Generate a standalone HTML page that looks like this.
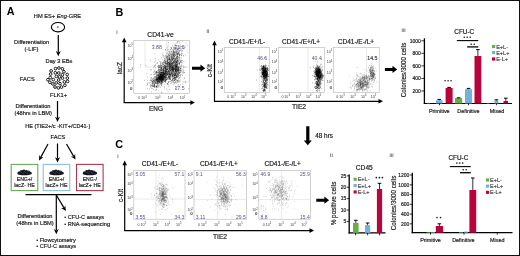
<!DOCTYPE html>
<html><head><meta charset="utf-8"><style>
html,body{margin:0;padding:0;background:#fff;width:520px;height:256px;overflow:hidden;}
svg{display:block;will-change:transform;}
text{font-family:"Liberation Sans", sans-serif;}
</style></head><body>
<svg xmlns="http://www.w3.org/2000/svg" width="520" height="256" viewBox="0 0 520 256">
<rect x="0" y="0" width="520" height="256" fill="#fff" stroke="none" stroke-width="1"/>
<text x="6.8" y="15.3" font-size="10.8" fill="#000" font-weight="bold">A</text>
<text x="57.5" y="18.2" font-size="5.7" text-anchor="middle" fill="#1a1a1a" stroke="#1a1a1a" stroke-width="0.18">HM ES+ <tspan font-style="italic">Eng</tspan>-GRE</text>
<ellipse cx="58" cy="27.2" rx="6.6" ry="4.7" fill="#fff" stroke="#000" stroke-width="1.15"/>
<circle cx="57.8" cy="27.2" r="1.1" fill="#8890b0"/>
<line x1="58.3" y1="35" x2="58.3" y2="52.599999999999994" stroke="#000" stroke-width="1.2"/>
<polygon points="55.8,51.099999999999994 58.3,52.49999999999999 60.8,51.099999999999994 58.3,56.3" fill="#000"/>
<text x="31.6" y="44.4" font-size="5.7" text-anchor="middle" fill="#1a1a1a" stroke="#1a1a1a" stroke-width="0.18">Differentiation</text>
<text x="31.4" y="51" font-size="5.7" text-anchor="middle" fill="#1a1a1a" stroke="#1a1a1a" stroke-width="0.18">(-LIF)</text>
<text x="59" y="63.3" font-size="5.7" text-anchor="middle" fill="#1a1a1a" stroke="#1a1a1a" stroke-width="0.18">Day 3 EBs</text>
<text x="27.3" y="81.2" font-size="5.7" text-anchor="middle" fill="#1a1a1a" stroke="#1a1a1a" stroke-width="0.18">FACS</text>
<circle cx="51.1" cy="70.9" r="1.35" fill="#fff" stroke="#111" stroke-width="0.95"/>
<circle cx="58.8" cy="73.0" r="1.35" fill="#fff" stroke="#111" stroke-width="0.95"/>
<circle cx="55.0" cy="87.0" r="1.35" fill="#fff" stroke="#111" stroke-width="0.95"/>
<circle cx="67.3" cy="78.1" r="1.35" fill="#fff" stroke="#111" stroke-width="0.95"/>
<circle cx="56.2" cy="82.9" r="1.35" fill="#fff" stroke="#111" stroke-width="0.95"/>
<circle cx="50.3" cy="77.6" r="1.35" fill="#fff" stroke="#111" stroke-width="0.95"/>
<circle cx="56.4" cy="76.4" r="1.35" fill="#fff" stroke="#111" stroke-width="0.95"/>
<circle cx="62.5" cy="78.1" r="1.35" fill="#fff" stroke="#111" stroke-width="0.95"/>
<circle cx="64.4" cy="81.9" r="1.35" fill="#fff" stroke="#111" stroke-width="0.95"/>
<circle cx="52.9" cy="83.9" r="1.35" fill="#fff" stroke="#111" stroke-width="0.95"/>
<circle cx="53.3" cy="79.6" r="1.35" fill="#fff" stroke="#111" stroke-width="0.95"/>
<circle cx="55.3" cy="72.8" r="1.35" fill="#fff" stroke="#111" stroke-width="0.95"/>
<circle cx="63.9" cy="71.8" r="1.35" fill="#fff" stroke="#111" stroke-width="0.95"/>
<circle cx="67.2" cy="74.5" r="1.35" fill="#fff" stroke="#111" stroke-width="0.95"/>
<circle cx="61.5" cy="87.1" r="1.35" fill="#fff" stroke="#111" stroke-width="0.95"/>
<circle cx="58.9" cy="68.0" r="1.35" fill="#fff" stroke="#111" stroke-width="0.95"/>
<circle cx="49.9" cy="82.3" r="1.35" fill="#fff" stroke="#111" stroke-width="0.95"/>
<circle cx="60.0" cy="83.7" r="1.35" fill="#fff" stroke="#111" stroke-width="0.95"/>
<circle cx="58.7" cy="80.0" r="1.35" fill="#fff" stroke="#111" stroke-width="0.95"/>
<circle cx="50.6" cy="74.1" r="1.35" fill="#fff" stroke="#111" stroke-width="0.95"/>
<circle cx="62.4" cy="74.8" r="1.35" fill="#fff" stroke="#111" stroke-width="0.95"/>
<circle cx="67.6" cy="81.4" r="1.35" fill="#fff" stroke="#111" stroke-width="0.95"/>
<circle cx="55.5" cy="68.6" r="1.35" fill="#fff" stroke="#111" stroke-width="0.95"/>
<circle cx="64.9" cy="85.3" r="1.35" fill="#fff" stroke="#111" stroke-width="0.95"/>
<circle cx="58.3" cy="87.9" r="1.35" fill="#fff" stroke="#111" stroke-width="0.95"/>
<circle cx="62.4" cy="68.8" r="1.35" fill="#fff" stroke="#111" stroke-width="0.95"/>
<circle cx="59.5" cy="76.8" r="1.35" fill="#fff" stroke="#111" stroke-width="0.95"/>
<circle cx="47.9" cy="79.7" r="1.35" fill="#fff" stroke="#111" stroke-width="0.95"/>
<text x="58.5" y="97.3" font-size="5.7" text-anchor="middle" fill="#1a1a1a" stroke="#1a1a1a" stroke-width="0.18">FLK1+</text>
<line x1="57.5" y1="101" x2="57.5" y2="118.3" stroke="#000" stroke-width="1.2"/>
<polygon points="55.0,116.8 57.5,118.2 60.0,116.8 57.5,122" fill="#000"/>
<text x="33" y="108.3" font-size="5.7" text-anchor="middle" fill="#1a1a1a" stroke="#1a1a1a" stroke-width="0.18">Differentiation</text>
<text x="33.2" y="115" font-size="5.7" text-anchor="middle" fill="#1a1a1a" stroke="#1a1a1a" stroke-width="0.18">(48hrs in LBM)</text>
<text x="57.8" y="127.8" font-size="5.55" text-anchor="middle" fill="#1a1a1a" stroke="#1a1a1a" stroke-width="0.18">HE (TIE2+/c -KIT+/CD41-)</text>
<text x="58" y="139.2" font-size="5.7" text-anchor="middle" fill="#1a1a1a" stroke="#1a1a1a" stroke-width="0.18">FACS</text>
<line x1="48" y1="144" x2="40.72386767045006" y2="157.33957593750822" stroke="#000" stroke-width="1.2"/>
<polygon points="39.29,154.96 40.72,157.34 43.50,157.26 39,160.5" fill="#000"/>
<line x1="57.5" y1="143.5" x2="57.5" y2="158.8" stroke="#000" stroke-width="1.2"/>
<polygon points="55.0,157.3 57.5,158.70000000000002 60.0,157.3 57.5,162.5" fill="#000"/>
<line x1="66.5" y1="144" x2="73.69231213740859" y2="156.3867597922037" stroke="#000" stroke-width="1.2"/>
<polygon points="70.91,156.38 73.69,156.39 75.06,153.97 75.5,159.5" fill="#000"/>
<rect x="11.2" y="164.4" width="26.6" height="26.2" fill="none" stroke="#6aa85c" stroke-width="1.1"/>
<ellipse cx="24.5" cy="173.4" rx="7.2" ry="1.9" fill="#181822"/>
<circle cx="19.3" cy="172.8" r="1.6" fill="#181822"/>
<circle cx="21.5" cy="171.8" r="1.8" fill="#181822"/>
<circle cx="23.9" cy="171.4" r="1.9" fill="#181822"/>
<circle cx="26.3" cy="171.7" r="1.8" fill="#181822"/>
<circle cx="28.5" cy="172.2" r="1.7" fill="#181822"/>
<circle cx="30.3" cy="173.0" r="1.3" fill="#181822"/>
<circle cx="22.7" cy="173.2" r="1.6" fill="#181822"/>
<circle cx="27.1" cy="173.3" r="1.6" fill="#181822"/>
<circle cx="20.3" cy="171.7" r="0.35" fill="#8890a0"/>
<circle cx="21.7" cy="172.4" r="0.35" fill="#8890a0"/>
<circle cx="23.1" cy="173.1" r="0.35" fill="#8890a0"/>
<circle cx="24.5" cy="171.7" r="0.35" fill="#8890a0"/>
<circle cx="25.9" cy="172.4" r="0.35" fill="#8890a0"/>
<circle cx="27.3" cy="173.1" r="0.35" fill="#8890a0"/>
<circle cx="28.7" cy="171.7" r="0.35" fill="#8890a0"/>
<text x="24.5" y="181.0" font-size="5.1" text-anchor="middle" fill="#1a1a1a" stroke="#1a1a1a" stroke-width="0.18">ENG+/</text>
<text x="24.5" y="187.0" font-size="5.3" text-anchor="middle" fill="#1a1a1a" stroke="#1a1a1a" stroke-width="0.18">lacZ- HE</text>
<rect x="43.2" y="164.4" width="26.6" height="26.2" fill="none" stroke="#8dbfde" stroke-width="1.1"/>
<ellipse cx="56.5" cy="173.4" rx="7.2" ry="1.9" fill="#181822"/>
<circle cx="51.3" cy="172.8" r="1.6" fill="#181822"/>
<circle cx="53.5" cy="171.8" r="1.8" fill="#181822"/>
<circle cx="55.9" cy="171.4" r="1.9" fill="#181822"/>
<circle cx="58.3" cy="171.7" r="1.8" fill="#181822"/>
<circle cx="60.5" cy="172.2" r="1.7" fill="#181822"/>
<circle cx="62.3" cy="173.0" r="1.3" fill="#181822"/>
<circle cx="54.7" cy="173.2" r="1.6" fill="#181822"/>
<circle cx="59.1" cy="173.3" r="1.6" fill="#181822"/>
<circle cx="52.3" cy="171.7" r="0.35" fill="#8890a0"/>
<circle cx="53.7" cy="172.4" r="0.35" fill="#8890a0"/>
<circle cx="55.1" cy="173.1" r="0.35" fill="#8890a0"/>
<circle cx="56.5" cy="171.7" r="0.35" fill="#8890a0"/>
<circle cx="57.9" cy="172.4" r="0.35" fill="#8890a0"/>
<circle cx="59.3" cy="173.1" r="0.35" fill="#8890a0"/>
<circle cx="60.7" cy="171.7" r="0.35" fill="#8890a0"/>
<text x="56.5" y="181.0" font-size="5.1" text-anchor="middle" fill="#1a1a1a" stroke="#1a1a1a" stroke-width="0.18">ENG+/</text>
<text x="56.5" y="187.0" font-size="5.3" text-anchor="middle" fill="#1a1a1a" stroke="#1a1a1a" stroke-width="0.18">lacZ+ HE</text>
<rect x="76.5" y="164.4" width="26.6" height="26.2" fill="none" stroke="#a83a4e" stroke-width="1.1"/>
<ellipse cx="89.8" cy="173.4" rx="7.2" ry="1.9" fill="#181822"/>
<circle cx="84.6" cy="172.8" r="1.6" fill="#181822"/>
<circle cx="86.8" cy="171.8" r="1.8" fill="#181822"/>
<circle cx="89.2" cy="171.4" r="1.9" fill="#181822"/>
<circle cx="91.6" cy="171.7" r="1.8" fill="#181822"/>
<circle cx="93.8" cy="172.2" r="1.7" fill="#181822"/>
<circle cx="95.6" cy="173.0" r="1.3" fill="#181822"/>
<circle cx="88.0" cy="173.2" r="1.6" fill="#181822"/>
<circle cx="92.4" cy="173.3" r="1.6" fill="#181822"/>
<circle cx="85.6" cy="171.7" r="0.35" fill="#8890a0"/>
<circle cx="87.0" cy="172.4" r="0.35" fill="#8890a0"/>
<circle cx="88.4" cy="173.1" r="0.35" fill="#8890a0"/>
<circle cx="89.8" cy="171.7" r="0.35" fill="#8890a0"/>
<circle cx="91.2" cy="172.4" r="0.35" fill="#8890a0"/>
<circle cx="92.6" cy="173.1" r="0.35" fill="#8890a0"/>
<circle cx="94.0" cy="171.7" r="0.35" fill="#8890a0"/>
<text x="89.8" y="181.0" font-size="5.1" text-anchor="middle" fill="#1a1a1a" stroke="#1a1a1a" stroke-width="0.18">ENG-/</text>
<text x="89.8" y="187.0" font-size="5.3" text-anchor="middle" fill="#1a1a1a" stroke="#1a1a1a" stroke-width="0.18">lacZ+ HE</text>
<line x1="25.5" y1="194.6" x2="91.5" y2="194.6" stroke="#000" stroke-width="1.2"/>
<line x1="56.3" y1="195" x2="56.3" y2="230.60000000000002" stroke="#000" stroke-width="1.2"/>
<polygon points="53.8,229.10000000000002 56.3,230.50000000000003 58.8,229.10000000000002 56.3,234.3" fill="#000"/>
<line x1="56.3" y1="195" x2="63.962060485040425" y2="207.90452292217336" stroke="#000" stroke-width="1.2"/>
<polygon points="61.18,207.93 63.96,207.90 65.31,205.48 65.8,211" fill="#000"/>
<text x="35" y="218.3" font-size="5.7" text-anchor="middle" fill="#1a1a1a" stroke="#1a1a1a" stroke-width="0.18">Differentiation</text>
<text x="35" y="224.6" font-size="5.7" text-anchor="middle" fill="#1a1a1a" stroke="#1a1a1a" stroke-width="0.18">(48hrs in LBM)</text>
<text x="64.2" y="219.1" font-size="5.6" fill="#1a1a1a" stroke="#1a1a1a" stroke-width="0.18">• CFU-C assays</text>
<text x="64.2" y="225.6" font-size="5.6" fill="#1a1a1a" stroke="#1a1a1a" stroke-width="0.18">• RNA-sequencing</text>
<text x="36.2" y="241.9" font-size="5.6" fill="#1a1a1a" stroke="#1a1a1a" stroke-width="0.18">• Flowcytometry</text>
<text x="36.2" y="248.3" font-size="5.6" fill="#1a1a1a" stroke="#1a1a1a" stroke-width="0.18">• CFU-C assays</text>
<text x="115.6" y="15.6" font-size="10.8" fill="#000" font-weight="bold">B</text>
<text x="116.3" y="33.7" font-size="5" fill="#666" font-weight="bold">i</text>
<text x="160.5" y="37.1" font-size="6.7" text-anchor="middle" fill="#1a1a1a" stroke="#1a1a1a" stroke-width="0.18">CD41-ve</text>
<rect x="133.8" y="40.5" width="55.5" height="53.0" fill="none" stroke="#b4b4b4" stroke-width="0.6"/>
<path d="M145 40.5 V67 H166.3 V40.5 M168 40.5 V67 H189.3 M168 93.5 V82 H189.3" fill="none" stroke="#cfcfcf" stroke-width="0.45"/>
<path d="M163.0 75.3h0.5M162.1 72.9h0.5M161.9 75.1h0.5M152.9 80.0h0.5M155.6 83.1h0.5M163.6 75.6h0.5M158.4 81.0h0.5M158.8 80.8h0.5M161.3 77.8h0.5M161.0 74.7h0.5M160.9 75.4h0.5M159.5 78.7h0.5M162.0 75.9h0.5M160.5 76.8h0.5M159.2 81.1h0.5M159.6 77.9h0.5M164.7 76.3h0.5M159.8 80.3h0.5M162.2 78.2h0.5M160.0 79.3h0.5M163.2 79.6h0.5M160.9 79.0h0.5M158.3 80.2h0.5M159.4 80.3h0.5M157.8 79.9h0.5M159.5 78.7h0.5M156.6 76.0h0.5M165.0 75.5h0.5M158.3 77.5h0.5M157.0 79.4h0.5M160.8 76.3h0.5M160.9 75.1h0.5M165.1 79.9h0.5M162.4 78.6h0.5M157.7 78.5h0.5M158.7 81.5h0.5M160.7 77.5h0.5M166.7 79.4h0.5M162.4 79.9h0.5M156.4 79.8h0.5M157.8 78.2h0.5M162.4 75.3h0.5M161.0 80.2h0.5M159.3 77.1h0.5M164.8 75.3h0.5M151.8 86.7h0.5M160.7 77.8h0.5M156.9 79.0h0.5M165.0 76.5h0.5M161.8 82.8h0.5M161.9 79.3h0.5M160.0 78.4h0.5M159.9 77.7h0.5M163.0 79.7h0.5M158.9 77.9h0.5M162.4 77.8h0.5M161.6 77.1h0.5M159.0 77.6h0.5M162.3 75.2h0.5M156.2 79.3h0.5M158.9 80.9h0.5M161.2 81.6h0.5M155.3 80.3h0.5M155.9 80.1h0.5M162.5 80.2h0.5M158.0 74.5h0.5M160.0 74.6h0.5M161.2 76.4h0.5M158.0 78.9h0.5M160.5 75.3h0.5M158.8 78.7h0.5M162.9 76.7h0.5M154.9 78.3h0.5M161.9 79.1h0.5M162.3 75.4h0.5M163.5 77.0h0.5M160.1 80.2h0.5M156.3 78.5h0.5M154.7 77.1h0.5M157.7 78.1h0.5M165.1 77.2h0.5M157.5 77.2h0.5M162.6 76.7h0.5M160.6 83.3h0.5M161.9 75.8h0.5M163.9 79.3h0.5M160.8 77.2h0.5M160.3 72.8h0.5M160.3 77.0h0.5M156.4 74.9h0.5M161.4 76.0h0.5M160.9 78.8h0.5M161.6 76.8h0.5M169.7 74.7h0.5M159.4 77.9h0.5M163.7 76.5h0.5M161.7 79.2h0.5M160.7 74.7h0.5M157.5 83.0h0.5M161.7 77.7h0.5M161.8 76.4h0.5M167.2 77.7h0.5M160.0 74.6h0.5M159.5 78.9h0.5M162.8 79.7h0.5M165.7 75.0h0.5M160.8 77.2h0.5M157.8 78.3h0.5M161.2 78.1h0.5M158.6 81.1h0.5M163.6 79.3h0.5M164.5 81.8h0.5M161.8 78.7h0.5M159.1 76.9h0.5M163.8 78.3h0.5M162.1 77.1h0.5M156.5 80.9h0.5M159.6 74.9h0.5M161.1 82.9h0.5M159.0 76.3h0.5M157.1 81.6h0.5M162.6 78.8h0.5M153.5 80.5h0.5M165.0 70.6h0.5M159.7 79.5h0.5M166.5 70.3h0.5M158.8 73.3h0.5M158.5 79.6h0.5M160.6 73.8h0.5M161.3 75.9h0.5M158.8 77.0h0.5M158.9 79.8h0.5M164.6 74.4h0.5M160.9 79.5h0.5M157.3 75.4h0.5M164.2 76.8h0.5M166.0 75.8h0.5M158.9 77.3h0.5M159.4 78.9h0.5M159.0 79.7h0.5M157.9 77.2h0.5M163.3 77.6h0.5M160.1 75.7h0.5M159.0 77.1h0.5M156.3 79.5h0.5M158.9 78.4h0.5M157.6 78.9h0.5M159.5 79.5h0.5M160.3 77.3h0.5M163.3 74.3h0.5M162.2 75.3h0.5M162.1 82.7h0.5M157.3 79.9h0.5M159.3 82.4h0.5M160.7 77.3h0.5M162.6 76.8h0.5M160.0 78.5h0.5M161.1 74.7h0.5M161.3 76.3h0.5M160.5 77.7h0.5M162.3 73.8h0.5M164.3 79.7h0.5M163.6 75.9h0.5M160.6 77.0h0.5M164.3 71.6h0.5M165.9 73.8h0.5M152.9 82.4h0.5M164.8 79.3h0.5M162.6 76.9h0.5M162.2 72.5h0.5M161.0 77.8h0.5M157.0 84.0h0.5M159.5 77.1h0.5M157.2 79.1h0.5M165.7 77.5h0.5M169.1 76.6h0.5M159.1 79.4h0.5M158.5 78.3h0.5M160.2 81.3h0.5M162.4 78.0h0.5M158.8 81.2h0.5M161.4 78.3h0.5M166.0 74.9h0.5M158.5 75.8h0.5M160.8 73.3h0.5M161.7 80.6h0.5M155.8 76.9h0.5M160.6 78.0h0.5M164.8 77.0h0.5M161.3 72.5h0.5M158.1 75.1h0.5M167.9 76.7h0.5M160.6 77.2h0.5M160.1 79.5h0.5M155.9 79.9h0.5M163.3 72.4h0.5M161.1 78.8h0.5M161.0 80.1h0.5M166.1 75.1h0.5M159.5 78.1h0.5M158.6 79.6h0.5M156.6 77.9h0.5M156.7 75.1h0.5M163.2 76.4h0.5M163.2 81.9h0.5M155.2 83.3h0.5M156.8 79.5h0.5M161.3 80.5h0.5M154.2 81.3h0.5M161.2 76.6h0.5M157.4 79.6h0.5M159.2 74.9h0.5M161.7 77.1h0.5M159.5 79.0h0.5M166.1 74.4h0.5M161.5 80.0h0.5M159.5 74.0h0.5M167.5 73.8h0.5M162.1 74.9h0.5M159.6 76.5h0.5M162.5 76.4h0.5M159.3 78.7h0.5M162.0 78.9h0.5M158.0 77.2h0.5M161.3 78.4h0.5M165.6 78.5h0.5M161.6 76.7h0.5M157.5 79.0h0.5M157.8 79.1h0.5M158.0 77.2h0.5M163.4 75.4h0.5M161.5 76.0h0.5M162.1 75.3h0.5M157.9 78.2h0.5M162.4 81.1h0.5M162.6 79.4h0.5M159.8 76.0h0.5M163.1 74.6h0.5M158.1 82.3h0.5M158.4 76.7h0.5M161.3 81.3h0.5M161.9 77.1h0.5M160.7 73.4h0.5M167.8 74.0h0.5M158.9 77.4h0.5M162.6 75.7h0.5M161.4 85.6h0.5M159.6 78.3h0.5M159.1 82.7h0.5M163.3 73.7h0.5M155.3 77.6h0.5M158.8 77.2h0.5M165.5 77.3h0.5M160.1 78.1h0.5M156.6 78.1h0.5M157.4 77.6h0.5M164.5 75.2h0.5M157.4 81.5h0.5M161.1 75.9h0.5M163.2 76.7h0.5M156.4 77.7h0.5M160.4 79.6h0.5M157.9 80.9h0.5M160.6 79.0h0.5M161.6 76.3h0.5M156.6 73.0h0.5M159.5 77.5h0.5M154.9 79.1h0.5M161.3 74.8h0.5M161.1 81.4h0.5M160.6 76.0h0.5M162.3 80.8h0.5M159.9 75.2h0.5M162.5 78.3h0.5M154.3 83.0h0.5M161.5 76.2h0.5M160.7 76.6h0.5M158.2 79.0h0.5M161.5 78.7h0.5M162.8 73.3h0.5M161.7 76.3h0.5M157.6 79.0h0.5M159.2 73.7h0.5M162.4 78.5h0.5M162.2 79.9h0.5M165.0 78.4h0.5M161.0 80.8h0.5M161.5 81.3h0.5M159.0 81.0h0.5M161.4 76.1h0.5M156.5 75.3h0.5M160.0 79.8h0.5M157.2 79.3h0.5M162.4 75.3h0.5M158.3 81.8h0.5M157.3 81.0h0.5M158.6 76.8h0.5M159.2 76.3h0.5M160.1 74.7h0.5M164.2 79.4h0.5M160.0 76.1h0.5M161.1 79.4h0.5M154.8 76.7h0.5M162.5 78.4h0.5M158.4 77.7h0.5M161.5 75.5h0.5M161.8 78.2h0.5M162.8 80.3h0.5M159.6 75.2h0.5M162.0 78.2h0.5M168.0 77.4h0.5M159.7 73.0h0.5M159.7 81.8h0.5M168.6 75.9h0.5M161.7 78.7h0.5M161.2 80.2h0.5M157.6 75.7h0.5M161.2 75.7h0.5M159.7 77.7h0.5M158.3 77.8h0.5M164.9 75.8h0.5M158.4 79.9h0.5M157.5 81.4h0.5M158.8 82.1h0.5M165.5 80.5h0.5M161.5 78.4h0.5M164.7 74.1h0.5M163.4 75.2h0.5M163.5 76.1h0.5M160.8 80.6h0.5M165.5 77.3h0.5M157.8 80.2h0.5M160.5 78.4h0.5M158.3 77.4h0.5M162.1 80.9h0.5M162.1 76.1h0.5M156.7 79.3h0.5M156.3 80.1h0.5M160.8 74.0h0.5M157.6 77.9h0.5M162.6 75.6h0.5M160.1 79.8h0.5M159.1 79.5h0.5M168.0 76.1h0.5M162.1 76.3h0.5M162.3 71.9h0.5M162.1 72.5h0.5M162.5 75.0h0.5M166.6 79.4h0.5M158.9 76.0h0.5M160.2 79.6h0.5M160.2 77.7h0.5M160.1 80.0h0.5M159.1 79.9h0.5M158.8 78.2h0.5M160.7 76.0h0.5M160.2 79.4h0.5M160.3 79.9h0.5M158.5 79.4h0.5M160.6 75.2h0.5M157.0 82.7h0.5M160.6 77.9h0.5M163.6 77.9h0.5M161.4 79.6h0.5M158.9 78.2h0.5M163.5 75.1h0.5M160.3 76.0h0.5M165.1 78.8h0.5M163.6 77.3h0.5M163.2 73.9h0.5M165.2 74.0h0.5M157.9 77.6h0.5M160.3 74.5h0.5M163.0 78.5h0.5M155.3 79.6h0.5M161.2 72.7h0.5M165.6 76.7h0.5M160.4 74.8h0.5M158.3 78.3h0.5M162.4 77.8h0.5M162.8 79.6h0.5M156.2 76.9h0.5M158.8 75.6h0.5M158.7 80.9h0.5M160.5 77.6h0.5M158.4 81.1h0.5M169.8 76.6h0.5M162.5 77.3h0.5M157.5 82.4h0.5M161.2 76.7h0.5M163.2 80.2h0.5M158.9 75.4h0.5M159.8 81.1h0.5M164.1 76.6h0.5M157.5 81.4h0.5M162.3 79.9h0.5M159.7 76.8h0.5M157.7 74.6h0.5M161.0 77.3h0.5M157.1 77.5h0.5M154.3 82.3h0.5M157.4 78.7h0.5M163.9 75.3h0.5M160.8 77.0h0.5M161.4 77.9h0.5M160.4 76.6h0.5M155.9 77.0h0.5M161.4 82.0h0.5M163.9 77.1h0.5M160.7 80.5h0.5M156.1 79.7h0.5M166.0 74.8h0.5M159.9 81.9h0.5M154.0 80.2h0.5M161.2 76.1h0.5M163.2 74.5h0.5M163.7 74.9h0.5M163.9 76.6h0.5M159.4 78.1h0.5M163.5 77.0h0.5M162.7 74.7h0.5M161.7 74.9h0.5M169.9 70.0h0.5M160.9 76.8h0.5M161.6 83.8h0.5M166.8 69.9h0.5M168.9 66.0h0.5M169.8 66.8h0.5M167.9 68.6h0.5M165.8 66.9h0.5M169.7 67.8h0.5M159.6 71.5h0.5M169.1 71.8h0.5M169.5 81.7h0.5M154.8 76.5h0.5M165.2 67.9h0.5M159.3 72.5h0.5M154.4 71.4h0.5M169.3 74.7h0.5M168.9 67.3h0.5M162.9 72.4h0.5M158.1 81.8h0.5M168.7 66.3h0.5M161.2 73.7h0.5M164.4 81.4h0.5M166.7 69.5h0.5M158.8 66.0h0.5M158.9 72.1h0.5M169.5 65.8h0.5M163.6 68.0h0.5M162.1 73.9h0.5M161.3 83.6h0.5M156.4 71.6h0.5M169.4 76.8h0.5M161.2 75.1h0.5M169.0 76.2h0.5M168.0 75.3h0.5M161.0 81.3h0.5M161.0 68.6h0.5M162.4 74.0h0.5M162.4 78.6h0.5M157.7 70.1h0.5M164.7 78.1h0.5M177.3 60.7h0.5M169.2 73.1h0.5M157.3 63.2h0.5M161.5 85.7h0.5M168.3 69.0h0.5M176.9 58.0h0.5M167.4 72.0h0.5M158.3 75.4h0.5M155.8 73.1h0.5M160.9 67.6h0.5M163.6 80.1h0.5M157.1 79.9h0.5M165.5 72.7h0.5M156.8 76.3h0.5M171.9 59.5h0.5M172.4 67.9h0.5M170.3 65.5h0.5M166.7 69.8h0.5M166.5 69.4h0.5M157.0 80.8h0.5M172.7 75.8h0.5M163.4 71.1h0.5M170.7 73.2h0.5M153.3 68.1h0.5M171.2 59.9h0.5M163.5 77.6h0.5M165.9 77.5h0.5M170.1 70.5h0.5M158.3 71.0h0.5M168.7 79.1h0.5M165.0 69.8h0.5M157.9 78.3h0.5M159.4 73.5h0.5M168.9 77.2h0.5M165.3 72.2h0.5M167.7 66.0h0.5M163.8 72.2h0.5M169.6 63.9h0.5M165.7 70.7h0.5M158.9 76.5h0.5M174.3 63.3h0.5M161.7 68.1h0.5M165.7 68.3h0.5M165.8 77.5h0.5M160.2 75.0h0.5M169.9 70.7h0.5M168.6 73.4h0.5M156.0 86.6h0.5M163.1 71.7h0.5M159.3 71.2h0.5M161.9 73.1h0.5M171.0 71.4h0.5M161.0 71.1h0.5M165.5 73.8h0.5M159.6 82.0h0.5M165.6 79.7h0.5M167.7 74.8h0.5M160.1 75.2h0.5M165.8 66.7h0.5M169.1 67.1h0.5M152.7 83.7h0.5M160.1 77.6h0.5M161.9 71.2h0.5M160.4 76.7h0.5M167.5 69.0h0.5M165.3 73.4h0.5M164.2 70.6h0.5M156.6 79.2h0.5M164.9 69.2h0.5M163.2 70.6h0.5M167.3 66.8h0.5M169.3 62.7h0.5M161.1 75.0h0.5M154.4 74.5h0.5M161.4 73.8h0.5M159.5 76.6h0.5M160.2 69.5h0.5M161.5 76.9h0.5M160.7 67.7h0.5M160.0 74.2h0.5M169.0 64.5h0.5M171.6 56.5h0.5M160.1 78.3h0.5M162.5 66.7h0.5M157.3 75.7h0.5M158.6 83.7h0.5M160.7 73.2h0.5M164.2 70.4h0.5M166.2 66.2h0.5M163.8 62.0h0.5M160.8 69.4h0.5M161.4 83.9h0.5M159.6 65.5h0.5M164.7 64.9h0.5M168.7 71.3h0.5M159.2 67.2h0.5M163.6 76.9h0.5M154.1 74.0h0.5M164.2 76.8h0.5M164.1 65.5h0.5M157.4 80.5h0.5M167.0 65.6h0.5M171.6 62.3h0.5M161.8 72.2h0.5M158.0 69.8h0.5M166.9 62.3h0.5M163.9 74.7h0.5M161.0 69.2h0.5M170.8 61.8h0.5M162.8 78.1h0.5M174.3 64.6h0.5M166.1 63.5h0.5M150.8 80.0h0.5M158.2 67.0h0.5M158.6 67.2h0.5M157.7 74.3h0.5M162.2 68.1h0.5M166.1 72.0h0.5M166.9 63.7h0.5M166.7 67.9h0.5M158.3 74.5h0.5M156.2 71.6h0.5M164.5 74.3h0.5M159.4 77.5h0.5M165.4 67.2h0.5M158.7 72.3h0.5M166.7 66.6h0.5M172.5 66.1h0.5M159.4 69.3h0.5M166.6 72.5h0.5M156.6 73.1h0.5M159.1 77.1h0.5M173.5 62.3h0.5M154.8 69.2h0.5M166.5 63.0h0.5M160.9 73.0h0.5M171.3 66.9h0.5M171.0 82.8h0.5M166.2 69.4h0.5M168.0 62.4h0.5M163.1 79.3h0.5M164.0 65.7h0.5M163.5 77.9h0.5M170.0 59.2h0.5M171.2 70.5h0.5M162.0 66.3h0.5M156.4 85.8h0.5M175.1 54.7h0.5M165.1 77.5h0.5M163.8 69.1h0.5M156.2 79.0h0.5M162.3 80.3h0.5M162.3 79.5h0.5M166.9 67.8h0.5M170.0 72.8h0.5M169.1 74.3h0.5M164.5 74.3h0.5M162.6 77.4h0.5M159.9 70.9h0.5M160.1 73.5h0.5M160.9 69.2h0.5M151.5 69.9h0.5M160.3 66.5h0.5M164.8 74.6h0.5M168.6 71.7h0.5M161.3 72.6h0.5M164.7 67.4h0.5M162.3 75.2h0.5M164.3 73.1h0.5M166.1 73.1h0.5M169.0 71.2h0.5M152.0 82.0h0.5M165.4 81.4h0.5M160.9 68.7h0.5M158.0 77.1h0.5M168.9 78.7h0.5M167.0 62.8h0.5M169.8 68.0h0.5M160.6 74.7h0.5M154.5 79.6h0.5M166.7 64.6h0.5M172.6 67.3h0.5M162.8 77.0h0.5M176.5 62.8h0.5M169.5 78.1h0.5M162.3 72.4h0.5M168.0 71.7h0.5M159.4 73.9h0.5M167.6 60.9h0.5M159.2 72.4h0.5M161.5 73.1h0.5M166.9 64.8h0.5M169.2 63.5h0.5M166.4 69.0h0.5M153.9 86.4h0.5M170.7 70.4h0.5M168.1 70.7h0.5M165.0 64.2h0.5M163.0 78.0h0.5M170.5 71.6h0.5M160.9 70.6h0.5M160.7 74.4h0.5M153.4 72.2h0.5M157.7 74.0h0.5M163.3 67.0h0.5M164.9 62.1h0.5M158.9 70.0h0.5M167.2 69.6h0.5M169.4 70.3h0.5M167.1 59.4h0.5M163.2 69.9h0.5M164.7 74.2h0.5M157.2 66.3h0.5M167.7 79.3h0.5M168.7 72.9h0.5M158.7 74.5h0.5M168.7 73.6h0.5M160.4 79.0h0.5M171.8 69.6h0.5M161.3 75.0h0.5M154.0 77.8h0.5M163.4 69.3h0.5M154.8 72.6h0.5M166.1 72.9h0.5M155.3 65.5h0.5M164.2 60.9h0.5M163.2 72.8h0.5M177.7 58.4h0.5M168.0 82.2h0.5M169.2 62.0h0.5M155.4 80.0h0.5M169.1 77.8h0.5M162.8 71.1h0.5M163.7 79.7h0.5M162.1 69.1h0.5M173.1 68.9h0.5M161.8 79.0h0.5M161.1 84.1h0.5M168.7 73.0h0.5M166.7 70.3h0.5M171.0 66.7h0.5M163.8 77.2h0.5M160.4 79.1h0.5M161.8 78.8h0.5M160.8 78.4h0.5M164.8 81.2h0.5M165.1 73.3h0.5M157.7 80.8h0.5M164.5 73.5h0.5M167.3 69.6h0.5M162.1 75.0h0.5M158.7 76.7h0.5M168.8 76.7h0.5M154.5 80.1h0.5M162.9 78.7h0.5M164.1 67.1h0.5M174.3 75.7h0.5M166.0 73.1h0.5M167.0 71.6h0.5M164.3 76.9h0.5M159.0 78.6h0.5M163.8 80.6h0.5M164.5 68.0h0.5M162.1 76.4h0.5M152.5 81.7h0.5M163.0 74.0h0.5M163.5 69.1h0.5M171.8 65.4h0.5M157.3 74.4h0.5M161.9 73.8h0.5M169.7 68.4h0.5M163.0 62.9h0.5M158.9 73.8h0.5M163.3 64.1h0.5M159.2 81.7h0.5M167.1 72.6h0.5M161.9 80.0h0.5M161.7 79.5h0.5M160.1 72.7h0.5M167.7 68.4h0.5M160.2 68.2h0.5M157.0 70.9h0.5M161.8 78.2h0.5M164.1 72.3h0.5M165.6 79.4h0.5M160.5 72.1h0.5M151.2 78.3h0.5M161.7 70.7h0.5M171.3 65.2h0.5M156.6 62.9h0.5M162.6 82.4h0.5M163.2 69.3h0.5M162.1 70.6h0.5M174.3 71.8h0.5M160.2 87.3h0.5M159.3 69.9h0.5M172.1 59.3h0.5M153.9 81.6h0.5M169.7 72.6h0.5M170.2 79.0h0.5M171.3 68.3h0.5M156.5 77.7h0.5M168.1 71.3h0.5M167.5 63.7h0.5M170.2 79.3h0.5M160.4 69.5h0.5M166.8 70.2h0.5M154.9 90.1h0.5M164.4 77.8h0.5M163.8 66.6h0.5M165.5 70.9h0.5M164.8 67.9h0.5M156.1 72.3h0.5M165.2 66.5h0.5M166.5 73.4h0.5M161.6 82.2h0.5M162.0 81.4h0.5M170.3 75.9h0.5M167.3 65.6h0.5M157.5 76.2h0.5M156.0 72.8h0.5M148.8 82.6h0.5M161.5 72.6h0.5M165.2 80.4h0.5M159.0 79.0h0.5M160.3 63.3h0.5M166.4 73.4h0.5M155.2 81.2h0.5M163.9 67.2h0.5M167.7 74.8h0.5M165.0 71.4h0.5M165.9 80.7h0.5M163.3 75.3h0.5M162.8 69.8h0.5M163.6 73.7h0.5M163.8 73.1h0.5M161.5 70.5h0.5M160.6 71.9h0.5M166.9 67.5h0.5M172.3 68.2h0.5M165.2 72.8h0.5M170.5 67.1h0.5M161.4 82.4h0.5M161.7 65.7h0.5M160.0 80.7h0.5M162.8 75.3h0.5M163.2 76.1h0.5M164.3 73.6h0.5M161.0 72.5h0.5M160.9 65.6h0.5M169.2 78.6h0.5M163.6 72.3h0.5M165.1 68.2h0.5M159.7 67.3h0.5M165.1 67.3h0.5M161.7 75.0h0.5M163.1 72.1h0.5M163.1 68.6h0.5M161.5 75.5h0.5M160.4 82.8h0.5M160.8 78.2h0.5M165.1 73.1h0.5M168.7 60.4h0.5M154.4 66.6h0.5M176.0 64.6h0.5M165.3 67.2h0.5M160.9 81.1h0.5M158.5 78.8h0.5M160.5 80.7h0.5M166.8 63.9h0.5M165.6 67.6h0.5M167.6 67.0h0.5M157.4 72.4h0.5M169.5 78.4h0.5M163.7 67.7h0.5M167.2 58.5h0.5M165.4 75.8h0.5M167.1 74.2h0.5M162.9 72.1h0.5M156.7 86.7h0.5M163.0 75.8h0.5M162.3 76.1h0.5M163.9 70.7h0.5M159.1 71.4h0.5M161.4 67.0h0.5M168.1 70.7h0.5M163.0 72.9h0.5M171.2 58.4h0.5M162.7 77.5h0.5M162.2 75.4h0.5M163.9 77.8h0.5M153.3 74.7h0.5M164.7 76.1h0.5M165.0 65.9h0.5M164.6 72.5h0.5M162.9 80.1h0.5M163.4 79.6h0.5M165.7 77.6h0.5M167.3 68.3h0.5M166.7 72.2h0.5M166.5 69.6h0.5M171.3 73.2h0.5M160.1 77.7h0.5M169.2 73.8h0.5M158.3 82.2h0.5M165.6 61.7h0.5M169.0 65.4h0.5M169.7 72.6h0.5M166.2 71.4h0.5M175.1 68.3h0.5M171.8 80.5h0.5M162.9 76.3h0.5M158.1 66.0h0.5M166.1 65.3h0.5M170.7 78.1h0.5M169.5 66.4h0.5M161.5 72.7h0.5M172.2 78.1h0.5M167.7 72.1h0.5M165.1 75.6h0.5M160.2 72.5h0.5M160.1 84.0h0.5M165.1 63.4h0.5M164.9 69.0h0.5M166.6 78.9h0.5M167.9 70.1h0.5M162.6 82.1h0.5M161.2 81.0h0.5M172.3 69.9h0.5M173.0 74.3h0.5M165.5 68.6h0.5M160.3 67.1h0.5M160.9 64.9h0.5M164.6 73.3h0.5M163.8 70.2h0.5M170.3 62.7h0.5M174.3 59.2h0.5M170.1 68.8h0.5M164.2 86.8h0.5M166.2 75.5h0.5M163.1 81.1h0.5M163.2 68.6h0.5M164.6 65.9h0.5M163.8 60.0h0.5M164.4 67.2h0.5M169.4 74.1h0.5M158.8 65.3h0.5M164.0 65.1h0.5M160.6 81.4h0.5M168.4 77.8h0.5M165.3 73.0h0.5M170.1 81.3h0.5M158.2 75.8h0.5M165.1 72.0h0.5M161.3 79.2h0.5M163.5 78.5h0.5M165.1 71.1h0.5M167.5 78.4h0.5M169.9 74.9h0.5M162.1 77.3h0.5M164.9 80.2h0.5M163.5 72.1h0.5M160.4 70.7h0.5M161.7 76.5h0.5M160.3 65.2h0.5M157.8 72.9h0.5M158.6 87.3h0.5M158.9 67.3h0.5M172.2 73.4h0.5M166.7 75.9h0.5M167.1 63.9h0.5M156.0 79.0h0.5M163.7 74.2h0.5M164.0 75.6h0.5M160.3 75.9h0.5M164.7 69.2h0.5M169.2 69.8h0.5M163.1 70.5h0.5M168.6 73.3h0.5M162.3 72.8h0.5M165.9 64.0h0.5M160.2 64.0h0.5M164.1 68.0h0.5M160.6 73.9h0.5M168.2 70.4h0.5M154.6 65.6h0.5M156.7 79.9h0.5M165.4 82.2h0.5M169.3 69.3h0.5M155.3 73.7h0.5M159.8 79.1h0.5M164.8 72.0h0.5M164.6 84.2h0.5M168.9 71.4h0.5M155.7 87.8h0.5M165.5 71.7h0.5M149.1 89.1h0.5M162.7 69.7h0.5M165.9 68.8h0.5M165.7 71.6h0.5M172.3 69.2h0.5M159.7 85.5h0.5M169.8 74.2h0.5M165.0 68.0h0.5M161.8 84.3h0.5M170.6 70.4h0.5M159.4 66.0h0.5M167.4 62.7h0.5M161.4 67.3h0.5M156.1 72.3h0.5M162.4 63.4h0.5M160.6 70.6h0.5M165.2 69.3h0.5M169.9 69.6h0.5M159.7 79.5h0.5M164.8 69.9h0.5M161.1 76.7h0.5M167.0 63.4h0.5M164.3 76.8h0.5M157.4 82.8h0.5M166.8 83.7h0.5M152.6 83.2h0.5M158.4 75.6h0.5M151.1 77.8h0.5M152.8 81.1h0.5M165.3 66.3h0.5M171.7 64.3h0.5M162.5 79.6h0.5M165.7 81.2h0.5M167.2 64.2h0.5M168.3 73.3h0.5M165.5 75.2h0.5M163.0 70.3h0.5M158.8 70.2h0.5M161.6 67.6h0.5M160.8 79.1h0.5M158.9 81.1h0.5M162.3 78.0h0.5M171.4 71.9h0.5M161.0 65.9h0.5M169.9 71.0h0.5M158.2 75.4h0.5M158.9 82.4h0.5M165.2 70.6h0.5M176.0 69.6h0.5M157.1 72.5h0.5M158.6 69.2h0.5M161.4 79.3h0.5M161.9 75.3h0.5M168.7 64.5h0.5M166.9 69.3h0.5M171.9 68.4h0.5M167.9 77.7h0.5M173.2 68.9h0.5M155.6 71.4h0.5M169.1 75.7h0.5M159.6 77.1h0.5M158.6 59.8h0.5M164.8 77.7h0.5M169.7 67.0h0.5M150.5 69.6h0.5M151.2 74.5h0.5M162.0 79.0h0.5M165.0 61.5h0.5M159.7 69.8h0.5M154.9 72.2h0.5M170.5 69.7h0.5M165.9 67.5h0.5M155.6 74.3h0.5M163.0 66.1h0.5M164.4 77.9h0.5M163.6 73.3h0.5M160.9 81.8h0.5M168.5 64.2h0.5M163.7 77.3h0.5M161.4 92.3h0.5M173.1 67.4h0.5M162.7 77.0h0.5M169.6 67.8h0.5M165.5 71.1h0.5M165.1 72.6h0.5M166.0 63.3h0.5M163.9 74.3h0.5M170.5 66.0h0.5M161.6 70.7h0.5M173.1 62.8h0.5M165.8 71.7h0.5M163.8 74.0h0.5M160.1 76.1h0.5M170.2 66.0h0.5M160.3 79.5h0.5M161.8 70.8h0.5M169.0 74.7h0.5M159.9 76.1h0.5M164.1 88.0h0.5M165.9 71.5h0.5M162.7 79.9h0.5M170.4 65.3h0.5M167.9 77.8h0.5M163.2 62.6h0.5M166.0 76.6h0.5M159.6 73.9h0.5M171.4 55.9h0.5M167.3 74.6h0.5M158.4 72.1h0.5M161.4 72.5h0.5M165.9 71.7h0.5M159.4 76.1h0.5M161.7 80.5h0.5M164.2 74.0h0.5M161.6 57.8h0.5M161.6 69.1h0.5M164.8 59.1h0.5M165.0 72.9h0.5M162.2 75.2h0.5M165.1 62.2h0.5M168.0 71.9h0.5M165.2 80.1h0.5M173.4 58.6h0.5M153.8 85.4h0.5M162.1 73.8h0.5M164.8 73.7h0.5M158.4 67.7h0.5M163.8 73.5h0.5M155.2 67.6h0.5M167.7 69.3h0.5M175.6 71.0h0.5M171.2 73.2h0.5M168.4 66.5h0.5M156.8 80.5h0.5M158.0 70.0h0.5M163.6 73.1h0.5M157.1 83.0h0.5M159.6 74.9h0.5M163.5 68.2h0.5M163.4 73.2h0.5M160.4 67.9h0.5M165.8 71.9h0.5M164.6 78.1h0.5M157.1 83.4h0.5M158.4 72.4h0.5M163.0 78.5h0.5M171.6 65.2h0.5M169.2 62.2h0.5M163.8 71.2h0.5M161.4 70.9h0.5M168.4 62.4h0.5M163.4 61.7h0.5M169.9 62.8h0.5M168.2 74.5h0.5M161.5 67.9h0.5M169.1 68.3h0.5M174.1 65.9h0.5M170.3 66.0h0.5M162.3 69.4h0.5M162.1 77.3h0.5M165.7 63.3h0.5M172.9 58.3h0.5M170.9 60.9h0.5M159.8 72.0h0.5M169.8 57.0h0.5M183.2 55.9h0.5M172.5 67.0h0.5M166.9 47.8h0.5M169.4 60.8h0.5M177.9 49.3h0.5M182.6 41.2h0.5M173.5 59.1h0.5M163.4 66.8h0.5M170.8 64.7h0.5M169.8 55.3h0.5M170.1 65.0h0.5M167.2 61.2h0.5M172.1 52.9h0.5M170.7 59.4h0.5M155.8 72.4h0.5M171.2 62.1h0.5M171.5 55.4h0.5M168.4 66.1h0.5M181.2 46.3h0.5M178.2 48.1h0.5M169.3 59.7h0.5M174.2 60.3h0.5M171.9 60.1h0.5M167.0 53.0h0.5M171.0 69.4h0.5M161.4 68.5h0.5M169.0 73.0h0.5M170.0 49.4h0.5M170.9 63.6h0.5M173.1 52.4h0.5M169.0 63.2h0.5M172.9 57.9h0.5M174.5 60.6h0.5M168.2 59.2h0.5M169.9 56.6h0.5M160.3 70.5h0.5M182.8 68.8h0.5M165.3 69.9h0.5M166.8 55.2h0.5M178.6 70.5h0.5M169.5 57.1h0.5M162.9 57.2h0.5M171.3 67.6h0.5M164.0 62.6h0.5M172.5 57.1h0.5M163.0 75.1h0.5M172.3 60.1h0.5M164.8 66.2h0.5M169.9 50.9h0.5M177.3 53.4h0.5M177.3 42.1h0.5M173.0 65.4h0.5M168.8 55.3h0.5M169.0 58.7h0.5M175.4 58.4h0.5M170.7 68.6h0.5M174.7 60.1h0.5M164.5 62.9h0.5M164.6 58.3h0.5M168.1 57.7h0.5M171.8 60.2h0.5M168.6 56.4h0.5M170.1 53.7h0.5M174.2 58.6h0.5M175.9 61.0h0.5M178.5 53.7h0.5M166.0 78.9h0.5M177.6 62.8h0.5M175.6 47.1h0.5M167.0 57.5h0.5M170.6 54.4h0.5M178.6 62.6h0.5M177.7 53.3h0.5M176.9 55.7h0.5M167.9 55.2h0.5M166.7 56.8h0.5M168.4 62.8h0.5M178.7 49.1h0.5M173.1 50.3h0.5M169.3 58.9h0.5M171.0 51.4h0.5M167.9 63.1h0.5M176.1 53.4h0.5M171.2 52.3h0.5M173.0 51.0h0.5M169.7 62.0h0.5M176.8 65.8h0.5M170.8 60.1h0.5M167.0 60.4h0.5M180.2 48.7h0.5M168.6 64.7h0.5M169.3 59.2h0.5M179.0 55.2h0.5M170.9 47.5h0.5M165.4 65.5h0.5M175.1 63.3h0.5M174.3 52.5h0.5M162.3 62.8h0.5M174.1 54.3h0.5M179.1 63.0h0.5M183.1 48.1h0.5M173.5 48.4h0.5M168.1 55.2h0.5M170.1 60.0h0.5M165.6 71.5h0.5M173.1 51.6h0.5M176.8 54.5h0.5M170.9 56.3h0.5M177.9 52.5h0.5M176.1 52.3h0.5M173.8 52.5h0.5M178.8 59.9h0.5M169.1 64.3h0.5M178.5 50.3h0.5M167.4 74.3h0.5M167.6 61.0h0.5M172.5 49.7h0.5M173.8 48.2h0.5M172.9 53.7h0.5M176.5 60.4h0.5M173.9 56.0h0.5M176.5 66.4h0.5M168.5 58.7h0.5M177.9 53.5h0.5M171.1 57.1h0.5M185.0 46.9h0.5M173.9 52.5h0.5M170.3 65.1h0.5M170.7 59.3h0.5M173.5 59.0h0.5M172.7 63.1h0.5M184.9 55.0h0.5M166.0 57.2h0.5M176.2 53.6h0.5M177.2 49.3h0.5M163.7 74.0h0.5M170.9 61.0h0.5M167.0 74.8h0.5M169.2 51.8h0.5M174.0 60.6h0.5M175.5 49.9h0.5M180.3 61.5h0.5M171.9 50.2h0.5M174.1 54.4h0.5M176.7 55.2h0.5M172.2 59.6h0.5M164.7 58.6h0.5M166.4 71.2h0.5M172.6 72.1h0.5M163.3 70.4h0.5M169.3 59.4h0.5M173.8 57.8h0.5M169.1 67.7h0.5M180.4 46.7h0.5M177.7 50.1h0.5M174.4 47.0h0.5M174.7 65.0h0.5M168.6 68.0h0.5M160.2 66.8h0.5M179.8 60.3h0.5M179.7 58.7h0.5M168.5 54.3h0.5M176.9 58.8h0.5M172.8 56.3h0.5M169.7 51.6h0.5M168.6 67.6h0.5M173.2 55.6h0.5M164.9 65.9h0.5M176.4 43.0h0.5M175.0 51.2h0.5M177.4 51.3h0.5M172.3 59.9h0.5M162.2 78.5h0.5M177.8 56.6h0.5M171.5 65.6h0.5M169.1 57.9h0.5M167.7 66.1h0.5M166.9 61.6h0.5M162.2 73.0h0.5M167.0 65.8h0.5M157.9 71.0h0.5M179.2 48.0h0.5M168.6 65.5h0.5M171.0 57.7h0.5M172.0 56.1h0.5M167.8 72.5h0.5M177.3 42.1h0.5M178.7 41.6h0.5M169.8 64.9h0.5M168.8 63.4h0.5M179.2 51.7h0.5M181.2 60.5h0.5M175.9 51.8h0.5M165.0 66.0h0.5M171.6 62.0h0.5M174.0 57.9h0.5M169.0 55.2h0.5M168.4 65.0h0.5M181.5 51.2h0.5M175.9 64.9h0.5M171.6 57.5h0.5M163.7 55.4h0.5M182.5 50.5h0.5M166.5 56.0h0.5M179.3 50.5h0.5M171.6 58.6h0.5M174.7 49.2h0.5M170.5 62.8h0.5M168.4 51.3h0.5M166.7 66.4h0.5M169.2 66.4h0.5M174.8 44.1h0.5M168.1 56.9h0.5M181.4 46.8h0.5M167.3 56.3h0.5M172.4 58.0h0.5M166.6 58.4h0.5M177.3 60.2h0.5M173.9 64.1h0.5M170.0 57.7h0.5M170.3 60.4h0.5M174.7 61.4h0.5M179.0 43.2h0.5M174.8 48.3h0.5M171.3 59.2h0.5M165.5 60.1h0.5M168.1 42.5h0.5M174.1 53.8h0.5M171.5 65.9h0.5M171.1 61.0h0.5M167.5 58.8h0.5M172.3 59.0h0.5M162.5 55.0h0.5M172.4 58.6h0.5M158.1 72.9h0.5M177.3 61.3h0.5M161.9 59.3h0.5M171.7 54.1h0.5M185.8 43.0h0.5M169.3 65.0h0.5M158.2 68.3h0.5M172.7 53.7h0.5M167.8 49.6h0.5M174.5 55.1h0.5M165.8 61.6h0.5M179.0 57.3h0.5M177.2 55.3h0.5M171.2 64.0h0.5M176.9 60.7h0.5M172.3 51.8h0.5M175.3 63.0h0.5M177.2 53.5h0.5M179.8 50.5h0.5M172.4 55.2h0.5M175.1 59.8h0.5M172.0 62.9h0.5M182.0 47.0h0.5M178.3 54.4h0.5M175.7 54.7h0.5M169.8 49.3h0.5M178.6 68.3h0.5M160.3 65.1h0.5M168.5 62.5h0.5M168.4 59.0h0.5M170.3 64.4h0.5M179.0 54.7h0.5M173.5 62.5h0.5M172.4 64.2h0.5M168.9 63.9h0.5M169.6 53.1h0.5M166.6 61.6h0.5M173.0 47.4h0.5M172.7 63.8h0.5M170.7 63.5h0.5M167.4 50.3h0.5M166.6 57.1h0.5M179.2 57.2h0.5M174.6 49.2h0.5M173.2 53.0h0.5M166.3 74.2h0.5M172.3 61.0h0.5M170.1 60.4h0.5M171.9 45.5h0.5M176.9 54.4h0.5M166.1 68.8h0.5M169.3 70.2h0.5M166.9 61.1h0.5M173.9 67.3h0.5M165.5 68.3h0.5M180.3 44.7h0.5M175.1 52.0h0.5M171.3 48.8h0.5M173.4 49.7h0.5M180.1 50.1h0.5M179.8 54.5h0.5M158.9 66.8h0.5M175.0 68.0h0.5M160.5 62.6h0.5M176.2 57.4h0.5M176.2 57.0h0.5M173.4 61.9h0.5M164.2 63.2h0.5M169.0 59.0h0.5M172.7 54.2h0.5M175.5 59.3h0.5M166.7 60.8h0.5M176.5 51.6h0.5M177.7 60.7h0.5M164.9 63.6h0.5M172.7 46.8h0.5M173.7 51.9h0.5M169.9 68.7h0.5M173.1 71.1h0.5M178.8 51.7h0.5M170.8 64.9h0.5M167.1 63.0h0.5M183.2 55.7h0.5M174.8 49.8h0.5M174.9 58.3h0.5M174.0 54.9h0.5M162.9 56.0h0.5M172.9 57.5h0.5M181.3 53.1h0.5M177.7 54.5h0.5M178.7 61.4h0.5M171.7 57.2h0.5M178.6 52.5h0.5M175.9 50.3h0.5M176.5 45.7h0.5M177.6 54.3h0.5M176.8 49.8h0.5M176.0 52.0h0.5M171.7 51.7h0.5M177.7 49.2h0.5M170.7 63.6h0.5M181.1 55.6h0.5M173.8 50.8h0.5M173.7 55.3h0.5M164.6 56.7h0.5M172.1 67.6h0.5M159.5 61.3h0.5M167.9 53.9h0.5M178.7 51.8h0.5M172.4 66.4h0.5M174.3 45.0h0.5M171.0 54.4h0.5M170.1 63.6h0.5M172.4 62.2h0.5M186.9 44.9h0.5M169.4 58.6h0.5M173.6 61.4h0.5M175.2 58.5h0.5M179.4 55.4h0.5M175.0 45.1h0.5M177.0 61.0h0.5M165.4 63.6h0.5M173.4 53.9h0.5M163.5 64.5h0.5M176.0 59.4h0.5M170.2 61.4h0.5M171.3 64.0h0.5M175.5 45.5h0.5M180.0 47.1h0.5M181.7 62.4h0.5M176.6 57.8h0.5M169.9 52.4h0.5M173.4 54.5h0.5M168.2 76.6h0.5M182.1 48.1h0.5M166.6 66.9h0.5M177.0 59.7h0.5M177.4 48.9h0.5M174.2 47.8h0.5M174.8 53.5h0.5M165.4 55.6h0.5M181.0 57.9h0.5M166.1 59.1h0.5M172.6 55.0h0.5M173.5 55.5h0.5M165.1 74.6h0.5M169.3 61.5h0.5M170.3 55.0h0.5M174.0 56.1h0.5M182.2 54.1h0.5M168.6 63.1h0.5M176.5 58.5h0.5M182.2 60.6h0.5M175.6 45.9h0.5M173.5 56.6h0.5M164.9 62.5h0.5M164.5 68.7h0.5M180.4 54.7h0.5M167.8 46.0h0.5M176.9 56.4h0.5M176.7 54.5h0.5M172.0 58.2h0.5M171.1 47.9h0.5M181.3 49.9h0.5M171.7 55.8h0.5M178.7 55.9h0.5M171.2 57.2h0.5M177.0 52.1h0.5M173.1 55.5h0.5M172.2 62.4h0.5M154.0 62.2h0.5M181.7 53.7h0.5M169.4 64.0h0.5M178.9 53.9h0.5M172.6 54.2h0.5M174.8 62.1h0.5M173.7 59.0h0.5M166.1 66.5h0.5M167.1 62.6h0.5M173.6 54.0h0.5M169.9 61.0h0.5M165.4 69.9h0.5M167.5 56.6h0.5M172.5 66.1h0.5M177.9 52.1h0.5M169.6 63.9h0.5M165.4 60.1h0.5M175.1 55.6h0.5M168.9 55.5h0.5M186.9 52.3h0.5M173.9 62.9h0.5M174.9 47.8h0.5M173.0 54.6h0.5M171.1 48.5h0.5M176.0 52.9h0.5M179.2 58.1h0.5M176.8 56.2h0.5M165.3 68.8h0.5M164.0 60.7h0.5M169.3 57.9h0.5M174.6 53.6h0.5M175.2 60.7h0.5M173.9 62.2h0.5M173.8 56.5h0.5M173.8 59.4h0.5M171.3 63.5h0.5M175.4 52.6h0.5M168.3 64.8h0.5M166.1 53.4h0.5M181.3 55.6h0.5M181.5 54.2h0.5M181.8 51.0h0.5M164.4 71.7h0.5M177.7 41.7h0.5M160.7 65.5h0.5M168.8 63.7h0.5M171.5 58.8h0.5M170.8 62.9h0.5M171.7 53.4h0.5M169.4 57.2h0.5M175.4 61.5h0.5M167.1 69.5h0.5M168.8 63.1h0.5M183.5 48.8h0.5M171.8 68.8h0.5M176.8 64.9h0.5M169.2 66.0h0.5M167.5 60.2h0.5M169.0 59.8h0.5M164.3 61.3h0.5M175.7 57.3h0.5M179.4 53.6h0.5M169.0 52.9h0.5M167.2 61.5h0.5M176.1 50.1h0.5M173.0 58.3h0.5M179.1 55.9h0.5M169.9 64.6h0.5M177.9 57.5h0.5M176.2 57.7h0.5M178.5 61.4h0.5M170.6 65.7h0.5M174.6 56.3h0.5M167.0 60.1h0.5M175.3 59.6h0.5M182.7 47.1h0.5M165.1 62.9h0.5M171.9 64.5h0.5M178.0 46.4h0.5M169.5 58.8h0.5M172.9 55.2h0.5M173.8 56.5h0.5M174.8 52.6h0.5M167.0 64.4h0.5M177.4 58.6h0.5M172.5 66.6h0.5M174.0 56.8h0.5M169.0 55.9h0.5M161.2 69.9h0.5M170.8 54.5h0.5M173.1 57.9h0.5M171.8 59.0h0.5M174.9 70.5h0.5M172.6 56.8h0.5M166.4 64.3h0.5M175.4 55.6h0.5M168.9 69.6h0.5M174.2 51.8h0.5M173.5 52.0h0.5M170.4 47.8h0.5M169.3 54.2h0.5M174.8 60.0h0.5M175.8 58.8h0.5M174.0 61.2h0.5M175.4 48.1h0.5M177.6 70.2h0.5M176.5 61.3h0.5M177.9 68.5h0.5M173.7 67.9h0.5M179.3 54.9h0.5M176.1 65.0h0.5M179.7 67.9h0.5M174.7 69.5h0.5M172.0 68.0h0.5M176.7 61.3h0.5M176.8 67.6h0.5M174.5 65.5h0.5M173.3 70.2h0.5M176.8 65.9h0.5M175.0 67.7h0.5M174.1 68.8h0.5M171.6 63.9h0.5M178.5 59.7h0.5M171.0 68.8h0.5M178.3 67.1h0.5M177.9 67.0h0.5M177.4 69.5h0.5M168.2 76.6h0.5M176.2 68.2h0.5M180.3 70.5h0.5M177.5 63.4h0.5M171.8 69.4h0.5M172.0 63.0h0.5M179.6 64.3h0.5M178.1 68.5h0.5M174.3 69.5h0.5M176.7 72.3h0.5M172.2 64.7h0.5M176.0 76.6h0.5M176.3 66.7h0.5M181.3 62.1h0.5M181.0 66.9h0.5M175.7 61.9h0.5M177.1 73.4h0.5M174.2 62.4h0.5M176.4 62.1h0.5M172.2 68.0h0.5M174.7 65.5h0.5M175.9 66.6h0.5M176.4 69.6h0.5M175.9 72.4h0.5M173.0 63.9h0.5M176.5 72.7h0.5M174.4 69.1h0.5M176.5 66.7h0.5M177.4 64.4h0.5M180.2 60.2h0.5M170.4 64.6h0.5M171.3 67.2h0.5M173.8 66.5h0.5M171.7 63.6h0.5M178.9 72.5h0.5M175.7 66.2h0.5M176.1 64.3h0.5M176.1 69.2h0.5M177.7 61.3h0.5M175.0 63.9h0.5M184.1 72.4h0.5M181.7 65.9h0.5M178.5 69.9h0.5M173.7 68.5h0.5M174.9 66.6h0.5M172.1 70.6h0.5M176.9 69.6h0.5M180.5 68.4h0.5M173.0 68.9h0.5M175.7 65.9h0.5M175.6 70.8h0.5M176.7 63.2h0.5M176.3 65.5h0.5M172.9 69.4h0.5M176.5 64.6h0.5M172.8 69.7h0.5M177.5 60.9h0.5M175.3 65.0h0.5M172.1 67.9h0.5M177.1 70.9h0.5M176.2 61.8h0.5M170.0 75.7h0.5M180.1 71.0h0.5M174.3 73.8h0.5M175.6 65.8h0.5M169.0 69.5h0.5M171.0 69.4h0.5M177.6 70.8h0.5M175.7 69.7h0.5M171.5 74.1h0.5M177.9 68.7h0.5M176.5 69.6h0.5M176.8 62.6h0.5M175.4 66.8h0.5M173.3 64.9h0.5M170.9 66.7h0.5M176.1 71.7h0.5M176.3 62.0h0.5M178.2 70.1h0.5M175.4 70.8h0.5M172.7 73.9h0.5M175.5 68.2h0.5M172.4 67.4h0.5M177.0 69.4h0.5M172.8 65.3h0.5M175.2 61.2h0.5M177.4 71.0h0.5M175.0 66.8h0.5M175.3 73.8h0.5M176.6 67.7h0.5M176.7 69.1h0.5M176.1 70.4h0.5M180.4 66.0h0.5M179.4 72.4h0.5M173.5 61.8h0.5M178.5 72.9h0.5M172.8 67.7h0.5M169.4 66.5h0.5M175.1 70.6h0.5M174.3 66.3h0.5M177.8 66.8h0.5M173.6 66.2h0.5M174.0 61.6h0.5M170.2 66.7h0.5M176.2 66.7h0.5M173.0 68.2h0.5M173.5 69.9h0.5M181.1 64.6h0.5M174.8 75.5h0.5M175.6 64.6h0.5M175.4 64.2h0.5M173.2 69.9h0.5M174.6 62.9h0.5M171.3 69.8h0.5M174.7 64.4h0.5M177.0 69.2h0.5M175.1 73.0h0.5M174.0 62.6h0.5M175.0 71.8h0.5M175.6 68.1h0.5M175.9 70.8h0.5M177.2 66.9h0.5M177.6 74.6h0.5M171.5 67.9h0.5M175.1 66.0h0.5M172.9 67.7h0.5M171.9 69.7h0.5M177.7 65.3h0.5M177.0 68.3h0.5M177.3 49.9h0.5M171.9 65.8h0.5M175.8 67.0h0.5M171.3 69.7h0.5M178.2 72.6h0.5M172.7 70.7h0.5M176.0 66.8h0.5M175.0 69.0h0.5M173.1 60.5h0.5M176.7 65.2h0.5M177.6 67.4h0.5M175.6 61.9h0.5M177.0 56.3h0.5M178.1 68.9h0.5M175.6 70.1h0.5M175.8 69.4h0.5M175.7 68.0h0.5M175.9 63.0h0.5M176.7 66.0h0.5M175.7 69.1h0.5M176.7 74.4h0.5M173.3 70.4h0.5M171.9 68.0h0.5M177.6 71.6h0.5M177.7 66.0h0.5M175.9 63.9h0.5M178.3 69.6h0.5M176.9 76.1h0.5M171.4 67.8h0.5M175.8 65.7h0.5M173.8 68.1h0.5M174.9 69.4h0.5M173.1 61.9h0.5M172.4 66.6h0.5M178.1 57.6h0.5M176.9 64.4h0.5M179.4 63.6h0.5M168.6 59.7h0.5M171.9 66.2h0.5M177.8 67.7h0.5M177.6 57.3h0.5M178.8 63.3h0.5M180.5 71.3h0.5M175.2 69.7h0.5M175.7 67.6h0.5M172.9 74.3h0.5M171.9 69.8h0.5M172.6 62.9h0.5M175.8 68.1h0.5M176.1 62.7h0.5M175.7 70.2h0.5M175.4 65.8h0.5M175.4 66.1h0.5M176.0 70.6h0.5M173.7 65.7h0.5M175.9 71.6h0.5M174.5 74.4h0.5M176.3 62.6h0.5M177.6 64.6h0.5M172.6 63.1h0.5M177.5 56.5h0.5M179.0 63.7h0.5M173.1 65.8h0.5M178.7 60.2h0.5M169.1 65.6h0.5M177.1 66.4h0.5M179.0 63.5h0.5M176.7 67.6h0.5M178.3 67.9h0.5M178.2 67.1h0.5M181.6 60.3h0.5M172.4 67.1h0.5M177.8 70.4h0.5M177.9 67.1h0.5M176.8 58.5h0.5M171.3 69.5h0.5M170.1 70.4h0.5M173.7 72.0h0.5M173.8 70.7h0.5M175.7 68.2h0.5M173.9 72.3h0.5M175.1 74.6h0.5M173.8 68.3h0.5M174.0 67.6h0.5M171.9 69.9h0.5M177.4 77.5h0.5M176.7 60.0h0.5M172.1 65.9h0.5M175.1 65.9h0.5M183.6 67.1h0.5M179.1 59.3h0.5M173.3 72.2h0.5M181.1 65.8h0.5M175.3 62.9h0.5M173.8 68.9h0.5M171.8 73.8h0.5M173.4 66.5h0.5M169.0 68.4h0.5M172.8 71.3h0.5M173.0 65.3h0.5M172.5 70.7h0.5M176.7 72.6h0.5M173.2 63.6h0.5M176.7 66.4h0.5M178.3 63.9h0.5M180.6 62.0h0.5M176.9 60.0h0.5M178.3 63.5h0.5M175.0 67.0h0.5M174.3 61.1h0.5M176.5 65.9h0.5M171.4 72.8h0.5M175.2 68.9h0.5M173.9 73.5h0.5M175.3 70.4h0.5M174.8 77.7h0.5M175.7 67.8h0.5M171.8 72.5h0.5M177.1 73.9h0.5M173.6 67.3h0.5M178.9 62.1h0.5M172.2 63.2h0.5M178.8 68.6h0.5M183.7 61.5h0.5M175.6 64.7h0.5M174.2 75.8h0.5M167.3 73.4h0.5M176.7 62.6h0.5M179.2 64.6h0.5M175.5 67.8h0.5M175.0 60.0h0.5M173.3 68.7h0.5M177.4 62.9h0.5M176.3 75.2h0.5M179.1 62.6h0.5M173.9 71.0h0.5M174.9 63.5h0.5M170.2 68.4h0.5M172.8 67.6h0.5M169.3 71.1h0.5M176.7 66.0h0.5M172.6 64.1h0.5M177.2 64.8h0.5M176.9 74.8h0.5M169.1 64.6h0.5M174.8 64.5h0.5M175.6 65.3h0.5M173.5 61.5h0.5M180.9 61.0h0.5M165.1 80.7h0.5M175.6 73.1h0.5M177.0 75.0h0.5M174.6 73.0h0.5M171.6 75.6h0.5M177.2 80.3h0.5M178.5 75.6h0.5M176.4 83.2h0.5M175.6 70.1h0.5M163.1 70.6h0.5M170.6 74.6h0.5M175.4 71.4h0.5M175.7 73.9h0.5M170.2 75.2h0.5M177.9 72.2h0.5M176.8 82.1h0.5M175.3 73.5h0.5M177.3 76.8h0.5M166.1 70.1h0.5M174.5 75.4h0.5M176.6 67.7h0.5M170.5 83.7h0.5M163.6 74.5h0.5M164.8 68.6h0.5M180.1 69.1h0.5M174.8 74.7h0.5M174.2 77.3h0.5M173.5 82.8h0.5M176.1 75.8h0.5M167.9 81.6h0.5M169.7 75.3h0.5M175.7 71.7h0.5M176.6 80.2h0.5M173.3 81.9h0.5M167.1 78.1h0.5M166.0 79.8h0.5M173.3 69.5h0.5M172.8 75.1h0.5M173.6 76.7h0.5M176.1 77.6h0.5M173.9 80.6h0.5M180.0 84.7h0.5M169.3 75.0h0.5M169.7 70.1h0.5M179.3 67.3h0.5M171.3 69.4h0.5M165.1 74.0h0.5M170.6 76.4h0.5M173.6 74.8h0.5M176.6 73.5h0.5M173.6 75.4h0.5M174.2 75.1h0.5M175.0 82.3h0.5M183.5 71.3h0.5M172.0 71.1h0.5M171.6 74.4h0.5M176.2 68.6h0.5M175.0 74.8h0.5M168.3 82.4h0.5M171.9 72.7h0.5M171.8 82.9h0.5M178.0 76.5h0.5M170.9 80.1h0.5M176.6 70.2h0.5M178.3 70.9h0.5M176.1 78.0h0.5M174.2 77.7h0.5M173.9 79.7h0.5M177.9 72.9h0.5M175.1 78.8h0.5M178.4 74.4h0.5M180.6 77.7h0.5M172.5 72.0h0.5M175.5 77.8h0.5M178.8 75.8h0.5M180.4 72.7h0.5M175.5 71.4h0.5M183.9 72.5h0.5M174.5 77.3h0.5M174.6 68.1h0.5M178.4 70.0h0.5M178.4 81.8h0.5M182.8 73.3h0.5M169.4 72.4h0.5M173.2 71.7h0.5M172.1 74.8h0.5M176.2 76.6h0.5M173.2 70.8h0.5M180.1 76.3h0.5M181.2 68.9h0.5M171.2 63.2h0.5M185.3 81.7h0.5M177.1 81.0h0.5M174.4 75.9h0.5M173.8 74.6h0.5M171.5 72.0h0.5M177.9 78.2h0.5M179.0 70.9h0.5M172.4 79.8h0.5M178.6 78.2h0.5M181.8 74.8h0.5M177.0 80.5h0.5M172.3 76.5h0.5M174.0 78.6h0.5M171.6 73.5h0.5M174.5 83.7h0.5M182.3 84.0h0.5M170.6 73.6h0.5M173.8 80.7h0.5M175.7 75.7h0.5M171.8 73.4h0.5M176.4 71.0h0.5M179.0 73.4h0.5M178.3 75.2h0.5M174.7 73.7h0.5M173.6 78.4h0.5M174.1 68.9h0.5M171.9 75.7h0.5M173.6 79.1h0.5M182.2 75.8h0.5M170.5 71.0h0.5M167.4 71.3h0.5M177.0 69.8h0.5M175.0 70.1h0.5M178.2 69.9h0.5M180.0 74.7h0.5M177.2 75.7h0.5M178.7 73.7h0.5M178.4 74.6h0.5M181.0 71.3h0.5M174.1 74.9h0.5M175.4 77.6h0.5M179.1 75.3h0.5M171.8 77.4h0.5M180.0 72.6h0.5M172.4 78.3h0.5M168.6 71.4h0.5M176.6 72.9h0.5M178.4 71.2h0.5M169.2 79.4h0.5M175.5 77.2h0.5M173.0 74.4h0.5M178.5 76.1h0.5M172.3 79.6h0.5M178.6 67.2h0.5M179.1 70.1h0.5M171.9 81.4h0.5M172.2 75.5h0.5M169.9 74.1h0.5M171.1 74.3h0.5M172.7 80.1h0.5M182.9 65.9h0.5M176.8 74.0h0.5M164.4 67.2h0.5M175.1 73.0h0.5M175.6 75.1h0.5M181.8 72.3h0.5M176.5 79.8h0.5M175.0 79.7h0.5M167.6 74.8h0.5M167.0 74.7h0.5M168.7 86.0h0.5M172.7 76.2h0.5M178.0 70.2h0.5M173.5 68.8h0.5M171.6 67.2h0.5M176.1 87.0h0.5M180.0 67.1h0.5M180.3 80.0h0.5M174.8 69.5h0.5M176.9 68.4h0.5M175.3 77.1h0.5M183.7 70.4h0.5M167.3 73.6h0.5M175.1 74.4h0.5M174.4 80.5h0.5M184.6 78.3h0.5M173.9 75.8h0.5M176.2 67.5h0.5M176.7 73.2h0.5M175.6 78.3h0.5M169.6 76.9h0.5M166.4 76.7h0.5M167.9 84.1h0.5M179.6 69.4h0.5M174.7 73.1h0.5M164.2 81.1h0.5M174.7 66.7h0.5M172.9 67.5h0.5M172.6 76.7h0.5M177.2 70.4h0.5M166.9 71.9h0.5M179.6 65.8h0.5M170.3 67.5h0.5M170.6 75.8h0.5M171.9 75.8h0.5M179.1 67.1h0.5M168.1 73.9h0.5M170.3 74.7h0.5M180.2 61.7h0.5M178.1 84.4h0.5M177.6 81.9h0.5M174.6 73.9h0.5M179.0 73.8h0.5M168.8 74.8h0.5M176.6 71.5h0.5M176.1 77.3h0.5M174.2 75.4h0.5M175.3 88.5h0.5M173.1 73.6h0.5M169.2 77.2h0.5M180.3 62.3h0.5M170.9 80.8h0.5M179.4 70.9h0.5M172.0 69.0h0.5M176.0 75.9h0.5M176.8 76.9h0.5M173.9 69.7h0.5M171.6 73.1h0.5M169.7 67.2h0.5M170.1 77.3h0.5M172.2 68.3h0.5M163.2 72.2h0.5M183.1 72.8h0.5M170.3 79.0h0.5M175.0 75.8h0.5M176.9 77.1h0.5M167.6 75.0h0.5M173.4 78.5h0.5M170.4 67.6h0.5M172.8 76.5h0.5M170.1 79.1h0.5M173.8 65.4h0.5M176.7 70.9h0.5M172.4 79.1h0.5M171.9 74.3h0.5M172.9 81.0h0.5M169.4 79.1h0.5M172.7 74.2h0.5M180.8 74.8h0.5M177.5 82.1h0.5M174.4 78.6h0.5M175.1 69.7h0.5M170.4 66.9h0.5M171.0 80.6h0.5M175.6 70.3h0.5M180.1 75.6h0.5M177.6 72.0h0.5M172.4 70.5h0.5M177.3 64.2h0.5M166.3 77.3h0.5M175.2 70.2h0.5M175.4 74.0h0.5M181.1 70.5h0.5M176.1 75.4h0.5M170.4 74.3h0.5M169.6 78.4h0.5M161.4 76.9h0.5M171.6 71.6h0.5M173.1 71.6h0.5M180.1 70.6h0.5M172.0 69.5h0.5M180.0 68.6h0.5M178.4 72.0h0.5M172.5 71.0h0.5M179.3 72.4h0.5M173.9 77.8h0.5M169.2 72.1h0.5M173.8 80.1h0.5M178.1 79.8h0.5M173.8 71.3h0.5M174.4 82.6h0.5M179.2 73.2h0.5M166.6 79.0h0.5M175.0 83.0h0.5M175.2 78.0h0.5M175.6 74.2h0.5M175.4 71.4h0.5M180.1 68.3h0.5M170.3 78.0h0.5M165.3 76.4h0.5M172.4 80.0h0.5M185.5 82.9h0.5M177.7 73.9h0.5M176.1 71.3h0.5M173.5 84.9h0.5M171.2 65.8h0.5M177.8 70.7h0.5M169.4 74.5h0.5M173.4 76.2h0.5M182.0 69.9h0.5M176.9 76.3h0.5M173.7 78.6h0.5M167.3 72.2h0.5M179.4 80.3h0.5M173.1 70.1h0.5M173.9 72.8h0.5M174.1 79.7h0.5M178.0 80.6h0.5M179.7 81.6h0.5M174.3 77.4h0.5M176.2 76.3h0.5M174.6 72.6h0.5M177.7 86.0h0.5M175.9 76.9h0.5M179.2 77.6h0.5M173.6 77.4h0.5M172.1 73.7h0.5M174.5 69.2h0.5M170.1 74.3h0.5M177.0 68.7h0.5M172.5 71.2h0.5M170.8 76.3h0.5M178.9 85.9h0.5M162.2 82.0h0.5M176.7 69.2h0.5M169.1 76.8h0.5M173.4 78.1h0.5M174.6 75.8h0.5M175.0 75.7h0.5M168.5 76.9h0.5M178.7 69.6h0.5M169.0 77.2h0.5M170.6 72.2h0.5M167.7 78.9h0.5M171.8 76.3h0.5M167.2 83.7h0.5M174.6 80.3h0.5M175.4 79.7h0.5M172.4 75.6h0.5M161.7 79.3h0.5M154.4 87.2h0.5M149.8 80.5h0.5M154.1 85.0h0.5M157.3 83.9h0.5M158.0 79.4h0.5M159.4 81.0h0.5M153.6 83.7h0.5M156.9 86.7h0.5M155.8 85.7h0.5M154.3 84.7h0.5M150.2 82.3h0.5M158.8 86.2h0.5M156.3 86.5h0.5M156.3 86.5h0.5M154.1 87.5h0.5M151.7 88.4h0.5M157.4 81.9h0.5M156.6 79.5h0.5M159.1 78.5h0.5M150.5 79.8h0.5M157.3 84.9h0.5M150.9 85.4h0.5M156.2 82.6h0.5M158.4 85.8h0.5M152.1 81.1h0.5M153.2 86.5h0.5M155.4 80.5h0.5M150.7 85.9h0.5M156.2 86.7h0.5M155.0 79.1h0.5M153.1 89.4h0.5M155.0 82.6h0.5M158.1 86.0h0.5M150.6 74.8h0.5M152.6 83.7h0.5M158.3 84.3h0.5M146.6 85.1h0.5M154.8 86.8h0.5M150.6 78.0h0.5M147.4 80.3h0.5M155.3 82.8h0.5M154.0 86.1h0.5M155.6 76.5h0.5M156.0 81.7h0.5M152.4 81.9h0.5M154.7 77.8h0.5M158.5 80.4h0.5M152.7 84.9h0.5M161.7 83.1h0.5M156.1 80.6h0.5M156.9 79.2h0.5M154.2 86.5h0.5M156.4 83.5h0.5M152.6 79.0h0.5M156.2 83.4h0.5M154.5 85.4h0.5M156.2 89.6h0.5M154.3 80.6h0.5M147.5 88.5h0.5M158.7 83.5h0.5M153.3 81.0h0.5M155.2 86.2h0.5M151.8 88.7h0.5M156.4 81.5h0.5M153.8 84.7h0.5M155.8 82.2h0.5M151.8 85.4h0.5M153.9 83.2h0.5M153.0 82.3h0.5M151.8 85.3h0.5M144.4 80.3h0.5M149.8 85.8h0.5M147.0 84.6h0.5M153.2 80.2h0.5M147.3 77.0h0.5M157.5 79.9h0.5M153.5 80.1h0.5M150.1 84.3h0.5M154.7 82.1h0.5M154.6 85.0h0.5M151.7 83.2h0.5M147.5 83.4h0.5M152.5 86.4h0.5M153.0 86.1h0.5M153.9 84.3h0.5M153.4 80.8h0.5M154.9 82.0h0.5M154.4 84.1h0.5M156.3 78.9h0.5M151.8 79.9h0.5M158.5 83.1h0.5M156.2 89.8h0.5M151.7 84.9h0.5M148.8 83.0h0.5M151.9 85.0h0.5M156.3 79.1h0.5M152.5 78.9h0.5M157.5 81.9h0.5M154.7 79.2h0.5M156.4 75.2h0.5M156.6 80.6h0.5M151.9 83.5h0.5M152.9 81.9h0.5M153.4 78.6h0.5M150.5 86.4h0.5M151.1 80.7h0.5M151.4 81.6h0.5M156.1 87.6h0.5M151.4 80.6h0.5M152.2 81.6h0.5M155.2 81.6h0.5M153.9 83.7h0.5M156.5 86.5h0.5M153.4 78.0h0.5M152.9 86.6h0.5M154.2 85.9h0.5M152.9 85.5h0.5M156.6 84.0h0.5M150.7 87.4h0.5M173.7 51.6h0.5M146.7 73.4h0.5M175.3 79.1h0.5M153.7 66.1h0.5M163.6 66.4h0.5M167.0 59.1h0.5M167.4 68.2h0.5M179.7 69.8h0.5M176.6 61.4h0.5M152.7 82.8h0.5M169.6 63.5h0.5M177.7 53.6h0.5M155.5 58.7h0.5M155.0 60.7h0.5M140.7 64.5h0.5M181.7 63.1h0.5M167.2 56.7h0.5M174.9 62.3h0.5M167.8 59.8h0.5M177.6 68.0h0.5M171.9 74.7h0.5M183.7 81.7h0.5M155.1 82.9h0.5M161.9 63.9h0.5M176.7 62.9h0.5M161.0 62.9h0.5M164.5 60.2h0.5M172.4 70.0h0.5M181.9 72.1h0.5M170.1 66.5h0.5M156.8 77.3h0.5M164.5 78.9h0.5M170.2 62.0h0.5M152.7 86.3h0.5M159.1 75.2h0.5M172.9 72.7h0.5M161.8 92.4h0.5M177.6 47.8h0.5M163.0 74.2h0.5M176.7 74.0h0.5M162.7 65.6h0.5M151.4 92.1h0.5M172.6 68.5h0.5M168.7 68.6h0.5M175.7 75.8h0.5M166.4 89.0h0.5M157.3 62.6h0.5M165.9 71.4h0.5M158.2 65.3h0.5M167.2 84.4h0.5M140.2 66.8h0.5M166.6 57.5h0.5M153.3 45.2h0.5M176.0 56.7h0.5M171.6 68.2h0.5M176.9 57.9h0.5M159.3 67.6h0.5M168.1 71.5h0.5M178.1 71.5h0.5M154.5 70.7h0.5M165.5 57.0h0.5M165.8 75.7h0.5M159.7 82.4h0.5M162.7 53.0h0.5M160.9 68.4h0.5M164.9 73.8h0.5M169.5 73.8h0.5M169.3 59.5h0.5M156.3 71.5h0.5M154.6 53.7h0.5M145.7 65.6h0.5M168.9 62.0h0.5M169.1 68.0h0.5M169.2 89.7h0.5M162.4 64.5h0.5M184.0 77.8h0.5M163.0 64.8h0.5M170.2 74.8h0.5M178.6 69.7h0.5M167.5 72.9h0.5M157.3 85.5h0.5M169.4 68.0h0.5M178.9 78.0h0.5M163.0 73.1h0.5M166.4 73.8h0.5M155.2 64.4h0.5M162.7 69.4h0.5M160.0 83.1h0.5M165.4 49.8h0.5M165.4 82.3h0.5M184.9 67.0h0.5M164.5 80.7h0.5M159.7 84.1h0.5M160.2 61.4h0.5M172.8 70.0h0.5M160.7 76.9h0.5M172.5 75.7h0.5M188.0 88.7h0.5M165.5 49.6h0.5M167.2 83.7h0.5M178.3 73.1h0.5M166.5 79.3h0.5M174.6 79.0h0.5M175.2 81.4h0.5M183.7 67.1h0.5M161.9 63.0h0.5M175.9 75.4h0.5M168.6 62.9h0.5M162.2 74.1h0.5M157.5 87.4h0.5M176.7 80.6h0.5M163.7 73.9h0.5M176.6 62.1h0.5M150.1 60.5h0.5" stroke="#000" stroke-width="0.5" fill="none"/>
<text x="156.8" y="49.4" font-size="5.2" text-anchor="middle" fill="#55558a">3.88</text>
<text x="179.8" y="49.4" font-size="5.2" text-anchor="middle" fill="#55558a">21.5</text>
<text x="179.5" y="90" font-size="5.2" text-anchor="middle" fill="#55558a">17.5</text>
<text x="127.6" y="46.8" font-size="3.6" fill="#3a3a3a">10<tspan font-size="2.59" dy="-1.4">5</tspan></text>
<text x="127.6" y="59.8" font-size="3.6" fill="#3a3a3a">10<tspan font-size="2.59" dy="-1.4">4</tspan></text>
<text x="127.6" y="71.8" font-size="3.6" fill="#3a3a3a">10<tspan font-size="2.59" dy="-1.4">3</tspan></text>
<text x="127.6" y="83.8" font-size="3.6" fill="#3a3a3a">10<tspan font-size="2.59" dy="-1.4">2</tspan></text>
<text x="130.2" y="89.5" font-size="3.6" fill="#3a3a3a" stroke="#3a3a3a" stroke-width="0.18">0</text>
<text x="142.5" y="99" font-size="3.6" text-anchor="middle" fill="#3a3a3a">0 10<tspan font-size="2.59" dy="-1.4">3</tspan></text>
<text x="157.66500000000002" y="99" font-size="3.6" text-anchor="middle" fill="#3a3a3a">10<tspan font-size="2.59" dy="-1.4">3</tspan></text>
<text x="170.43" y="99" font-size="3.6" text-anchor="middle" fill="#3a3a3a">10<tspan font-size="2.59" dy="-1.4">4</tspan></text>
<text x="182.3625" y="99" font-size="3.6" text-anchor="middle" fill="#3a3a3a">10<tspan font-size="2.59" dy="-1.4">5</tspan></text>
<line x1="124.2" y1="41" x2="124.2" y2="102.6" stroke="#000" stroke-width="1.2"/>
<polygon points="121.9,42.2 126.5,42.2 124.2,37.6" fill="#000"/>
<line x1="123.6" y1="102.6" x2="191" y2="102.6" stroke="#000" stroke-width="1.2"/>
<polygon points="190.4,100.3 190.4,104.9 194.8,102.6" fill="#000"/>
<text x="121.6" y="68.2" font-size="6.4" text-anchor="middle" fill="#1a1a1a" stroke="#1a1a1a" stroke-width="0.18" transform="rotate(-90 121.6 68.2)">lacZ</text>
<text x="156" y="111.2" font-size="6.4" text-anchor="middle" fill="#1a1a1a" stroke="#1a1a1a" stroke-width="0.18">ENG</text>
<polygon points="192,66.7 200.5,66.7 200.5,64.60000000000001 205.2,68.2 200.5,71.8 200.5,69.7 192,69.7" fill="#000"/>
<text x="206.6" y="33.2" font-size="5" fill="#666" font-weight="bold">ii</text>
<text x="212.4" y="70.7" font-size="6.5" text-anchor="middle" fill="#1a1a1a" stroke="#1a1a1a" stroke-width="0.18" transform="rotate(-90 212.4 70.7)">c-Kit</text>
<line x1="214.5" y1="44" x2="214.5" y2="101.3" stroke="#000" stroke-width="1.2"/>
<polygon points="212.2,45.2 216.8,45.2 214.5,40.6" fill="#000"/>
<line x1="213.9" y1="101.3" x2="379" y2="101.3" stroke="#000" stroke-width="1.2"/>
<polygon points="378.5,99.0 378.5,103.6 383,101.3" fill="#000"/>
<rect x="224.3" y="47.5" width="45.0" height="44.8" fill="none" stroke="#b4b4b4" stroke-width="0.6"/>
<line x1="259.3" y1="47.5" x2="259.3" y2="92" stroke="#d0d0d0" stroke-width="0.45"/>
<text x="247.10000000000002" y="43.9" font-size="6.5" text-anchor="middle" fill="#1a1a1a" stroke="#1a1a1a" stroke-width="0.18">CD41-/E+/L-</text>
<text x="262.2" y="60.2" font-size="5.2" text-anchor="middle" fill="#55558a">46.6</text>
<text x="217.70000000000002" y="52.6" font-size="3.6" fill="#3a3a3a">10<tspan font-size="2.59" dy="-1.4">5</tspan></text>
<text x="217.70000000000002" y="63.2" font-size="3.6" fill="#3a3a3a">10<tspan font-size="2.59" dy="-1.4">4</tspan></text>
<text x="217.70000000000002" y="73.6" font-size="3.6" fill="#3a3a3a">10<tspan font-size="2.59" dy="-1.4">3</tspan></text>
<text x="217.70000000000002" y="83.1" font-size="3.6" fill="#3a3a3a">10<tspan font-size="2.59" dy="-1.4">2</tspan></text>
<text x="220.70000000000002" y="89" font-size="3.6" fill="#3a3a3a" stroke="#3a3a3a" stroke-width="0.18">0</text>
<text x="231.4" y="97.6" font-size="3.6" text-anchor="middle" fill="#3a3a3a">0 10<tspan font-size="2.59" dy="-1.4">3</tspan></text>
<text x="243.65" y="97.6" font-size="3.6" text-anchor="middle" fill="#3a3a3a">10<tspan font-size="2.59" dy="-1.4">3</tspan></text>
<text x="254.0" y="97.6" font-size="3.6" text-anchor="middle" fill="#3a3a3a">10<tspan font-size="2.59" dy="-1.4">4</tspan></text>
<text x="263.675" y="97.6" font-size="3.6" text-anchor="middle" fill="#3a3a3a">10<tspan font-size="2.59" dy="-1.4">5</tspan></text>
<rect x="278.4" y="47.5" width="45.900000000000034" height="44.8" fill="none" stroke="#b4b4b4" stroke-width="0.6"/>
<line x1="308" y1="47.5" x2="308" y2="92" stroke="#d0d0d0" stroke-width="0.45"/>
<text x="301.05" y="43.9" font-size="6.5" text-anchor="middle" fill="#1a1a1a" stroke="#1a1a1a" stroke-width="0.18">CD41-/E+/L+</text>
<text x="316.8" y="60" font-size="5.2" text-anchor="middle" fill="#55558a">40.4</text>
<text x="271.79999999999995" y="52.6" font-size="3.6" fill="#3a3a3a">10<tspan font-size="2.59" dy="-1.4">5</tspan></text>
<text x="271.79999999999995" y="63.2" font-size="3.6" fill="#3a3a3a">10<tspan font-size="2.59" dy="-1.4">4</tspan></text>
<text x="271.79999999999995" y="73.6" font-size="3.6" fill="#3a3a3a">10<tspan font-size="2.59" dy="-1.4">3</tspan></text>
<text x="271.79999999999995" y="83.1" font-size="3.6" fill="#3a3a3a">10<tspan font-size="2.59" dy="-1.4">2</tspan></text>
<text x="274.79999999999995" y="89" font-size="3.6" fill="#3a3a3a" stroke="#3a3a3a" stroke-width="0.18">0</text>
<text x="285.6" y="97.6" font-size="3.6" text-anchor="middle" fill="#3a3a3a">0 10<tspan font-size="2.59" dy="-1.4">3</tspan></text>
<text x="298.137" y="97.6" font-size="3.6" text-anchor="middle" fill="#3a3a3a">10<tspan font-size="2.59" dy="-1.4">3</tspan></text>
<text x="308.694" y="97.6" font-size="3.6" text-anchor="middle" fill="#3a3a3a">10<tspan font-size="2.59" dy="-1.4">4</tspan></text>
<text x="318.5625" y="97.6" font-size="3.6" text-anchor="middle" fill="#3a3a3a">10<tspan font-size="2.59" dy="-1.4">5</tspan></text>
<rect x="333.3" y="47.5" width="45.89999999999998" height="44.8" fill="none" stroke="#b4b4b4" stroke-width="0.6"/>
<line x1="366.5" y1="47.5" x2="366.5" y2="92" stroke="#d0d0d0" stroke-width="0.45"/>
<text x="355.95" y="43.9" font-size="6.5" text-anchor="middle" fill="#1a1a1a" stroke="#1a1a1a" stroke-width="0.18">CD41-/E-/L+</text>
<text x="372.4" y="60" font-size="5.2" text-anchor="middle" fill="#3a3a55" stroke="#3a3a55" stroke-width="0.18">14.5</text>
<text x="326.7" y="52.6" font-size="3.6" fill="#3a3a3a">10<tspan font-size="2.59" dy="-1.4">5</tspan></text>
<text x="326.7" y="63.2" font-size="3.6" fill="#3a3a3a">10<tspan font-size="2.59" dy="-1.4">4</tspan></text>
<text x="326.7" y="73.6" font-size="3.6" fill="#3a3a3a">10<tspan font-size="2.59" dy="-1.4">3</tspan></text>
<text x="326.7" y="83.1" font-size="3.6" fill="#3a3a3a">10<tspan font-size="2.59" dy="-1.4">2</tspan></text>
<text x="329.7" y="89" font-size="3.6" fill="#3a3a3a" stroke="#3a3a3a" stroke-width="0.18">0</text>
<text x="340.5" y="97.6" font-size="3.6" text-anchor="middle" fill="#3a3a3a">0 10<tspan font-size="2.59" dy="-1.4">3</tspan></text>
<text x="353.037" y="97.6" font-size="3.6" text-anchor="middle" fill="#3a3a3a">10<tspan font-size="2.59" dy="-1.4">3</tspan></text>
<text x="363.594" y="97.6" font-size="3.6" text-anchor="middle" fill="#3a3a3a">10<tspan font-size="2.59" dy="-1.4">4</tspan></text>
<text x="373.4625" y="97.6" font-size="3.6" text-anchor="middle" fill="#3a3a3a">10<tspan font-size="2.59" dy="-1.4">5</tspan></text>
<path d="M264.6 73.2h0.55M263.7 73.4h0.55M263.9 69.1h0.55M263.0 76.2h0.55M264.3 74.4h0.55M264.1 75.7h0.55M265.3 72.6h0.55M263.0 76.1h0.55M262.8 75.3h0.55M267.2 74.3h0.55M268.2 76.4h0.55M261.3 68.0h0.55M267.0 68.0h0.55M267.5 73.3h0.55M266.3 74.4h0.55M264.4 69.9h0.55M262.1 74.6h0.55M263.0 70.6h0.55M263.5 65.3h0.55M264.7 75.4h0.55M261.5 76.8h0.55M262.5 74.1h0.55M264.2 65.6h0.55M263.8 71.1h0.55M263.5 68.5h0.55M264.6 75.5h0.55M263.6 76.4h0.55M264.6 71.0h0.55M264.2 70.7h0.55M265.5 71.0h0.55M264.6 72.1h0.55M265.3 69.1h0.55M265.0 71.1h0.55M263.0 75.3h0.55M267.4 82.7h0.55M264.2 70.9h0.55M263.6 71.6h0.55M266.0 83.5h0.55M263.0 67.4h0.55M263.5 74.1h0.55M261.7 77.0h0.55M264.0 72.5h0.55M266.0 72.0h0.55M263.2 72.7h0.55M265.3 74.5h0.55M264.6 70.1h0.55M263.1 65.7h0.55M265.8 73.6h0.55M265.8 71.3h0.55M265.7 74.4h0.55M263.9 71.6h0.55M266.8 67.7h0.55M260.9 76.8h0.55M264.0 75.5h0.55M263.6 66.8h0.55M263.7 75.7h0.55M264.3 71.6h0.55M262.5 72.7h0.55M264.9 74.6h0.55M262.3 69.8h0.55M263.3 77.2h0.55M263.9 77.9h0.55M265.2 75.2h0.55M265.0 72.0h0.55M261.5 76.0h0.55M264.4 75.8h0.55M266.3 74.8h0.55M264.5 72.6h0.55M267.2 76.2h0.55M264.0 70.4h0.55M263.4 68.3h0.55M265.3 65.4h0.55M263.9 77.9h0.55M265.8 77.3h0.55M265.3 77.9h0.55M264.9 70.9h0.55M262.5 73.5h0.55M265.3 71.1h0.55M265.8 76.4h0.55M262.2 67.6h0.55M267.1 73.7h0.55M263.0 68.0h0.55M263.5 66.9h0.55M265.2 73.5h0.55M263.7 72.5h0.55M261.8 73.4h0.55M265.0 66.4h0.55M264.8 74.6h0.55M264.6 71.3h0.55M265.8 73.8h0.55M266.5 70.0h0.55M266.4 70.9h0.55M267.1 80.6h0.55M262.8 72.6h0.55M263.8 71.6h0.55M264.9 72.5h0.55M263.8 78.0h0.55M263.6 72.6h0.55M264.1 74.3h0.55M266.8 69.2h0.55M265.5 73.3h0.55M262.2 72.6h0.55M262.0 68.5h0.55M263.2 68.9h0.55M264.7 71.7h0.55M265.7 70.0h0.55M266.8 71.6h0.55M261.6 69.0h0.55M262.7 74.7h0.55M264.8 66.2h0.55M266.5 75.6h0.55M261.9 77.1h0.55M266.1 71.7h0.55M262.7 74.4h0.55M263.8 77.3h0.55M263.3 75.6h0.55M266.7 75.5h0.55M266.3 71.1h0.55M262.9 67.1h0.55M262.3 76.2h0.55M261.6 66.0h0.55M263.6 72.4h0.55M265.6 72.4h0.55M263.5 75.8h0.55M262.5 72.7h0.55M266.8 68.6h0.55M267.4 72.3h0.55M264.0 76.3h0.55M264.4 78.0h0.55M264.1 71.9h0.55M266.5 74.2h0.55M265.0 68.8h0.55M262.1 72.8h0.55M261.6 71.2h0.55M263.5 73.6h0.55M266.0 71.5h0.55M263.1 70.2h0.55M263.2 76.2h0.55M264.7 69.3h0.55M266.8 75.0h0.55M264.0 70.3h0.55M264.6 67.7h0.55M263.6 79.6h0.55M262.8 72.4h0.55M263.2 71.3h0.55M266.5 71.0h0.55M263.4 71.8h0.55M265.1 72.3h0.55M266.9 69.2h0.55M266.8 78.2h0.55M263.7 72.3h0.55M263.4 73.0h0.55M265.0 69.6h0.55M264.4 71.8h0.55M264.5 74.6h0.55M264.1 73.8h0.55M266.1 71.2h0.55M265.0 73.1h0.55M264.6 72.0h0.55M266.5 74.2h0.55M264.7 71.7h0.55M264.1 71.9h0.55M261.7 78.9h0.55M264.6 70.9h0.55M262.4 73.5h0.55M267.8 74.8h0.55M262.7 70.0h0.55M267.5 74.0h0.55M262.8 70.4h0.55M266.4 76.1h0.55M262.4 68.6h0.55M263.3 80.3h0.55M263.0 68.3h0.55M260.3 70.6h0.55M267.4 76.7h0.55M266.1 78.1h0.55M265.2 73.1h0.55M265.9 74.3h0.55M265.0 71.7h0.55M265.5 73.7h0.55M264.1 69.1h0.55M263.8 78.6h0.55M260.8 73.7h0.55M264.9 72.1h0.55M265.5 67.2h0.55M265.8 76.9h0.55M267.3 79.6h0.55M263.4 76.8h0.55M264.9 75.3h0.55M263.8 68.1h0.55M266.0 75.8h0.55M262.1 66.6h0.55M261.3 67.0h0.55M263.7 75.9h0.55M266.7 76.8h0.55M265.7 73.7h0.55M262.8 71.6h0.55M263.0 71.7h0.55M265.5 72.3h0.55M266.0 71.7h0.55M263.5 74.2h0.55M263.1 66.7h0.55M262.4 73.4h0.55M267.2 79.0h0.55M261.1 70.8h0.55M263.2 76.5h0.55M265.4 73.3h0.55M265.2 77.2h0.55M265.9 79.8h0.55M265.7 78.2h0.55M267.0 72.6h0.55M263.8 75.4h0.55M261.0 65.5h0.55M263.1 72.1h0.55M262.4 71.5h0.55M265.6 80.7h0.55M266.4 78.8h0.55M263.0 73.5h0.55M266.4 71.2h0.55M266.0 71.5h0.55M265.5 73.0h0.55M265.0 74.9h0.55M266.1 70.0h0.55M264.2 70.2h0.55M264.4 71.0h0.55M265.1 70.5h0.55M264.2 74.1h0.55M267.6 70.6h0.55M265.9 74.2h0.55M265.1 69.7h0.55M267.9 70.2h0.55M265.5 77.9h0.55M263.4 72.1h0.55M266.2 77.2h0.55M266.8 79.3h0.55M264.7 76.8h0.55M266.1 77.5h0.55M263.2 73.8h0.55M262.4 72.2h0.55M265.2 71.7h0.55M263.1 70.9h0.55M262.6 71.1h0.55M265.6 71.2h0.55M265.4 76.3h0.55M266.6 75.5h0.55M267.5 74.2h0.55M263.2 70.0h0.55M259.5 69.7h0.55M266.0 74.3h0.55M265.3 78.0h0.55M265.8 76.1h0.55M267.0 68.1h0.55M264.3 73.5h0.55M261.8 74.9h0.55M262.1 74.8h0.55M266.0 79.5h0.55M267.6 74.6h0.55M262.2 70.7h0.55M262.8 68.8h0.55M262.1 73.9h0.55M266.1 76.1h0.55M261.0 76.1h0.55M263.3 71.9h0.55M268.2 76.5h0.55M265.1 74.9h0.55M264.4 77.0h0.55M266.9 73.4h0.55M265.3 76.0h0.55M261.2 68.9h0.55M261.3 68.9h0.55M264.5 71.5h0.55M264.0 75.2h0.55M266.2 74.1h0.55M262.8 74.9h0.55M263.8 70.4h0.55M266.4 74.4h0.55M264.9 75.7h0.55M264.3 72.4h0.55M263.8 72.4h0.55M265.5 72.6h0.55M265.8 77.9h0.55M264.0 69.3h0.55M263.3 67.2h0.55M266.3 73.5h0.55M265.2 71.5h0.55M264.3 75.9h0.55M265.2 70.3h0.55M263.0 80.8h0.55M266.0 74.8h0.55M262.1 68.3h0.55M265.3 73.0h0.55M256.8 70.1h0.55M263.7 66.9h0.55M262.8 68.5h0.55M265.9 75.3h0.55M265.1 74.3h0.55M265.5 80.1h0.55M263.9 75.9h0.55M263.9 72.1h0.55M263.7 70.4h0.55M264.1 74.8h0.55M266.4 73.4h0.55M267.5 70.2h0.55M262.9 69.9h0.55M267.5 72.2h0.55M267.0 72.1h0.55M264.0 79.1h0.55M264.2 71.0h0.55M265.5 73.3h0.55M265.2 73.6h0.55M263.4 68.0h0.55M263.0 76.8h0.55M264.4 73.0h0.55M267.4 70.0h0.55M263.3 74.1h0.55M263.1 76.6h0.55M263.8 73.1h0.55M265.1 77.3h0.55M264.3 70.1h0.55M266.1 71.1h0.55M266.2 73.3h0.55M260.8 72.5h0.55M262.6 68.1h0.55M262.2 72.8h0.55M266.3 74.3h0.55M267.9 70.6h0.55M266.0 68.1h0.55M263.7 73.8h0.55M261.3 74.1h0.55M262.9 72.9h0.55M266.8 75.5h0.55M264.5 77.9h0.55M262.7 75.1h0.55M267.0 77.9h0.55M264.2 73.0h0.55M263.9 70.3h0.55M264.4 71.9h0.55M264.6 76.3h0.55M266.3 68.7h0.55M266.4 78.0h0.55M260.3 76.0h0.55M263.7 73.9h0.55M262.3 74.9h0.55M263.5 72.3h0.55M267.8 78.9h0.55M265.0 71.9h0.55M265.1 67.9h0.55M266.0 74.7h0.55M264.1 68.3h0.55M264.7 70.7h0.55M265.3 70.1h0.55M264.2 76.2h0.55M265.5 64.9h0.55M264.2 74.1h0.55M265.5 75.5h0.55M265.0 73.0h0.55M265.1 75.6h0.55M263.1 74.0h0.55M264.9 71.6h0.55M265.2 71.8h0.55M263.7 74.4h0.55M264.0 71.0h0.55M262.8 68.0h0.55M264.7 72.2h0.55M265.2 74.6h0.55M263.5 73.8h0.55M262.7 71.1h0.55M263.7 72.7h0.55M266.7 75.8h0.55M265.7 76.1h0.55M263.6 73.7h0.55M264.1 74.1h0.55M265.3 76.3h0.55M262.6 74.0h0.55M262.3 70.5h0.55M262.3 77.2h0.55M264.2 78.0h0.55M266.6 79.9h0.55M264.8 79.7h0.55M265.0 68.8h0.55M262.6 72.4h0.55M266.8 73.1h0.55M265.7 76.6h0.55M261.7 72.1h0.55M267.2 76.4h0.55M265.9 74.3h0.55M266.2 71.9h0.55M264.9 71.7h0.55M263.2 76.8h0.55M262.6 74.6h0.55M263.9 74.0h0.55M263.1 72.6h0.55M266.3 71.4h0.55M265.4 78.1h0.55M264.4 74.5h0.55M265.5 70.0h0.55M263.1 76.6h0.55M263.5 74.6h0.55M263.1 70.5h0.55M265.1 74.0h0.55M264.9 76.5h0.55M266.6 82.1h0.55M267.6 74.4h0.55M265.6 68.6h0.55M264.2 77.1h0.55M263.7 74.2h0.55M263.8 75.7h0.55M265.7 72.8h0.55M263.7 73.8h0.55M265.5 75.6h0.55M266.0 76.4h0.55M262.3 68.0h0.55M264.8 70.2h0.55M263.7 71.7h0.55M262.6 73.9h0.55M266.9 71.7h0.55M267.4 70.0h0.55M264.3 71.2h0.55M263.7 71.4h0.55M263.7 76.2h0.55M265.2 73.1h0.55M264.2 75.4h0.55M263.2 69.9h0.55M264.4 71.9h0.55M266.7 74.7h0.55M263.7 73.8h0.55M263.6 79.2h0.55M265.0 81.6h0.55M265.6 72.9h0.55M264.8 70.8h0.55M265.4 77.4h0.55M264.8 75.1h0.55M266.3 71.9h0.55M267.6 75.8h0.55M264.8 68.8h0.55M263.5 66.3h0.55M265.5 75.8h0.55M266.7 75.2h0.55M265.5 73.0h0.55M265.8 78.1h0.55M260.1 68.9h0.55M264.8 71.4h0.55M264.1 70.3h0.55M264.8 73.0h0.55M262.8 69.1h0.55M261.9 73.3h0.55M260.3 66.2h0.55M261.6 72.3h0.55M265.0 79.6h0.55M262.7 72.4h0.55M260.7 69.9h0.55M262.8 65.9h0.55M264.3 78.7h0.55M264.0 78.6h0.55M263.5 67.5h0.55M264.6 66.7h0.55M262.8 78.1h0.55M264.7 76.2h0.55M263.5 71.6h0.55M266.4 75.9h0.55M266.1 74.7h0.55M264.7 67.6h0.55M261.9 66.3h0.55M262.0 72.4h0.55M264.4 73.3h0.55M265.1 71.8h0.55M263.9 75.7h0.55M265.0 72.2h0.55M264.6 75.3h0.55M262.0 73.9h0.55M263.7 72.6h0.55M266.6 76.3h0.55M267.2 74.6h0.55M261.9 69.5h0.55M263.2 69.6h0.55M262.7 69.8h0.55M264.3 70.2h0.55M263.6 70.3h0.55M264.7 68.9h0.55M265.4 69.0h0.55M264.9 70.5h0.55M264.9 71.3h0.55M268.0 65.8h0.55M267.1 72.4h0.55M263.4 68.6h0.55M265.1 68.2h0.55M262.0 69.9h0.55M264.8 67.7h0.55M265.7 68.5h0.55M261.4 68.0h0.55M265.0 68.6h0.55M262.1 72.7h0.55M261.5 69.6h0.55M267.3 69.1h0.55M263.3 66.9h0.55M265.9 65.5h0.55M265.8 69.3h0.55M268.0 68.7h0.55M265.8 67.2h0.55M264.7 67.0h0.55M264.6 69.1h0.55M262.4 69.1h0.55M266.5 68.9h0.55M264.3 72.4h0.55M263.7 67.0h0.55M266.4 72.4h0.55M263.6 70.9h0.55M264.8 68.2h0.55M267.4 69.2h0.55M262.8 66.7h0.55M265.1 69.8h0.55M265.9 68.9h0.55M264.4 67.7h0.55M264.2 69.2h0.55M262.8 69.9h0.55M263.9 67.9h0.55M263.8 68.2h0.55M262.0 68.7h0.55M263.5 70.1h0.55M263.6 66.6h0.55M264.8 68.0h0.55M263.8 69.3h0.55M265.0 86.3h0.55M262.9 88.8h0.55M265.3 81.0h0.55M263.4 91.2h0.55M265.8 84.1h0.55M266.2 88.0h0.55M263.5 89.3h0.55M262.9 84.4h0.55M266.1 86.6h0.55M265.6 84.1h0.55M265.0 87.5h0.55M265.5 84.9h0.55M266.5 82.8h0.55M264.1 84.5h0.55M265.8 88.4h0.55M264.3 83.3h0.55M264.7 85.8h0.55M264.6 75.5h0.55M266.7 83.3h0.55M265.7 87.5h0.55M266.2 82.9h0.55M266.5 81.4h0.55M265.0 91.1h0.55M266.0 85.2h0.55M264.0 88.9h0.55M263.2 77.1h0.55M264.0 80.5h0.55M264.0 76.2h0.55M264.4 89.1h0.55M265.3 72.3h0.55M263.7 80.1h0.55M261.2 84.9h0.55M264.8 85.0h0.55M264.4 86.3h0.55M265.0 84.6h0.55M263.9 82.7h0.55M262.6 82.9h0.55M265.0 80.8h0.55M263.4 85.3h0.55M266.5 79.3h0.55M264.9 80.8h0.55M264.1 86.5h0.55M265.2 89.3h0.55M266.8 84.6h0.55M265.6 80.7h0.55M263.6 76.3h0.55M264.6 84.1h0.55M263.3 81.2h0.55M267.5 88.3h0.55M262.6 82.8h0.55M263.6 84.9h0.55M263.7 89.5h0.55M265.2 84.5h0.55M263.9 86.1h0.55M263.9 84.2h0.55M264.0 82.4h0.55M265.9 81.0h0.55M263.7 82.5h0.55M265.2 90.3h0.55M262.4 74.1h0.55M265.0 83.4h0.55M263.7 86.1h0.55M264.6 84.4h0.55M261.5 88.7h0.55M264.3 79.8h0.55M265.1 81.7h0.55M263.9 78.4h0.55M265.9 87.3h0.55M265.5 81.8h0.55M264.2 85.7h0.55M264.2 85.3h0.55M262.9 81.5h0.55M264.5 87.3h0.55M265.6 78.1h0.55M266.7 87.2h0.55M266.0 86.2h0.55M264.1 89.8h0.55M263.4 83.2h0.55M263.3 90.7h0.55M263.4 82.7h0.55M266.4 87.8h0.55M264.7 83.6h0.55M262.6 86.1h0.55M265.7 85.8h0.55M263.9 85.2h0.55M265.0 86.0h0.55M264.9 78.1h0.55M263.9 85.4h0.55M265.1 86.9h0.55M264.5 87.3h0.55M264.4 86.0h0.55M265.6 83.1h0.55M265.6 86.5h0.55M264.6 83.1h0.55M265.1 87.0h0.55M265.5 83.0h0.55M265.4 85.9h0.55M264.1 85.7h0.55M264.5 85.3h0.55M266.7 80.3h0.55M265.2 81.6h0.55M267.8 85.2h0.55M262.6 87.2h0.55M262.9 86.7h0.55M267.2 80.8h0.55M264.5 79.7h0.55M263.8 83.0h0.55M264.1 76.1h0.55M263.3 78.8h0.55M264.1 87.2h0.55M264.1 90.1h0.55M266.9 77.1h0.55M264.4 87.5h0.55M263.8 90.4h0.55M263.1 91.1h0.55M263.2 78.6h0.55M263.3 85.9h0.55M262.9 80.9h0.55M264.2 85.3h0.55M264.7 84.4h0.55M264.4 90.3h0.55M262.0 84.5h0.55M263.0 91.0h0.55M264.6 83.2h0.55M262.8 81.4h0.55M264.0 84.0h0.55M264.7 90.8h0.55M262.9 86.1h0.55M262.1 88.4h0.55M266.9 86.1h0.55M264.5 89.2h0.55M266.0 80.5h0.55M263.4 90.1h0.55M264.8 87.6h0.55M263.7 86.8h0.55M264.4 88.0h0.55M264.0 91.1h0.55M264.3 90.7h0.55M264.3 84.9h0.55M266.8 84.5h0.55M265.4 75.5h0.55M263.8 58.1h0.55M261.1 81.6h0.55M264.8 57.8h0.55M262.4 79.9h0.55M264.7 82.8h0.55M264.8 75.4h0.55M262.2 90.4h0.55M256.2 80.1h0.55M262.1 68.2h0.55" stroke="#000" stroke-width="0.55" fill="none"/>
<path d="M313.9 72.4h0.55M317.1 72.3h0.55M316.2 75.9h0.55M316.4 74.9h0.55M318.2 70.1h0.55M318.4 76.4h0.55M320.4 76.3h0.55M316.6 76.5h0.55M318.6 72.7h0.55M322.2 77.1h0.55M316.3 72.0h0.55M316.8 68.1h0.55M322.2 70.0h0.55M314.0 70.6h0.55M320.1 75.5h0.55M318.1 70.6h0.55M317.3 73.7h0.55M318.0 78.5h0.55M322.7 77.2h0.55M317.2 76.4h0.55M321.5 79.4h0.55M319.4 71.0h0.55M318.4 78.2h0.55M318.3 71.4h0.55M316.3 74.3h0.55M319.6 77.4h0.55M320.6 77.1h0.55M312.8 66.1h0.55M317.8 78.4h0.55M320.1 76.6h0.55M315.4 73.1h0.55M318.3 73.3h0.55M319.6 78.6h0.55M319.9 72.4h0.55M321.4 80.1h0.55M318.2 80.6h0.55M318.1 77.3h0.55M320.4 75.7h0.55M316.6 71.1h0.55M316.9 71.5h0.55M322.1 76.7h0.55M318.3 74.8h0.55M318.4 71.2h0.55M317.0 78.5h0.55M319.9 77.2h0.55M317.0 73.8h0.55M319.1 71.7h0.55M318.7 69.8h0.55M316.0 71.2h0.55M318.5 74.7h0.55M317.3 71.7h0.55M316.9 73.6h0.55M317.6 73.8h0.55M318.9 71.6h0.55M318.1 72.7h0.55M317.0 73.0h0.55M319.2 71.7h0.55M319.9 74.9h0.55M317.7 70.7h0.55M319.7 74.9h0.55M319.8 72.3h0.55M318.7 73.1h0.55M317.9 70.1h0.55M316.2 69.2h0.55M319.5 75.3h0.55M314.5 71.6h0.55M317.0 72.6h0.55M318.5 80.7h0.55M315.2 69.1h0.55M315.6 74.5h0.55M315.6 76.3h0.55M319.7 75.8h0.55M316.5 75.7h0.55M319.8 70.2h0.55M318.8 71.4h0.55M318.5 77.6h0.55M317.7 72.2h0.55M313.6 76.0h0.55M315.3 71.0h0.55M317.7 69.6h0.55M322.7 80.5h0.55M316.7 76.4h0.55M321.9 77.9h0.55M317.1 69.4h0.55M314.9 68.5h0.55M318.2 72.8h0.55M319.2 72.4h0.55M315.5 69.9h0.55M319.1 72.4h0.55M316.3 75.5h0.55M315.6 78.3h0.55M320.6 71.8h0.55M314.9 72.6h0.55M318.5 77.1h0.55M318.2 73.9h0.55M316.4 70.7h0.55M316.5 75.1h0.55M319.2 81.4h0.55M320.7 77.1h0.55M317.3 73.7h0.55M318.9 71.8h0.55M319.3 71.3h0.55M321.2 76.9h0.55M318.1 72.1h0.55M322.1 73.4h0.55M318.6 69.7h0.55M320.4 74.9h0.55M321.6 75.9h0.55M317.9 80.3h0.55M321.1 73.4h0.55M319.6 77.3h0.55M316.2 73.3h0.55M320.3 71.6h0.55M315.2 69.3h0.55M318.4 72.8h0.55M320.7 78.9h0.55M323.1 75.5h0.55M319.4 73.8h0.55M322.0 74.8h0.55M317.9 74.7h0.55M316.8 70.8h0.55M317.4 78.3h0.55M319.3 77.7h0.55M313.8 74.1h0.55M319.3 72.0h0.55M321.0 75.2h0.55M316.5 69.1h0.55M317.2 71.8h0.55M315.6 73.4h0.55M318.5 73.8h0.55M318.0 77.2h0.55M314.5 76.6h0.55M322.1 76.0h0.55M319.6 77.3h0.55M317.8 72.3h0.55M317.1 75.5h0.55M317.7 73.8h0.55M318.9 75.4h0.55M321.2 74.7h0.55M317.1 66.3h0.55M315.3 71.1h0.55M318.7 75.6h0.55M319.7 76.1h0.55M321.6 76.0h0.55M319.9 79.6h0.55M318.0 76.2h0.55M318.1 75.6h0.55M321.9 75.1h0.55M318.1 71.9h0.55M317.6 76.9h0.55M318.2 71.6h0.55M317.8 75.7h0.55M320.8 72.0h0.55M321.1 75.3h0.55M320.9 80.1h0.55M316.6 64.2h0.55M322.1 74.3h0.55M319.7 79.8h0.55M316.7 74.6h0.55M319.1 77.3h0.55M320.4 73.6h0.55M319.0 71.5h0.55M319.8 76.8h0.55M318.4 77.2h0.55M318.9 71.5h0.55M319.1 78.4h0.55M319.6 69.8h0.55M320.9 74.6h0.55M319.1 72.9h0.55M318.8 72.2h0.55M317.5 70.0h0.55M314.8 76.5h0.55M320.2 72.5h0.55M317.2 74.5h0.55M320.3 72.8h0.55M317.4 61.9h0.55M318.8 78.0h0.55M319.3 73.1h0.55M316.9 71.3h0.55M317.2 73.8h0.55M320.4 74.7h0.55M320.0 73.0h0.55M316.4 71.7h0.55M318.3 73.2h0.55M317.9 72.3h0.55M318.8 73.9h0.55M317.1 75.2h0.55M318.2 67.5h0.55M318.9 78.6h0.55M314.6 76.7h0.55M320.1 75.5h0.55M318.8 77.8h0.55M316.8 73.9h0.55M315.4 72.7h0.55M319.8 81.7h0.55M318.3 71.5h0.55M318.7 76.7h0.55M320.4 78.6h0.55M319.6 77.2h0.55M316.4 71.5h0.55M321.1 77.1h0.55M313.4 71.3h0.55M316.2 73.9h0.55M317.3 75.2h0.55M317.0 66.3h0.55M318.4 70.1h0.55M318.7 75.9h0.55M319.0 74.4h0.55M316.7 75.7h0.55M319.8 77.5h0.55M316.8 76.1h0.55M320.3 75.5h0.55M321.2 76.8h0.55M318.8 70.3h0.55M318.1 81.4h0.55M316.6 71.1h0.55M319.0 71.1h0.55M320.5 72.3h0.55M317.7 67.4h0.55M317.7 66.4h0.55M322.1 75.4h0.55M318.1 77.3h0.55M318.3 73.0h0.55M317.5 71.7h0.55M318.7 76.2h0.55M320.8 76.0h0.55M317.7 79.0h0.55M320.4 75.8h0.55M316.6 73.1h0.55M320.1 73.6h0.55M319.8 80.2h0.55M317.8 74.7h0.55M315.2 76.9h0.55M320.0 73.6h0.55M318.8 72.7h0.55M314.1 73.6h0.55M322.1 78.0h0.55M316.8 74.5h0.55M318.2 75.0h0.55M317.3 70.4h0.55M316.4 67.1h0.55M317.2 74.7h0.55M320.5 70.9h0.55M319.5 73.0h0.55M318.6 73.6h0.55M314.6 75.1h0.55M318.5 75.0h0.55M319.1 76.9h0.55M318.0 69.3h0.55M317.9 73.1h0.55M319.4 73.4h0.55M315.6 70.3h0.55M319.0 70.1h0.55M317.4 74.0h0.55M320.3 77.4h0.55M318.9 76.0h0.55M317.7 71.7h0.55M318.4 72.6h0.55M317.3 78.0h0.55M319.3 70.0h0.55M320.2 73.9h0.55M318.9 72.5h0.55M316.4 74.6h0.55M319.5 75.8h0.55M315.3 71.9h0.55M316.7 74.8h0.55M317.2 74.0h0.55M319.5 73.7h0.55M320.6 72.6h0.55M321.8 78.3h0.55M320.1 76.3h0.55M320.9 78.7h0.55M318.7 71.3h0.55M315.6 73.7h0.55M319.6 79.3h0.55M317.3 76.3h0.55M320.1 71.2h0.55M315.1 71.5h0.55M321.2 73.4h0.55M319.7 75.1h0.55M320.3 82.7h0.55M321.6 71.5h0.55M316.1 71.6h0.55M313.4 67.5h0.55M319.1 70.3h0.55M318.8 71.0h0.55M319.1 69.8h0.55M319.7 71.5h0.55M318.7 69.7h0.55M320.0 75.9h0.55M317.6 71.4h0.55M317.3 78.0h0.55M321.6 75.1h0.55M321.2 73.6h0.55M314.6 68.5h0.55M316.0 73.0h0.55M319.0 71.3h0.55M317.7 76.1h0.55M320.5 73.1h0.55M322.8 76.8h0.55M318.2 70.1h0.55M319.7 71.4h0.55M317.8 72.6h0.55M318.2 76.7h0.55M318.9 69.6h0.55M316.6 69.7h0.55M319.0 71.3h0.55M319.7 76.3h0.55M315.3 74.5h0.55M319.2 73.4h0.55M314.2 72.4h0.55M320.4 76.5h0.55M318.7 70.9h0.55M316.2 74.5h0.55M315.4 71.9h0.55M320.4 79.0h0.55M316.9 75.9h0.55M315.1 75.1h0.55M321.2 70.5h0.55M317.7 74.6h0.55M317.8 73.2h0.55M318.1 73.8h0.55M317.3 74.0h0.55M321.5 78.1h0.55M317.2 71.0h0.55M317.6 72.1h0.55M320.0 70.9h0.55M319.8 77.1h0.55M318.4 71.1h0.55M317.6 78.9h0.55M317.1 65.6h0.55M317.4 75.1h0.55M320.9 72.7h0.55M312.4 75.3h0.55M317.1 74.1h0.55M317.9 76.2h0.55M319.5 79.0h0.55M316.7 68.1h0.55M315.7 72.3h0.55M316.8 72.1h0.55M317.2 75.0h0.55M315.9 72.4h0.55M320.6 75.6h0.55M316.6 75.5h0.55M319.6 78.1h0.55M317.9 77.4h0.55M319.8 72.5h0.55M317.6 80.8h0.55M317.5 74.4h0.55M321.1 71.7h0.55M317.2 77.7h0.55M319.1 76.3h0.55M318.3 76.8h0.55M317.4 74.1h0.55M323.0 75.2h0.55M319.3 74.8h0.55M317.6 77.0h0.55M315.9 77.7h0.55M320.8 64.0h0.55M318.4 85.1h0.55M316.1 71.8h0.55M318.0 71.1h0.55M315.5 69.3h0.55M317.5 71.0h0.55M319.4 69.3h0.55M318.7 72.3h0.55M316.4 74.6h0.55M317.6 74.9h0.55M316.9 75.9h0.55M319.8 77.8h0.55M318.2 71.2h0.55M316.5 71.6h0.55M316.3 72.4h0.55M313.9 76.2h0.55M317.2 76.5h0.55M318.3 70.5h0.55M317.7 75.4h0.55M316.6 68.6h0.55M318.4 76.4h0.55M317.1 78.3h0.55M318.5 71.5h0.55M316.0 71.7h0.55M316.4 68.3h0.55M319.6 78.2h0.55M317.8 79.5h0.55M317.1 71.6h0.55M314.8 61.2h0.55M317.9 68.9h0.55M317.8 74.6h0.55M318.7 74.9h0.55M317.7 74.6h0.55M317.4 74.3h0.55M318.4 75.5h0.55M317.7 72.5h0.55M317.0 70.3h0.55M318.6 73.4h0.55M319.1 77.2h0.55M319.4 75.3h0.55M316.3 70.7h0.55M317.3 68.4h0.55M316.1 73.5h0.55M317.7 75.4h0.55M319.9 65.8h0.55M318.5 75.2h0.55M320.2 74.3h0.55M319.2 77.3h0.55M317.2 78.2h0.55M318.9 74.7h0.55M317.6 75.1h0.55M315.2 74.1h0.55M319.1 71.7h0.55M316.5 76.0h0.55M319.6 79.0h0.55M317.6 76.8h0.55M318.4 71.0h0.55M321.2 74.7h0.55M319.6 73.6h0.55M316.7 71.9h0.55M320.0 70.2h0.55M318.7 73.7h0.55M319.2 76.7h0.55M315.6 72.5h0.55M319.6 75.5h0.55M319.4 78.2h0.55M316.9 68.8h0.55M317.6 72.4h0.55M318.7 78.6h0.55M317.9 74.4h0.55M319.8 80.0h0.55M321.7 77.0h0.55M319.4 73.3h0.55M316.2 76.2h0.55M315.9 71.5h0.55M316.3 74.1h0.55M318.3 73.0h0.55M318.3 79.6h0.55M320.1 75.3h0.55M318.4 76.0h0.55M318.4 76.0h0.55M318.4 75.6h0.55M319.4 69.6h0.55M318.4 69.7h0.55M321.0 72.4h0.55M318.4 76.8h0.55M318.2 73.1h0.55M317.3 75.6h0.55M320.7 78.2h0.55M318.4 74.7h0.55M316.0 74.3h0.55M321.3 74.3h0.55M316.9 79.4h0.55M319.3 73.5h0.55M316.7 73.4h0.55M321.0 68.9h0.55M318.9 71.7h0.55M315.4 72.7h0.55M319.2 66.4h0.55M317.9 72.7h0.55M322.0 80.0h0.55M317.6 68.6h0.55M320.9 75.3h0.55M319.8 74.9h0.55M315.9 70.2h0.55M317.5 79.4h0.55M309.9 67.6h0.55M318.8 73.6h0.55M319.6 75.2h0.55M316.3 74.8h0.55M316.8 72.9h0.55M318.0 68.3h0.55M317.9 70.6h0.55M317.5 73.8h0.55M316.5 71.0h0.55M318.4 74.0h0.55M322.8 76.2h0.55M316.4 73.3h0.55M315.8 74.2h0.55M317.2 76.1h0.55M318.1 76.4h0.55M319.8 67.8h0.55M318.3 76.8h0.55M318.3 73.5h0.55M315.9 78.2h0.55M317.0 71.5h0.55M318.0 77.5h0.55M315.4 69.9h0.55M317.2 71.9h0.55M319.9 69.8h0.55M320.0 77.4h0.55M319.8 77.2h0.55M315.8 68.0h0.55M319.3 77.7h0.55M317.7 75.0h0.55M316.7 72.7h0.55M315.7 74.8h0.55M316.5 73.9h0.55M315.8 67.0h0.55M319.6 69.1h0.55M317.7 70.0h0.55M318.2 66.0h0.55M319.2 70.3h0.55M319.1 68.2h0.55M319.8 68.4h0.55M319.0 67.3h0.55M318.6 67.8h0.55M316.8 71.0h0.55M318.3 69.2h0.55M315.8 69.7h0.55M317.1 69.3h0.55M317.7 69.3h0.55M318.3 67.0h0.55M319.4 72.7h0.55M316.8 70.9h0.55M319.1 68.9h0.55M319.7 69.3h0.55M317.8 68.6h0.55M322.5 66.9h0.55M316.9 72.3h0.55M315.7 67.2h0.55M316.5 71.1h0.55M318.2 69.0h0.55M322.1 70.1h0.55M319.9 69.1h0.55M316.7 69.0h0.55M317.4 67.6h0.55M316.2 69.1h0.55M317.5 71.1h0.55M316.4 72.3h0.55M318.4 68.9h0.55M319.5 70.3h0.55M319.1 71.8h0.55M317.4 69.4h0.55M321.1 67.2h0.55M320.0 69.9h0.55M316.6 68.1h0.55M317.9 69.7h0.55M316.4 70.0h0.55M320.1 70.2h0.55M317.8 68.3h0.55M317.5 67.9h0.55M319.5 66.8h0.55M319.7 70.0h0.55M319.0 68.7h0.55M317.7 71.0h0.55M319.4 69.3h0.55M318.2 67.8h0.55M319.1 85.4h0.55M319.0 82.9h0.55M316.8 84.9h0.55M319.4 86.9h0.55M319.9 87.5h0.55M316.3 84.9h0.55M318.6 85.7h0.55M318.7 85.2h0.55M315.6 82.1h0.55M317.1 84.6h0.55M318.8 83.2h0.55M318.4 84.4h0.55M316.7 83.3h0.55M320.7 84.9h0.55M316.0 86.4h0.55M316.1 71.2h0.55M317.5 83.3h0.55M316.5 75.7h0.55M320.5 76.2h0.55M318.4 85.0h0.55M318.8 91.0h0.55M316.2 84.9h0.55M319.6 79.7h0.55M317.2 87.5h0.55M316.9 84.1h0.55M319.8 83.4h0.55M319.2 80.4h0.55M318.0 81.2h0.55M317.1 84.2h0.55M318.4 81.9h0.55M319.9 84.5h0.55M319.4 82.2h0.55M315.6 88.3h0.55M317.9 85.2h0.55M318.2 84.3h0.55M316.1 75.0h0.55M320.1 87.2h0.55M316.7 82.7h0.55M320.1 81.7h0.55M319.6 83.3h0.55M316.3 81.4h0.55M319.7 82.7h0.55M317.8 84.0h0.55M316.4 84.1h0.55M317.1 82.1h0.55M316.6 86.5h0.55M318.5 88.8h0.55M316.7 81.9h0.55M315.5 87.3h0.55M316.8 84.0h0.55M317.9 80.1h0.55M318.3 84.0h0.55M318.8 81.9h0.55M317.5 79.5h0.55M318.7 87.7h0.55M316.2 90.5h0.55M316.0 78.6h0.55M320.9 77.9h0.55M317.4 87.4h0.55M318.6 82.6h0.55M315.6 72.9h0.55M317.1 79.1h0.55M317.3 89.4h0.55M318.3 80.6h0.55M317.0 91.0h0.55M315.0 83.1h0.55M316.1 81.4h0.55M318.2 76.1h0.55M316.9 87.4h0.55M317.5 82.3h0.55M315.2 88.2h0.55M317.3 85.0h0.55M318.8 83.1h0.55M319.4 84.3h0.55M316.0 86.5h0.55M317.4 91.1h0.55M320.0 83.2h0.55M318.4 76.4h0.55M318.2 85.7h0.55M315.8 81.4h0.55M317.6 79.7h0.55M317.5 88.0h0.55M319.0 86.0h0.55M315.9 83.6h0.55M318.0 84.5h0.55M316.8 79.5h0.55M319.1 88.7h0.55M320.6 83.6h0.55M317.7 82.8h0.55M320.9 88.6h0.55M319.1 84.9h0.55M314.7 83.4h0.55M318.3 86.5h0.55M317.2 85.4h0.55M317.4 82.5h0.55M315.9 81.9h0.55M315.9 90.8h0.55M314.3 87.0h0.55M319.3 81.8h0.55M319.1 84.2h0.55M315.0 86.7h0.55M318.3 87.7h0.55M317.2 84.4h0.55M318.6 80.4h0.55M315.2 88.6h0.55M317.6 85.0h0.55M318.9 90.4h0.55M315.1 86.1h0.55M316.6 88.1h0.55M317.1 86.0h0.55M316.3 74.0h0.55M317.0 78.9h0.55M317.3 76.6h0.55M318.9 88.6h0.55M317.2 80.8h0.55M315.6 77.4h0.55M321.2 75.0h0.55M317.2 87.1h0.55M318.5 85.5h0.55M316.7 83.0h0.55M317.1 87.9h0.55M317.3 83.3h0.55M315.7 82.5h0.55M315.8 84.1h0.55M317.8 84.0h0.55M316.4 88.3h0.55M316.3 87.7h0.55M314.3 87.3h0.55M316.0 85.2h0.55M321.0 83.1h0.55M320.1 81.0h0.55M316.9 82.5h0.55M317.7 81.3h0.55M315.9 78.7h0.55M318.7 86.1h0.55M317.1 85.0h0.55M320.5 86.7h0.55M319.6 79.9h0.55M320.1 80.9h0.55M316.4 79.6h0.55M316.8 81.8h0.55M318.7 86.8h0.55M316.1 84.8h0.55M318.8 88.8h0.55M316.5 84.0h0.55M317.9 84.0h0.55M320.3 85.0h0.55M317.1 87.0h0.55M317.7 81.0h0.55M317.8 85.0h0.55M318.3 88.4h0.55M319.5 77.4h0.55M316.0 65.3h0.55M320.1 71.2h0.55M315.3 78.8h0.55M321.4 59.4h0.55M316.5 88.6h0.55M317.5 83.6h0.55M317.3 74.8h0.55M320.6 64.6h0.55M318.4 69.7h0.55M312.5 82.9h0.55M314.2 79.9h0.55M314.8 79.4h0.55" stroke="#000" stroke-width="0.55" fill="none"/>
<path d="M360.0 81.0h0.45M366.2 82.4h0.45M359.7 83.4h0.45M364.4 78.0h0.45M360.9 87.6h0.45M362.3 86.6h0.45M361.9 87.8h0.45M360.2 87.0h0.45M359.8 73.2h0.45M366.5 87.4h0.45M361.5 87.6h0.45M361.2 83.5h0.45M357.3 83.7h0.45M353.4 84.9h0.45M358.3 82.6h0.45M364.3 85.3h0.45M350.4 86.9h0.45M360.8 88.3h0.45M358.0 86.6h0.45M363.4 85.9h0.45M368.4 82.7h0.45M364.2 76.2h0.45M367.8 79.6h0.45M357.5 89.6h0.45M368.0 85.8h0.45M370.5 90.5h0.45M361.4 78.6h0.45M356.3 84.7h0.45M367.5 77.8h0.45M360.0 76.8h0.45M363.9 90.3h0.45M358.4 83.5h0.45M359.7 79.9h0.45M364.7 80.8h0.45M365.6 84.5h0.45M359.8 79.5h0.45M367.0 78.0h0.45M359.4 86.3h0.45M364.8 89.5h0.45M357.2 84.4h0.45M360.6 84.1h0.45M357.9 88.9h0.45M367.2 83.9h0.45M360.2 84.1h0.45M363.6 82.9h0.45M361.2 81.4h0.45M358.6 86.9h0.45M364.2 78.8h0.45M367.1 81.2h0.45M354.9 85.0h0.45M360.3 80.4h0.45M354.6 87.2h0.45M360.9 78.8h0.45M368.6 87.6h0.45M360.6 85.1h0.45M361.8 80.5h0.45M363.1 88.0h0.45M359.1 78.5h0.45M359.8 88.3h0.45M362.5 86.4h0.45M360.1 83.4h0.45M355.1 85.5h0.45M357.9 89.9h0.45M360.9 86.4h0.45M357.6 87.2h0.45M364.1 78.1h0.45M360.4 78.9h0.45M356.0 78.4h0.45M364.9 80.3h0.45M360.4 80.9h0.45M363.2 83.4h0.45M359.8 88.0h0.45M361.3 88.2h0.45M367.5 81.5h0.45M355.0 84.9h0.45M358.2 76.6h0.45M358.7 81.8h0.45M365.6 80.4h0.45M360.5 86.4h0.45M360.7 82.4h0.45M365.5 82.4h0.45M356.3 91.0h0.45M365.3 89.1h0.45M357.8 80.8h0.45M364.5 86.1h0.45M360.5 73.8h0.45M354.6 83.7h0.45M363.6 84.9h0.45M362.2 86.2h0.45M369.3 79.8h0.45M363.0 77.7h0.45M353.7 91.0h0.45M363.0 80.9h0.45M356.8 91.0h0.45M360.3 85.6h0.45M365.6 84.2h0.45M361.8 84.4h0.45M352.2 81.2h0.45M362.0 83.2h0.45M356.5 84.8h0.45M363.5 85.5h0.45M354.5 88.6h0.45M361.8 87.2h0.45M370.7 84.1h0.45M361.3 85.5h0.45M359.4 88.9h0.45M359.1 81.9h0.45M356.3 88.8h0.45M362.9 79.8h0.45M359.5 85.3h0.45M359.4 90.7h0.45M362.4 79.1h0.45M362.8 87.4h0.45M356.6 79.0h0.45M360.0 84.2h0.45M361.7 84.1h0.45M356.1 77.1h0.45M362.3 85.9h0.45M367.3 87.6h0.45M358.6 89.5h0.45M361.1 87.3h0.45M362.0 85.4h0.45M372.5 86.4h0.45M368.9 85.3h0.45M360.3 85.7h0.45M362.2 89.0h0.45M362.7 86.0h0.45M358.8 82.1h0.45M361.9 87.3h0.45M356.6 90.7h0.45M359.1 86.9h0.45M357.5 87.0h0.45M358.5 89.8h0.45M369.9 79.4h0.45M356.6 80.8h0.45M361.1 88.9h0.45M356.9 86.1h0.45M360.6 83.9h0.45M361.5 88.5h0.45M359.8 83.6h0.45M358.7 79.6h0.45M357.2 81.5h0.45M354.4 83.0h0.45M361.6 75.1h0.45M361.9 82.3h0.45M367.5 90.0h0.45M363.2 84.6h0.45M362.3 83.7h0.45M360.6 83.4h0.45M362.3 77.8h0.45M367.5 86.0h0.45M364.1 89.4h0.45M352.9 84.0h0.45M361.9 84.1h0.45M363.9 72.9h0.45M358.4 85.6h0.45M368.6 88.3h0.45M359.1 81.1h0.45M368.4 82.8h0.45M359.5 88.2h0.45M360.5 83.1h0.45M365.7 84.0h0.45M360.6 89.3h0.45M356.7 79.0h0.45M360.0 82.2h0.45M360.4 82.7h0.45M364.8 88.7h0.45M360.7 86.7h0.45M362.6 78.5h0.45M361.2 81.4h0.45M362.4 91.2h0.45M362.2 75.3h0.45M371.6 79.8h0.45M360.4 89.6h0.45M362.7 81.5h0.45M367.5 77.9h0.45M364.7 83.2h0.45M360.3 83.8h0.45M358.1 87.2h0.45M362.2 83.5h0.45M364.0 79.3h0.45M366.6 84.3h0.45M362.6 81.4h0.45M357.7 89.4h0.45M365.3 81.5h0.45M364.6 82.1h0.45M356.4 84.4h0.45M360.0 79.7h0.45M364.3 84.8h0.45M365.9 85.3h0.45M365.2 78.4h0.45M366.5 79.3h0.45M363.9 90.3h0.45M357.2 83.8h0.45M361.8 79.3h0.45M363.0 86.6h0.45M369.5 79.4h0.45M363.8 85.1h0.45M356.3 84.6h0.45M362.7 84.6h0.45M362.8 83.1h0.45M362.6 86.7h0.45M357.3 90.2h0.45M361.5 87.0h0.45M361.6 86.0h0.45M366.9 85.2h0.45M360.7 87.9h0.45M360.7 87.3h0.45M358.3 82.5h0.45M367.0 80.5h0.45M361.8 84.5h0.45M359.6 80.6h0.45M361.1 83.6h0.45M360.2 84.1h0.45M361.4 82.1h0.45M371.5 86.5h0.45M366.8 78.1h0.45M360.0 89.1h0.45M362.6 87.4h0.45M363.0 87.5h0.45M360.1 82.3h0.45M352.8 78.9h0.45M361.4 81.6h0.45M361.6 89.8h0.45M358.0 81.2h0.45M362.7 85.3h0.45M360.1 87.3h0.45M360.4 81.2h0.45M366.7 88.8h0.45M361.2 80.1h0.45M365.8 81.9h0.45M362.4 83.9h0.45M364.3 81.4h0.45M361.8 83.4h0.45M362.9 80.4h0.45M356.9 80.8h0.45M357.1 83.5h0.45M358.2 88.3h0.45M359.7 82.4h0.45M363.6 79.9h0.45M362.9 83.4h0.45M363.7 89.8h0.45M365.1 85.7h0.45M360.3 85.2h0.45M360.6 84.9h0.45M362.7 84.8h0.45M362.2 86.0h0.45M356.6 86.8h0.45M355.3 86.4h0.45M365.0 89.3h0.45M364.8 82.1h0.45M352.5 85.4h0.45M363.3 79.7h0.45M361.4 86.7h0.45M360.8 84.4h0.45M363.5 86.4h0.45M354.0 80.2h0.45M360.1 82.5h0.45M363.6 88.4h0.45M365.3 83.9h0.45M365.4 84.6h0.45M361.8 88.1h0.45M359.5 89.8h0.45M359.6 83.1h0.45M364.4 79.3h0.45M366.3 84.2h0.45M349.9 83.9h0.45M367.8 76.9h0.45M364.1 81.0h0.45M363.0 83.6h0.45M359.4 82.0h0.45M365.7 82.9h0.45M364.3 82.5h0.45M362.0 81.4h0.45M364.3 85.9h0.45M361.5 79.9h0.45M357.2 82.0h0.45M359.2 84.8h0.45M362.8 90.2h0.45M358.1 84.3h0.45M362.9 85.5h0.45M356.7 81.3h0.45M362.0 83.4h0.45M368.9 86.6h0.45M360.3 84.6h0.45M360.1 81.8h0.45M361.5 77.5h0.45M359.8 85.1h0.45M359.9 84.9h0.45M363.4 80.5h0.45M366.2 85.3h0.45M367.3 83.7h0.45M364.0 84.7h0.45M359.4 82.5h0.45M356.7 83.8h0.45M363.0 85.0h0.45M360.5 78.3h0.45M363.8 78.4h0.45M355.0 81.8h0.45M355.9 87.6h0.45M358.2 84.9h0.45M361.9 89.9h0.45M369.7 77.8h0.45M362.4 83.2h0.45M365.1 84.5h0.45M363.9 86.6h0.45M363.9 76.6h0.45M364.0 78.4h0.45M354.4 87.1h0.45M363.5 79.9h0.45M352.1 86.1h0.45M362.6 85.2h0.45M359.4 85.9h0.45M362.0 89.2h0.45M363.2 85.0h0.45M364.7 82.0h0.45M364.8 81.5h0.45M357.5 75.3h0.45M363.6 77.9h0.45M362.5 90.5h0.45M359.3 84.6h0.45M358.6 85.8h0.45M363.3 75.0h0.45M365.6 81.5h0.45M366.3 82.6h0.45M355.7 89.9h0.45M354.8 80.0h0.45M363.9 81.0h0.45M359.4 83.9h0.45M358.9 89.2h0.45M355.4 79.8h0.45M361.1 78.9h0.45M368.8 80.0h0.45M354.2 89.2h0.45M356.5 89.6h0.45M367.5 87.5h0.45M359.9 79.2h0.45M358.0 83.0h0.45M363.9 86.3h0.45M362.5 77.3h0.45M360.3 85.9h0.45M357.0 85.6h0.45M365.8 86.3h0.45M363.7 78.7h0.45M358.3 87.9h0.45M364.9 84.5h0.45M357.3 83.2h0.45M362.3 83.0h0.45M360.4 84.8h0.45M359.8 76.9h0.45M366.3 86.0h0.45M363.7 77.3h0.45M363.2 82.2h0.45M362.3 81.2h0.45M359.0 80.9h0.45M360.9 84.6h0.45M360.9 83.9h0.45M358.7 84.7h0.45M359.1 86.4h0.45M357.8 76.0h0.45M352.1 86.0h0.45M358.8 79.8h0.45M365.3 81.9h0.45M362.4 89.6h0.45M358.6 82.3h0.45M365.7 86.0h0.45M350.2 82.3h0.45M364.0 76.2h0.45M366.8 87.9h0.45M362.1 77.1h0.45M356.1 87.0h0.45M364.7 85.5h0.45M360.4 84.1h0.45M361.7 81.3h0.45M357.7 86.2h0.45M362.5 78.9h0.45M365.2 82.2h0.45M361.8 82.5h0.45M363.8 83.3h0.45M356.8 89.7h0.45M360.5 83.0h0.45M357.2 83.6h0.45M356.9 75.0h0.45M359.6 88.1h0.45M356.9 85.5h0.45M361.8 87.1h0.45M370.8 69.2h0.45M371.8 67.1h0.45M371.7 66.2h0.45M372.3 74.9h0.45M370.5 65.2h0.45M373.6 70.5h0.45M372.4 70.3h0.45M372.3 71.9h0.45M372.0 75.3h0.45M369.8 71.9h0.45M373.7 78.8h0.45M370.9 73.8h0.45M373.4 72.3h0.45M369.8 70.7h0.45M372.0 72.7h0.45M369.8 70.2h0.45M370.2 74.0h0.45M372.9 73.8h0.45M370.1 71.3h0.45M370.6 69.5h0.45M369.1 70.9h0.45M372.4 67.5h0.45M374.7 71.6h0.45M372.2 71.0h0.45M373.7 73.3h0.45M372.0 76.4h0.45M373.4 68.1h0.45M372.8 79.4h0.45M370.3 73.6h0.45M371.9 75.2h0.45M372.0 72.6h0.45M372.9 73.3h0.45M371.0 71.8h0.45M373.1 73.3h0.45M372.2 78.6h0.45M371.1 67.7h0.45M371.6 78.5h0.45M372.8 66.7h0.45M370.3 73.8h0.45M372.8 73.6h0.45M371.2 72.3h0.45M371.6 63.8h0.45M370.4 71.7h0.45M372.2 66.9h0.45M373.8 76.3h0.45M372.1 73.4h0.45M369.2 65.5h0.45M373.4 74.6h0.45M372.5 78.0h0.45M371.2 78.5h0.45M374.0 74.2h0.45M370.3 73.3h0.45M372.3 70.9h0.45M373.1 75.6h0.45M368.1 67.2h0.45M370.3 71.7h0.45M373.1 73.0h0.45M371.4 76.1h0.45M373.2 73.3h0.45M371.9 76.6h0.45M372.7 76.9h0.45M369.5 78.5h0.45M371.0 67.2h0.45M372.0 75.3h0.45M370.3 75.0h0.45M375.4 78.0h0.45M373.1 76.8h0.45M372.5 84.4h0.45M372.3 75.2h0.45M371.5 74.7h0.45M372.3 76.1h0.45M373.5 74.2h0.45M372.2 79.3h0.45M373.3 75.1h0.45M374.9 73.9h0.45M371.3 76.6h0.45M370.2 71.1h0.45M374.4 79.7h0.45M372.2 75.9h0.45M373.1 70.4h0.45M370.9 73.7h0.45M371.1 74.9h0.45M369.0 78.9h0.45M374.1 75.3h0.45M373.1 69.7h0.45M373.1 72.0h0.45M372.9 75.5h0.45M373.0 65.8h0.45M370.8 71.7h0.45M376.3 70.8h0.45M371.0 73.2h0.45M372.8 74.3h0.45M373.3 73.9h0.45M372.2 68.7h0.45M372.3 69.7h0.45M372.6 74.4h0.45M372.8 78.3h0.45M371.2 81.3h0.45M372.3 70.6h0.45M371.4 75.9h0.45M371.9 76.4h0.45M372.9 82.4h0.45M372.5 80.2h0.45M374.9 78.4h0.45M370.6 75.4h0.45M373.1 74.9h0.45M371.6 71.9h0.45M373.5 74.8h0.45M370.7 69.4h0.45M374.2 79.2h0.45M370.0 68.3h0.45M371.9 74.3h0.45M374.2 71.1h0.45M374.9 78.0h0.45M371.5 78.4h0.45M371.1 76.5h0.45M369.9 69.4h0.45M370.7 70.6h0.45M370.1 76.6h0.45M371.3 68.2h0.45M370.1 67.3h0.45M369.9 71.9h0.45M371.8 72.5h0.45M370.3 73.0h0.45M374.3 70.7h0.45M368.6 75.9h0.45M372.9 76.6h0.45M371.1 75.1h0.45M373.2 74.2h0.45M371.2 72.7h0.45M373.8 73.1h0.45M370.9 79.2h0.45M370.1 79.7h0.45M370.7 75.6h0.45M372.9 77.4h0.45M374.2 76.9h0.45M371.9 77.5h0.45M372.2 67.3h0.45M372.7 70.0h0.45M370.7 73.5h0.45M372.8 75.7h0.45M373.3 77.1h0.45M371.7 78.8h0.45M375.3 74.6h0.45M374.9 78.4h0.45M370.9 68.0h0.45M373.7 76.2h0.45M372.7 76.4h0.45M371.7 78.5h0.45M370.9 69.1h0.45M369.9 73.2h0.45M371.6 72.5h0.45M369.8 77.9h0.45M373.8 70.3h0.45M373.1 76.7h0.45M372.7 80.1h0.45M373.9 75.4h0.45M374.5 81.0h0.45M371.2 72.4h0.45M372.5 72.3h0.45M369.8 70.8h0.45M370.6 74.4h0.45M374.2 74.7h0.45M370.2 75.7h0.45M372.6 73.8h0.45M371.8 75.5h0.45M372.7 76.2h0.45M373.6 72.9h0.45M371.4 70.5h0.45M370.6 75.4h0.45M371.2 70.4h0.45M370.4 73.4h0.45M375.2 68.2h0.45M371.7 74.5h0.45M376.5 82.0h0.45M372.2 74.3h0.45M373.8 71.5h0.45M370.7 76.4h0.45M371.8 71.8h0.45M372.6 77.8h0.45M370.0 71.0h0.45M372.9 75.1h0.45M371.2 65.4h0.45M372.5 77.5h0.45M369.9 69.2h0.45M372.3 67.9h0.45M372.5 70.6h0.45M372.6 74.5h0.45M373.6 68.3h0.45M374.0 73.5h0.45M371.6 67.1h0.45M372.1 69.5h0.45M369.2 69.9h0.45M371.1 80.6h0.45M373.2 76.8h0.45M370.3 67.4h0.45M374.3 80.6h0.45M374.2 74.3h0.45M370.6 73.5h0.45M371.1 77.3h0.45M373.5 72.9h0.45M371.5 73.8h0.45M370.9 70.7h0.45M370.3 68.0h0.45M370.8 72.0h0.45M370.0 76.3h0.45M368.9 70.1h0.45M374.0 75.2h0.45M373.5 75.8h0.45M370.7 73.4h0.45M373.9 73.3h0.45M373.2 77.6h0.45M373.9 77.4h0.45M374.1 74.3h0.45M373.9 74.5h0.45M371.8 78.4h0.45M373.1 77.6h0.45M373.6 70.8h0.45M372.0 77.0h0.45M370.2 74.2h0.45M373.2 76.6h0.45M371.9 73.1h0.45M371.3 69.9h0.45M371.9 73.1h0.45M373.4 80.1h0.45M372.5 69.9h0.45M371.8 71.3h0.45M373.2 68.3h0.45M369.2 72.2h0.45M375.2 76.4h0.45M366.0 69.6h0.45M367.4 80.4h0.45M366.5 77.3h0.45M366.7 80.0h0.45M363.2 80.4h0.45M364.0 84.5h0.45M367.7 76.3h0.45M366.4 84.3h0.45M367.7 82.6h0.45M369.7 78.7h0.45M371.8 75.4h0.45M365.7 79.5h0.45M367.6 76.1h0.45M362.2 78.3h0.45M365.1 80.7h0.45M365.9 78.1h0.45M366.9 80.0h0.45M370.1 78.2h0.45M367.0 85.7h0.45M363.9 74.5h0.45M363.5 85.9h0.45M369.1 76.4h0.45M361.9 84.3h0.45M362.0 82.0h0.45M368.8 81.8h0.45M362.9 82.6h0.45M367.5 82.2h0.45M364.6 83.3h0.45M361.2 82.6h0.45M367.0 78.6h0.45M364.6 79.5h0.45M365.9 86.4h0.45M364.0 77.6h0.45M367.2 81.9h0.45M363.6 82.8h0.45M367.0 86.6h0.45M365.6 78.3h0.45M364.7 76.9h0.45M368.2 84.0h0.45M366.8 71.2h0.45M362.3 84.7h0.45M366.8 83.0h0.45M363.6 84.6h0.45M371.6 83.8h0.45M368.0 80.3h0.45M367.4 83.1h0.45M366.0 75.9h0.45M365.8 83.1h0.45M368.1 83.7h0.45M365.9 78.3h0.45M369.1 79.5h0.45M368.2 78.8h0.45M366.2 76.4h0.45M366.0 86.6h0.45M365.3 81.6h0.45M366.3 77.5h0.45M367.2 84.2h0.45M363.3 78.0h0.45M361.2 83.2h0.45M365.0 76.0h0.45M365.9 73.9h0.45M365.6 78.1h0.45M370.7 71.2h0.45M367.5 84.7h0.45M368.4 86.8h0.45M365.8 85.0h0.45M365.4 77.0h0.45M366.4 82.1h0.45M368.7 75.2h0.45M363.6 77.6h0.45M365.4 84.6h0.45M366.5 78.4h0.45M373.3 82.2h0.45M369.5 69.8h0.45M367.7 82.7h0.45M362.5 77.4h0.45M367.6 82.8h0.45M368.5 76.5h0.45M364.1 82.9h0.45M369.7 78.0h0.45M368.8 77.6h0.45M365.8 77.8h0.45M368.4 72.4h0.45M364.9 77.1h0.45M364.3 77.2h0.45M367.1 84.1h0.45M364.7 78.6h0.45M365.7 85.7h0.45M365.2 84.5h0.45M367.6 77.6h0.45M369.2 76.0h0.45M364.1 77.4h0.45M370.0 72.6h0.45M365.8 82.3h0.45M366.6 75.8h0.45M369.4 80.9h0.45M364.5 79.3h0.45M368.9 83.8h0.45M366.0 76.1h0.45M364.1 80.6h0.45M369.7 87.3h0.45M371.7 76.8h0.45M370.4 84.0h0.45M363.0 85.9h0.45M362.6 79.7h0.45M362.7 83.0h0.45M365.4 75.5h0.45M367.6 84.1h0.45M364.2 69.8h0.45M368.6 81.0h0.45M357.5 89.2h0.45M372.0 87.2h0.45M360.4 80.7h0.45M367.7 83.3h0.45M357.0 67.9h0.45M361.0 73.7h0.45M368.4 68.2h0.45M360.5 80.7h0.45M360.6 87.0h0.45M358.3 86.3h0.45M367.0 91.0h0.45M368.1 77.6h0.45M356.8 67.2h0.45M362.3 76.6h0.45M368.3 75.6h0.45M369.1 79.0h0.45M369.0 82.1h0.45M360.4 84.1h0.45M349.1 75.9h0.45M367.7 84.1h0.45M363.6 76.8h0.45M354.0 85.7h0.45M358.2 84.0h0.45M366.6 76.7h0.45M361.6 77.6h0.45M366.8 81.6h0.45M357.2 89.9h0.45M363.8 75.1h0.45M360.9 87.6h0.45M362.3 77.1h0.45M360.5 85.3h0.45M358.4 85.2h0.45M366.2 89.0h0.45M353.4 80.4h0.45M359.6 83.0h0.45M350.9 87.6h0.45M355.9 74.3h0.45M356.6 85.0h0.45M360.1 85.1h0.45M357.0 76.9h0.45M357.2 81.7h0.45M368.3 87.4h0.45M350.9 88.4h0.45M360.8 81.6h0.45M369.5 78.3h0.45M356.3 75.8h0.45M369.9 68.6h0.45M358.4 79.5h0.45M355.9 83.7h0.45M357.2 83.0h0.45M348.8 87.6h0.45M361.8 87.8h0.45M367.9 84.8h0.45M356.0 73.0h0.45M359.1 77.1h0.45M363.2 77.3h0.45M366.4 84.5h0.45M358.7 80.2h0.45" stroke="#333" stroke-width="0.45" fill="none"/>
<text x="299" y="109.3" font-size="6.7" text-anchor="middle" fill="#1a1a1a" stroke="#1a1a1a" stroke-width="0.18">TIE2</text>
<polygon points="306.2,126.3 309.4,126.3 309.4,140.4 311.8,140.4 307.8,145.2 303.8,140.4 306.2,140.4" fill="#000"/>
<text x="315.2" y="137.7" font-size="6.4" fill="#1a1a1a" stroke="#1a1a1a" stroke-width="0.18">48 hrs</text>
<text x="401.5" y="32.2" font-size="5" fill="#666" font-weight="bold">iii</text>
<text x="464.3" y="33.8" font-size="6.4" text-anchor="middle" fill="#1a1a1a" stroke="#1a1a1a" stroke-width="0.18">CFU-C</text>
<polygon points="384.9,67.9 392.5,67.9 392.5,65.80000000000001 397.2,69.4 392.5,73.0 392.5,70.9 384.9,70.9" fill="#000"/>
<line x1="424.4" y1="38.3" x2="424.4" y2="104.0" stroke="#000" stroke-width="1.3"/>
<line x1="423.8" y1="103.5" x2="512" y2="103.5" stroke="#000" stroke-width="1.2"/>
<line x1="421.4" y1="40.8" x2="424.4" y2="40.8" stroke="#000" stroke-width="0.8"/>
<text x="420.9" y="42.5" font-size="5.0" text-anchor="end" fill="#1a1a1a" stroke="#1a1a1a" stroke-width="0.18">1000</text>
<line x1="421.4" y1="53.339999999999996" x2="424.4" y2="53.339999999999996" stroke="#000" stroke-width="0.8"/>
<text x="420.9" y="55.04" font-size="5.0" text-anchor="end" fill="#1a1a1a" stroke="#1a1a1a" stroke-width="0.18">800</text>
<line x1="421.4" y1="65.88" x2="424.4" y2="65.88" stroke="#000" stroke-width="0.8"/>
<text x="420.9" y="67.58" font-size="5.0" text-anchor="end" fill="#1a1a1a" stroke="#1a1a1a" stroke-width="0.18">600</text>
<line x1="421.4" y1="78.42" x2="424.4" y2="78.42" stroke="#000" stroke-width="0.8"/>
<text x="420.9" y="80.12" font-size="5.0" text-anchor="end" fill="#1a1a1a" stroke="#1a1a1a" stroke-width="0.18">400</text>
<line x1="421.4" y1="90.96" x2="424.4" y2="90.96" stroke="#000" stroke-width="0.8"/>
<text x="420.9" y="92.66" font-size="5.0" text-anchor="end" fill="#1a1a1a" stroke="#1a1a1a" stroke-width="0.18">200</text>
<text x="405.9" y="70" font-size="6.3" text-anchor="middle" fill="#1a1a1a" stroke="#1a1a1a" stroke-width="0.18" transform="rotate(-90 405.9 70)">Colonies/3000 cells</text>
<rect x="436" y="100.2" width="6.5" height="3.299999999999997" fill="#72b0e0" stroke="none" stroke-width="1"/>
<line x1="439.25" y1="99.4" x2="439.25" y2="100.2" stroke="#000" stroke-width="0.8"/>
<line x1="437.45" y1="99.4" x2="441.05" y2="99.4" stroke="#000" stroke-width="1.0"/>
<rect x="445.6" y="88" width="7" height="15.5" fill="#b8043a" stroke="none" stroke-width="1"/>
<line x1="449.1" y1="87.4" x2="449.1" y2="88" stroke="#000" stroke-width="0.8"/>
<line x1="447.3" y1="87.4" x2="450.90000000000003" y2="87.4" stroke="#000" stroke-width="1.0"/>
<rect x="455" y="98.1" width="7.2" height="5.400000000000006" fill="#68ad45" stroke="none" stroke-width="1"/>
<line x1="458.6" y1="97.8" x2="458.6" y2="98.1" stroke="#000" stroke-width="0.8"/>
<line x1="456.8" y1="97.8" x2="460.40000000000003" y2="97.8" stroke="#000" stroke-width="1.0"/>
<rect x="465" y="89.2" width="7.1" height="14.299999999999997" fill="#72b0e0" stroke="none" stroke-width="1"/>
<line x1="468.55" y1="88.4" x2="468.55" y2="89.2" stroke="#000" stroke-width="0.8"/>
<line x1="466.75" y1="88.4" x2="470.35" y2="88.4" stroke="#000" stroke-width="1.0"/>
<rect x="474.5" y="56" width="6.8" height="47.5" fill="#b8043a" stroke="none" stroke-width="1"/>
<line x1="477.9" y1="49.6" x2="477.9" y2="56" stroke="#000" stroke-width="0.8"/>
<line x1="476.09999999999997" y1="49.6" x2="479.7" y2="49.6" stroke="#000" stroke-width="1.0"/>
<rect x="486.6" y="102.9" width="3" height="0.5999999999999943" fill="#68ad45" stroke="none" stroke-width="1"/>
<rect x="494.4" y="100.6" width="4" height="2.9000000000000057" fill="#72b0e0" stroke="none" stroke-width="1"/>
<line x1="496.4" y1="99.8" x2="496.4" y2="100.6" stroke="#000" stroke-width="0.8"/>
<line x1="494.59999999999997" y1="99.8" x2="498.2" y2="99.8" stroke="#000" stroke-width="1.0"/>
<rect x="503.5" y="101" width="4.6" height="2.5" fill="#b8043a" stroke="none" stroke-width="1"/>
<line x1="505.8" y1="98.2" x2="505.8" y2="101" stroke="#000" stroke-width="0.8"/>
<line x1="504.0" y1="98.2" x2="507.6" y2="98.2" stroke="#000" stroke-width="1.0"/>
<rect x="427" y="102.9" width="3" height="0.5999999999999943" fill="#68ad45" stroke="none" stroke-width="1"/>
<line x1="439.5" y1="103.5" x2="439.5" y2="105.3" stroke="#000" stroke-width="0.8"/>
<line x1="468.5" y1="103.5" x2="468.5" y2="105.3" stroke="#000" stroke-width="0.8"/>
<line x1="496.6" y1="103.5" x2="496.6" y2="105.3" stroke="#000" stroke-width="0.8"/>
<circle cx="445.1" cy="80.7" r="0.8" fill="#1a1a1a"/>
<circle cx="448.1" cy="80.7" r="0.8" fill="#1a1a1a"/>
<circle cx="451.1" cy="80.7" r="0.8" fill="#1a1a1a"/>
<line x1="456.9" y1="40.6" x2="478.3" y2="40.6" stroke="#000" stroke-width="1.1"/>
<circle cx="464.3" cy="37.3" r="0.82" fill="#1a1a1a"/>
<circle cx="467.2" cy="37.3" r="0.82" fill="#1a1a1a"/>
<circle cx="470.2" cy="37.3" r="0.82" fill="#1a1a1a"/>
<line x1="467.1" y1="46.9" x2="478.3" y2="46.9" stroke="#000" stroke-width="1.3"/>
<circle cx="471.2" cy="44.3" r="0.82" fill="#1a1a1a"/>
<circle cx="474.2" cy="44.3" r="0.82" fill="#1a1a1a"/>
<text x="439.3" y="112.6" font-size="5.4" text-anchor="middle" fill="#1a1a1a" stroke="#1a1a1a" stroke-width="0.18">Primitive</text>
<text x="468.4" y="112.6" font-size="5.4" text-anchor="middle" fill="#1a1a1a" stroke="#1a1a1a" stroke-width="0.18">Definitive</text>
<text x="497" y="112.6" font-size="5.4" text-anchor="middle" fill="#1a1a1a" stroke="#1a1a1a" stroke-width="0.18">Mixed</text>
<rect x="492" y="44.9" width="3.2" height="3.2" fill="#68ad45" stroke="none" stroke-width="1"/>
<text x="496.2" y="48.5" font-size="5.5" fill="#4a4a4a" stroke="#4a4a4a" stroke-width="0.18">E+L-</text>
<rect x="492" y="50.9" width="3.2" height="3.2" fill="#72b0e0" stroke="none" stroke-width="1"/>
<text x="496.2" y="54.5" font-size="5.5" fill="#4a4a4a" stroke="#4a4a4a" stroke-width="0.18">E+L+</text>
<rect x="492" y="57.4" width="3.2" height="3.2" fill="#b8043a" stroke="none" stroke-width="1"/>
<text x="496.2" y="61.0" font-size="5.5" fill="#4a4a4a" stroke="#4a4a4a" stroke-width="0.18">E-L+</text>
<text x="115.2" y="147.6" font-size="10.8" fill="#000" font-weight="bold">C</text>
<text x="117.3" y="158.3" font-size="5" fill="#666" font-weight="bold">i</text>
<line x1="124.7" y1="164" x2="124.7" y2="230.6" stroke="#000" stroke-width="1.2"/>
<polygon points="122.4,165.2 127,165.2 124.7,160.6" fill="#000"/>
<line x1="124.1" y1="230.6" x2="310" y2="230.6" stroke="#000" stroke-width="1.2"/>
<polygon points="309.5,228.3 309.5,232.9 314,230.6" fill="#000"/>
<text x="122.6" y="195.5" font-size="6.5" text-anchor="middle" fill="#1a1a1a" stroke="#1a1a1a" stroke-width="0.18" transform="rotate(-90 122.6 195.5)">c-Kit</text>
<text x="220" y="239.2" font-size="6.7" text-anchor="middle" fill="#1a1a1a" stroke="#1a1a1a" stroke-width="0.18">TIE2</text>
<rect x="133.8" y="170.3" width="51.19999999999999" height="48.89999999999998" fill="none" stroke="#b4b4b4" stroke-width="0.6"/>
<line x1="156" y1="170.3" x2="156" y2="219.2" stroke="#d0d0d0" stroke-width="0.45"/>
<line x1="133.8" y1="199" x2="185" y2="199" stroke="#d0d0d0" stroke-width="0.45"/>
<text x="160.00000000000003" y="165.6" font-size="6.5" text-anchor="middle" fill="#1a1a1a" stroke="#1a1a1a" stroke-width="0.18">CD41-/E+/L-</text>
<text x="135.60000000000002" y="175.9" font-size="5.0" fill="#55558a">5.05</text>
<text x="184.2" y="175.9" font-size="5.0" text-anchor="end" fill="#55558a">57.1</text>
<text x="135.60000000000002" y="218.6" font-size="5.0" fill="#55558a">3.55</text>
<text x="184.2" y="218.6" font-size="5.0" text-anchor="end" fill="#55558a">34.3</text>
<text x="127.20000000000002" y="175.9" font-size="3.6" fill="#3a3a3a">10<tspan font-size="2.59" dy="-1.4">5</tspan></text>
<text x="127.20000000000002" y="185.1" font-size="3.6" fill="#3a3a3a">10<tspan font-size="2.59" dy="-1.4">4</tspan></text>
<text x="127.20000000000002" y="199.29999999999998" font-size="3.6" fill="#3a3a3a">10<tspan font-size="2.59" dy="-1.4">3</tspan></text>
<text x="127.20000000000002" y="211.2" font-size="3.6" fill="#3a3a3a">10<tspan font-size="2.59" dy="-1.4">2</tspan></text>
<text x="130.20000000000002" y="215.3" font-size="3.6" fill="#3a3a3a" stroke="#3a3a3a" stroke-width="0.18">0</text>
<text x="141.8" y="225.6" font-size="3.6" text-anchor="middle" fill="#3a3a3a">0 10<tspan font-size="2.59" dy="-1.4">3</tspan></text>
<text x="155.816" y="225.6" font-size="3.6" text-anchor="middle" fill="#3a3a3a">10<tspan font-size="2.59" dy="-1.4">3</tspan></text>
<text x="167.592" y="225.6" font-size="3.6" text-anchor="middle" fill="#3a3a3a">10<tspan font-size="2.59" dy="-1.4">4</tspan></text>
<text x="178.6" y="225.6" font-size="3.6" text-anchor="middle" fill="#3a3a3a">10<tspan font-size="2.59" dy="-1.4">5</tspan></text>
<rect x="194" y="170.3" width="52.599999999999994" height="48.89999999999998" fill="none" stroke="#b4b4b4" stroke-width="0.6"/>
<line x1="217.4" y1="170.3" x2="217.4" y2="219.2" stroke="#d0d0d0" stroke-width="0.45"/>
<line x1="194" y1="199.6" x2="246.6" y2="199.6" stroke="#d0d0d0" stroke-width="0.45"/>
<text x="218.90000000000003" y="165.6" font-size="6.5" text-anchor="middle" fill="#1a1a1a" stroke="#1a1a1a" stroke-width="0.18">CD41-/E+/L+</text>
<text x="195.8" y="175.9" font-size="5.0" fill="#55558a">9.1</text>
<text x="245.79999999999998" y="175.9" font-size="5.0" text-anchor="end" fill="#55558a">56.3</text>
<text x="195.8" y="218.6" font-size="5.0" fill="#55558a">3.11</text>
<text x="245.79999999999998" y="218.6" font-size="5.0" text-anchor="end" fill="#55558a">29.5</text>
<text x="187.4" y="175.9" font-size="3.6" fill="#3a3a3a">10<tspan font-size="2.59" dy="-1.4">5</tspan></text>
<text x="187.4" y="185.1" font-size="3.6" fill="#3a3a3a">10<tspan font-size="2.59" dy="-1.4">4</tspan></text>
<text x="187.4" y="199.29999999999998" font-size="3.6" fill="#3a3a3a">10<tspan font-size="2.59" dy="-1.4">3</tspan></text>
<text x="187.4" y="211.2" font-size="3.6" fill="#3a3a3a">10<tspan font-size="2.59" dy="-1.4">2</tspan></text>
<text x="190.4" y="215.3" font-size="3.6" fill="#3a3a3a" stroke="#3a3a3a" stroke-width="0.18">0</text>
<text x="202.3" y="225.6" font-size="3.6" text-anchor="middle" fill="#3a3a3a">0 10<tspan font-size="2.59" dy="-1.4">3</tspan></text>
<text x="216.618" y="225.6" font-size="3.6" text-anchor="middle" fill="#3a3a3a">10<tspan font-size="2.59" dy="-1.4">3</tspan></text>
<text x="228.716" y="225.6" font-size="3.6" text-anchor="middle" fill="#3a3a3a">10<tspan font-size="2.59" dy="-1.4">4</tspan></text>
<text x="240.02499999999998" y="225.6" font-size="3.6" text-anchor="middle" fill="#3a3a3a">10<tspan font-size="2.59" dy="-1.4">5</tspan></text>
<rect x="258.8" y="170.3" width="51.80000000000001" height="48.89999999999998" fill="none" stroke="#b4b4b4" stroke-width="0.6"/>
<line x1="281.6" y1="170.3" x2="281.6" y2="219.2" stroke="#d0d0d0" stroke-width="0.45"/>
<line x1="258.8" y1="199.6" x2="310.6" y2="199.6" stroke="#d0d0d0" stroke-width="0.45"/>
<text x="282.6000000000001" y="165.6" font-size="6.5" text-anchor="middle" fill="#1a1a1a" stroke="#1a1a1a" stroke-width="0.18">CD41-/E-/L+</text>
<text x="260.6" y="175.9" font-size="5.0" fill="#55558a">46.9</text>
<text x="309.8" y="175.9" font-size="5.0" text-anchor="end" fill="#55558a">25.9</text>
<text x="260.6" y="218.6" font-size="5.0" fill="#55558a">8.8</text>
<text x="309.8" y="218.6" font-size="5.0" text-anchor="end" fill="#55558a">15.4</text>
<text x="252.20000000000002" y="175.9" font-size="3.6" fill="#3a3a3a">10<tspan font-size="2.59" dy="-1.4">5</tspan></text>
<text x="252.20000000000002" y="185.1" font-size="3.6" fill="#3a3a3a">10<tspan font-size="2.59" dy="-1.4">4</tspan></text>
<text x="252.20000000000002" y="199.29999999999998" font-size="3.6" fill="#3a3a3a">10<tspan font-size="2.59" dy="-1.4">3</tspan></text>
<text x="252.20000000000002" y="211.2" font-size="3.6" fill="#3a3a3a">10<tspan font-size="2.59" dy="-1.4">2</tspan></text>
<text x="255.20000000000002" y="215.3" font-size="3.6" fill="#3a3a3a" stroke="#3a3a3a" stroke-width="0.18">0</text>
<text x="266.9" y="225.6" font-size="3.6" text-anchor="middle" fill="#3a3a3a">0 10<tspan font-size="2.59" dy="-1.4">3</tspan></text>
<text x="281.074" y="225.6" font-size="3.6" text-anchor="middle" fill="#3a3a3a">10<tspan font-size="2.59" dy="-1.4">3</tspan></text>
<text x="292.988" y="225.6" font-size="3.6" text-anchor="middle" fill="#3a3a3a">10<tspan font-size="2.59" dy="-1.4">4</tspan></text>
<text x="304.125" y="225.6" font-size="3.6" text-anchor="middle" fill="#3a3a3a">10<tspan font-size="2.59" dy="-1.4">5</tspan></text>
<path d="M162.2 198.2h0.45M165.3 201.2h0.45M162.5 195.6h0.45M163.1 203.7h0.45M162.2 199.9h0.45M159.5 194.1h0.45M163.7 187.4h0.45M163.0 204.8h0.45M162.7 196.5h0.45M165.9 197.5h0.45M159.7 190.4h0.45M163.9 191.4h0.45M164.0 200.2h0.45M162.7 201.0h0.45M161.7 185.1h0.45M162.8 193.5h0.45M163.0 204.5h0.45M162.2 191.4h0.45M164.8 200.5h0.45M167.4 189.1h0.45M162.8 193.0h0.45M160.1 192.4h0.45M161.7 200.3h0.45M164.9 196.8h0.45M166.4 196.4h0.45M162.3 192.9h0.45M162.9 193.5h0.45M159.5 187.3h0.45M162.2 195.0h0.45M161.5 188.6h0.45M164.0 198.3h0.45M162.8 192.1h0.45M162.0 199.4h0.45M161.2 202.1h0.45M165.1 195.2h0.45M165.6 197.1h0.45M161.4 199.5h0.45M161.3 202.0h0.45M164.2 194.3h0.45M164.1 197.3h0.45M163.1 196.4h0.45M162.7 184.6h0.45M159.3 194.5h0.45M162.0 194.9h0.45M160.7 187.1h0.45M161.6 191.5h0.45M163.4 201.0h0.45M164.4 199.0h0.45M166.9 200.0h0.45M162.5 194.8h0.45M160.3 193.9h0.45M162.0 196.2h0.45M165.3 194.1h0.45M165.3 197.2h0.45M164.5 201.7h0.45M160.7 192.0h0.45M160.8 193.3h0.45M161.0 189.9h0.45M163.5 193.4h0.45M159.3 199.8h0.45M160.6 203.6h0.45M162.3 197.8h0.45M162.4 192.6h0.45M164.7 194.5h0.45M162.7 196.1h0.45M162.1 189.3h0.45M158.7 177.1h0.45M160.7 202.4h0.45M163.5 189.8h0.45M166.5 195.7h0.45M158.5 201.9h0.45M163.0 192.4h0.45M164.4 202.4h0.45M167.1 192.0h0.45M165.0 197.2h0.45M163.8 205.4h0.45M162.7 193.0h0.45M165.0 184.7h0.45M161.5 208.6h0.45M161.9 194.9h0.45M163.1 196.9h0.45M156.0 193.5h0.45M164.9 200.4h0.45M166.6 197.5h0.45M166.0 200.1h0.45M163.5 198.9h0.45M162.9 191.5h0.45M162.7 191.9h0.45M162.0 199.1h0.45M162.8 188.7h0.45M162.0 191.4h0.45M162.7 196.0h0.45M160.1 193.2h0.45M159.1 198.4h0.45M161.9 192.4h0.45M161.2 193.3h0.45M164.8 191.1h0.45M162.2 206.6h0.45M162.2 198.1h0.45M165.2 204.8h0.45M162.9 191.9h0.45M165.1 192.1h0.45M164.6 200.2h0.45M161.8 192.6h0.45M166.6 200.4h0.45M162.7 195.7h0.45M164.2 198.2h0.45M164.4 188.1h0.45M165.6 193.0h0.45M163.1 194.4h0.45M160.0 199.8h0.45M161.2 203.9h0.45M166.9 197.9h0.45M166.6 195.9h0.45M160.1 198.8h0.45M164.5 198.4h0.45M163.3 200.2h0.45M161.9 186.5h0.45M160.5 200.2h0.45M163.1 207.7h0.45M166.5 201.3h0.45M161.6 195.2h0.45M159.4 188.9h0.45M163.2 197.7h0.45M160.3 203.1h0.45M162.9 186.3h0.45M165.9 191.3h0.45M162.4 189.9h0.45M163.4 192.6h0.45M161.3 195.0h0.45M164.6 193.3h0.45M166.1 205.2h0.45M166.1 190.4h0.45M163.7 194.5h0.45M160.0 195.7h0.45M159.3 188.3h0.45M165.9 188.6h0.45M163.7 198.1h0.45M160.0 196.8h0.45M160.1 184.5h0.45M159.8 201.3h0.45M159.4 195.3h0.45M164.6 196.0h0.45M165.4 192.8h0.45M164.0 200.6h0.45M162.4 193.8h0.45M162.8 193.1h0.45M163.6 198.4h0.45M159.5 191.5h0.45M163.0 196.1h0.45M162.7 192.9h0.45M162.0 198.6h0.45M163.0 195.5h0.45M160.1 196.3h0.45M164.9 194.5h0.45M163.3 194.3h0.45M164.3 194.1h0.45M161.0 194.4h0.45M162.1 195.1h0.45M160.9 193.6h0.45M157.5 198.5h0.45M159.3 193.2h0.45M161.9 205.3h0.45M163.4 196.3h0.45M168.1 201.3h0.45M162.2 197.2h0.45M161.6 191.2h0.45M163.9 192.4h0.45M164.9 199.7h0.45M162.1 196.2h0.45M159.9 190.4h0.45M163.4 191.8h0.45M162.8 193.2h0.45M163.8 200.6h0.45M167.1 198.7h0.45M164.7 189.2h0.45M164.0 201.0h0.45M160.0 196.1h0.45M164.5 199.9h0.45M164.9 193.3h0.45M166.5 197.0h0.45M164.1 193.8h0.45M164.0 205.9h0.45M166.6 198.0h0.45M164.6 190.3h0.45M162.3 198.8h0.45M163.0 185.4h0.45M162.6 203.7h0.45M162.9 192.6h0.45M164.8 198.1h0.45M161.8 191.2h0.45M158.6 196.7h0.45M163.8 197.3h0.45M159.7 195.4h0.45M161.6 194.4h0.45M163.3 179.1h0.45M166.0 194.3h0.45M164.0 204.6h0.45M165.2 193.5h0.45M161.8 196.7h0.45M162.5 206.9h0.45M159.8 192.6h0.45M163.9 207.1h0.45M160.1 194.7h0.45M166.4 184.9h0.45M163.4 198.9h0.45M163.1 198.7h0.45M162.2 195.2h0.45M161.5 198.9h0.45M163.6 207.3h0.45M161.6 194.3h0.45M163.3 198.5h0.45M166.8 196.3h0.45M161.5 200.7h0.45M162.7 199.4h0.45M162.2 194.9h0.45M161.4 199.4h0.45M164.2 204.5h0.45M162.9 200.1h0.45M157.6 188.2h0.45M163.6 197.4h0.45M163.5 189.4h0.45M161.2 192.5h0.45M162.8 199.7h0.45M162.7 192.6h0.45M164.1 185.6h0.45M162.3 193.5h0.45M161.7 196.2h0.45M163.1 194.2h0.45M164.5 203.1h0.45M164.3 193.6h0.45M161.1 196.9h0.45M164.6 197.5h0.45M163.4 198.2h0.45M160.2 183.2h0.45M158.0 188.2h0.45M163.1 199.3h0.45M163.2 203.2h0.45M162.9 196.7h0.45M162.4 189.9h0.45M164.9 187.3h0.45M163.1 188.7h0.45M162.3 199.0h0.45M163.3 190.4h0.45M158.7 191.0h0.45M160.2 197.1h0.45M165.6 197.0h0.45M164.5 200.0h0.45M162.7 193.8h0.45M164.6 198.8h0.45M165.1 194.7h0.45M165.6 189.0h0.45M161.8 201.2h0.45M163.4 193.7h0.45M165.1 192.9h0.45M163.6 187.7h0.45M162.1 194.5h0.45M162.7 195.5h0.45M159.8 205.4h0.45M160.3 195.2h0.45M163.7 185.5h0.45M163.7 199.9h0.45M159.4 193.1h0.45M161.0 200.7h0.45M166.7 205.5h0.45M163.1 198.8h0.45M159.0 183.6h0.45M162.1 190.2h0.45M165.1 201.7h0.45M163.7 204.5h0.45M162.2 187.3h0.45M160.4 191.0h0.45M166.2 194.0h0.45M164.8 192.2h0.45M161.6 189.9h0.45M159.7 188.9h0.45M163.7 197.1h0.45M162.0 193.3h0.45M166.2 192.3h0.45M159.4 190.3h0.45M163.6 196.1h0.45M165.2 200.1h0.45M164.0 186.6h0.45M165.8 197.4h0.45M158.9 203.6h0.45M161.7 194.2h0.45M165.7 202.5h0.45M163.1 191.3h0.45M163.1 196.7h0.45M162.3 196.8h0.45M163.3 186.1h0.45M162.6 193.6h0.45M163.0 188.4h0.45M162.8 194.1h0.45M160.8 199.8h0.45M166.7 202.2h0.45M159.2 190.6h0.45M162.7 194.7h0.45M162.5 193.8h0.45M160.9 188.0h0.45M167.9 204.4h0.45M163.0 194.6h0.45M164.1 191.9h0.45M163.4 195.6h0.45M161.4 198.6h0.45M161.2 191.5h0.45M161.4 187.2h0.45M159.9 200.7h0.45M162.7 198.0h0.45M159.5 194.4h0.45M161.0 191.9h0.45M162.8 199.0h0.45M163.7 188.6h0.45M165.4 200.2h0.45M161.7 200.5h0.45M164.0 197.3h0.45M163.3 204.3h0.45M162.5 193.2h0.45M163.7 198.8h0.45M165.9 193.1h0.45M163.7 193.8h0.45M164.1 190.5h0.45M162.3 194.1h0.45M160.8 188.5h0.45M162.2 188.8h0.45M163.1 191.9h0.45M160.7 194.1h0.45M163.1 207.2h0.45M163.5 203.0h0.45M161.2 185.6h0.45M168.0 203.2h0.45M162.2 191.8h0.45M157.5 196.8h0.45M163.6 203.7h0.45M161.4 196.4h0.45M161.6 193.9h0.45M164.0 196.8h0.45M164.6 197.2h0.45M161.6 201.4h0.45M161.0 200.6h0.45M172.4 186.9h0.45M166.6 183.0h0.45M164.4 191.1h0.45M155.0 186.0h0.45M162.0 204.7h0.45M162.9 196.3h0.45M166.7 210.3h0.45M156.0 200.5h0.45M159.8 188.1h0.45M156.7 205.9h0.45M162.3 187.0h0.45M161.1 194.9h0.45M167.5 184.9h0.45M157.2 196.2h0.45M157.0 185.8h0.45M161.2 179.4h0.45M159.2 193.2h0.45M158.1 195.0h0.45M162.9 201.7h0.45M156.0 197.3h0.45M166.1 184.5h0.45M162.3 199.3h0.45M167.7 189.3h0.45M164.8 194.2h0.45M161.8 195.9h0.45M157.2 189.6h0.45M162.7 207.0h0.45M160.3 183.1h0.45M163.5 195.0h0.45M162.4 181.7h0.45M166.7 205.5h0.45M160.4 194.9h0.45M163.9 196.8h0.45M156.6 198.1h0.45M161.1 196.2h0.45M159.8 203.2h0.45M160.9 212.2h0.45M165.6 202.2h0.45M165.2 196.3h0.45M158.0 194.3h0.45M154.3 195.4h0.45M157.0 200.1h0.45M161.0 189.7h0.45M161.7 201.4h0.45M161.4 203.3h0.45M151.4 194.1h0.45M159.9 200.7h0.45M163.8 194.4h0.45M162.2 199.4h0.45M164.3 194.5h0.45M165.8 187.3h0.45M158.3 198.0h0.45M159.6 192.9h0.45M162.6 184.7h0.45M160.0 191.7h0.45M162.1 202.3h0.45M162.1 194.2h0.45M167.4 203.7h0.45M163.8 194.0h0.45M158.6 186.0h0.45M154.3 195.5h0.45M162.9 184.8h0.45M162.8 198.7h0.45M158.6 200.5h0.45M161.4 205.7h0.45M157.7 189.6h0.45M164.7 191.4h0.45M161.5 195.7h0.45M162.6 184.0h0.45M166.0 190.6h0.45M161.0 194.1h0.45M156.7 204.2h0.45M163.7 190.4h0.45M166.0 188.8h0.45M164.5 200.1h0.45M172.3 199.1h0.45M165.1 209.5h0.45M157.8 205.0h0.45M162.1 209.3h0.45M160.4 198.4h0.45M159.0 188.7h0.45M159.6 196.5h0.45M150.9 196.9h0.45M165.4 199.9h0.45M156.3 196.1h0.45M159.4 200.5h0.45M167.4 190.8h0.45M165.0 197.2h0.45M160.8 184.0h0.45M159.5 189.8h0.45M158.1 201.6h0.45M158.9 183.5h0.45M170.5 196.8h0.45M159.5 201.3h0.45M161.9 192.5h0.45M163.4 198.1h0.45M164.2 189.3h0.45M156.6 193.1h0.45M172.6 200.8h0.45M165.2 202.6h0.45M163.6 196.3h0.45M163.2 200.7h0.45M166.3 201.4h0.45M155.9 189.6h0.45M173.0 188.1h0.45M167.5 190.6h0.45M164.8 190.4h0.45M166.6 188.7h0.45M155.7 212.3h0.45M155.6 188.2h0.45M157.0 186.7h0.45M166.3 191.9h0.45M160.6 190.6h0.45M162.8 195.9h0.45M155.4 203.3h0.45M159.1 209.5h0.45M166.3 205.8h0.45M154.1 187.8h0.45M164.0 196.2h0.45M159.2 175.0h0.45M158.4 198.3h0.45M159.8 204.5h0.45M161.0 192.0h0.45M157.2 193.6h0.45M161.5 185.4h0.45M159.3 187.6h0.45M169.1 194.8h0.45M159.6 198.5h0.45M169.3 205.3h0.45M158.4 189.0h0.45M161.7 195.8h0.45M168.3 189.8h0.45M158.8 184.4h0.45M164.8 197.2h0.45M166.0 201.6h0.45M160.6 214.4h0.45M158.6 198.3h0.45M160.0 197.3h0.45M164.5 204.7h0.45M163.6 186.5h0.45M165.4 188.3h0.45M162.7 205.4h0.45M164.4 201.3h0.45M163.6 194.3h0.45M161.2 201.0h0.45M161.2 182.4h0.45M160.8 209.3h0.45M162.0 177.8h0.45M161.3 197.7h0.45M168.6 201.7h0.45M154.4 194.3h0.45M162.7 197.3h0.45M162.4 200.3h0.45M166.0 197.6h0.45M168.6 189.3h0.45M162.9 199.5h0.45M165.5 200.8h0.45M157.6 181.5h0.45M160.6 203.8h0.45M166.7 194.6h0.45M156.9 197.4h0.45M158.7 201.9h0.45M163.6 185.8h0.45M167.1 208.4h0.45M165.3 191.6h0.45M165.7 196.8h0.45M158.8 182.2h0.45M159.8 202.6h0.45M159.4 199.1h0.45M165.0 189.7h0.45M167.2 197.6h0.45M156.2 193.4h0.45M158.8 197.0h0.45M161.8 198.1h0.45M164.2 200.9h0.45M162.7 201.4h0.45M164.8 189.0h0.45M162.4 194.8h0.45M172.8 202.5h0.45M162.2 196.0h0.45M161.6 188.7h0.45M162.7 189.1h0.45M163.5 194.5h0.45M161.0 199.3h0.45M163.1 193.2h0.45M171.5 213.9h0.45M161.9 194.6h0.45M163.6 188.5h0.45M159.9 185.1h0.45M153.0 197.8h0.45" stroke="#555" stroke-width="0.45" fill="none"/>
<path d="M217.3 194.9h0.45M225.5 186.1h0.45M221.5 190.3h0.45M228.7 201.7h0.45M227.9 199.7h0.45M225.3 193.6h0.45M220.9 193.9h0.45M224.2 187.1h0.45M218.9 192.2h0.45M226.5 198.8h0.45M219.7 196.5h0.45M219.8 190.1h0.45M224.8 183.8h0.45M220.9 198.5h0.45M219.2 199.4h0.45M221.5 200.9h0.45M221.4 194.3h0.45M223.8 192.7h0.45M225.3 195.6h0.45M228.5 198.1h0.45M227.6 198.0h0.45M223.4 199.3h0.45M222.3 197.4h0.45M221.1 194.4h0.45M220.1 191.6h0.45M226.6 188.0h0.45M227.8 191.2h0.45M223.5 198.9h0.45M224.2 202.0h0.45M228.8 197.8h0.45M219.6 191.6h0.45M225.7 198.4h0.45M227.1 192.2h0.45M223.2 201.7h0.45M223.7 191.8h0.45M227.0 194.9h0.45M229.6 202.1h0.45M223.1 191.6h0.45M220.7 191.8h0.45M226.2 191.6h0.45M226.4 192.4h0.45M227.7 196.6h0.45M225.0 190.4h0.45M224.3 196.4h0.45M223.9 195.3h0.45M224.3 204.2h0.45M223.4 197.3h0.45M222.0 191.6h0.45M216.9 202.8h0.45M224.6 206.9h0.45M227.4 206.1h0.45M221.5 199.2h0.45M218.8 192.1h0.45M226.7 202.8h0.45M221.3 194.7h0.45M224.3 205.6h0.45M225.6 198.0h0.45M220.4 194.1h0.45M225.0 195.0h0.45M226.0 199.1h0.45M221.1 198.1h0.45M231.4 201.1h0.45M227.8 189.7h0.45M219.7 192.9h0.45M221.3 199.2h0.45M222.6 191.7h0.45M220.7 199.7h0.45M230.2 205.5h0.45M220.7 193.7h0.45M229.3 204.3h0.45M226.7 187.7h0.45M223.1 193.2h0.45M225.2 197.2h0.45M223.3 194.4h0.45M227.3 209.3h0.45M223.5 201.3h0.45M223.3 198.5h0.45M224.1 188.5h0.45M220.7 188.4h0.45M225.3 194.1h0.45M224.0 201.4h0.45M223.8 191.1h0.45M222.6 195.4h0.45M223.5 192.6h0.45M221.4 191.3h0.45M227.7 200.2h0.45M229.5 198.7h0.45M231.4 195.8h0.45M224.0 201.7h0.45M222.7 189.9h0.45M224.6 201.5h0.45M224.6 198.2h0.45M222.6 197.9h0.45M223.5 191.5h0.45M228.2 198.1h0.45M225.5 194.8h0.45M221.3 203.5h0.45M228.4 190.4h0.45M226.2 192.3h0.45M227.7 197.1h0.45M224.7 194.7h0.45M227.6 201.2h0.45M222.3 191.3h0.45M221.1 190.5h0.45M224.9 190.4h0.45M227.6 197.4h0.45M221.2 198.9h0.45M225.0 185.8h0.45M220.7 182.1h0.45M223.4 200.1h0.45M224.5 194.6h0.45M223.2 201.0h0.45M218.2 190.2h0.45M222.7 203.3h0.45M227.3 189.9h0.45M225.2 195.3h0.45M218.8 200.5h0.45M222.3 195.3h0.45M220.5 188.5h0.45M225.7 196.6h0.45M220.7 194.4h0.45M223.6 202.0h0.45M224.4 200.8h0.45M219.7 195.9h0.45M225.1 199.6h0.45M222.3 184.3h0.45M219.2 195.0h0.45M220.9 192.4h0.45M224.0 187.7h0.45M217.5 192.3h0.45M224.6 187.1h0.45M228.5 195.7h0.45M225.5 190.0h0.45M222.4 189.9h0.45M226.6 192.0h0.45M221.7 201.1h0.45M221.3 198.0h0.45M222.0 192.9h0.45M227.3 199.5h0.45M219.9 199.8h0.45M224.7 193.9h0.45M226.1 197.2h0.45M228.1 191.3h0.45M223.1 198.4h0.45M224.5 199.6h0.45M224.8 196.2h0.45M221.9 193.1h0.45M221.7 198.4h0.45M222.4 190.5h0.45M223.3 203.5h0.45M223.9 197.4h0.45M219.2 182.9h0.45M226.7 202.2h0.45M219.4 189.0h0.45M225.0 202.2h0.45M221.9 198.6h0.45M226.0 197.9h0.45M229.7 194.9h0.45M222.3 189.0h0.45M226.0 195.3h0.45M226.5 200.4h0.45M228.0 201.4h0.45M223.0 193.5h0.45M223.1 194.6h0.45M222.6 189.7h0.45M227.3 198.5h0.45M227.4 193.6h0.45M219.2 196.4h0.45M218.3 199.0h0.45M226.8 197.1h0.45M224.1 188.1h0.45M220.0 196.3h0.45M217.8 195.3h0.45M221.8 202.8h0.45M226.2 194.4h0.45M223.9 196.7h0.45M227.3 194.9h0.45M222.0 196.9h0.45M220.5 194.9h0.45M220.6 195.2h0.45M226.3 197.4h0.45M227.2 191.1h0.45M227.1 192.2h0.45M226.2 195.0h0.45M225.5 194.2h0.45M231.3 200.3h0.45M223.0 190.7h0.45M227.7 201.0h0.45M224.7 190.0h0.45M225.6 198.7h0.45M224.0 195.1h0.45M221.7 189.1h0.45M224.9 199.5h0.45M226.4 202.1h0.45M218.1 189.3h0.45M223.9 197.0h0.45M227.8 198.6h0.45M222.9 196.7h0.45M224.1 188.5h0.45M219.4 202.9h0.45M223.0 206.8h0.45M223.5 191.4h0.45M224.3 194.2h0.45M223.5 198.9h0.45M225.6 191.4h0.45M225.8 197.3h0.45M225.3 196.3h0.45M229.7 199.5h0.45M224.9 199.4h0.45M221.2 193.0h0.45M218.1 196.7h0.45M230.0 189.2h0.45M226.0 200.5h0.45M221.9 197.3h0.45M221.3 197.7h0.45M228.1 196.0h0.45M222.7 199.4h0.45M229.4 187.3h0.45M226.6 201.4h0.45M224.1 195.2h0.45M224.6 195.8h0.45M230.9 197.3h0.45M223.1 188.3h0.45M221.2 195.7h0.45M220.8 193.6h0.45M225.3 197.4h0.45M220.9 197.2h0.45M224.0 184.1h0.45M226.5 188.2h0.45M221.2 201.5h0.45M218.5 197.2h0.45M227.5 191.0h0.45M231.1 199.4h0.45M227.1 185.5h0.45M224.9 197.4h0.45M223.1 192.9h0.45M226.0 199.5h0.45M221.3 187.5h0.45M222.6 183.5h0.45M224.0 192.0h0.45M223.1 187.1h0.45M223.6 188.2h0.45M229.9 195.9h0.45M228.9 187.1h0.45M228.4 199.4h0.45M223.0 188.7h0.45M225.6 189.5h0.45M226.7 200.7h0.45M225.3 201.1h0.45M223.8 194.6h0.45M225.3 191.4h0.45M230.0 191.1h0.45M219.9 200.0h0.45M217.3 186.7h0.45M224.9 192.8h0.45M225.1 197.0h0.45M226.6 187.1h0.45M227.9 202.0h0.45M225.3 197.1h0.45M224.1 194.1h0.45M229.1 193.2h0.45M220.2 193.6h0.45M227.5 202.5h0.45M221.9 206.0h0.45M230.2 201.0h0.45M223.9 191.1h0.45M216.7 196.3h0.45M226.6 208.4h0.45M226.9 189.9h0.45M221.8 205.9h0.45M225.3 194.4h0.45M226.5 196.9h0.45M219.4 205.9h0.45M225.1 200.3h0.45M224.3 199.0h0.45M226.8 196.6h0.45M225.5 191.0h0.45M229.3 202.5h0.45M224.0 190.2h0.45M229.5 197.0h0.45M222.3 198.5h0.45M226.1 194.8h0.45M226.7 193.7h0.45M224.1 194.0h0.45M223.3 195.4h0.45M225.6 196.7h0.45M223.4 196.6h0.45M230.8 195.3h0.45M223.3 194.8h0.45M222.9 198.3h0.45M220.5 185.6h0.45M225.4 194.4h0.45M227.7 194.3h0.45M226.4 197.8h0.45M227.6 197.0h0.45M221.4 194.0h0.45M222.8 198.7h0.45M228.0 193.7h0.45M225.3 197.4h0.45M224.2 195.2h0.45M227.0 195.9h0.45M220.2 192.5h0.45M227.3 199.4h0.45M226.1 191.9h0.45M222.4 189.6h0.45M225.5 204.2h0.45M222.3 200.8h0.45M223.0 180.4h0.45M223.1 186.9h0.45M223.1 194.7h0.45M219.8 193.0h0.45M222.0 193.2h0.45M224.5 184.3h0.45M218.2 207.1h0.45M222.5 194.6h0.45M220.9 193.3h0.45M224.8 189.7h0.45M224.0 194.9h0.45M227.3 200.5h0.45M222.0 189.8h0.45M225.0 196.4h0.45M224.2 204.1h0.45M224.2 196.0h0.45M222.6 197.8h0.45M226.8 195.0h0.45M222.1 195.3h0.45M224.1 198.4h0.45M222.5 181.3h0.45M223.7 193.6h0.45M223.8 198.1h0.45M221.2 188.0h0.45M222.0 195.5h0.45M226.9 190.3h0.45M224.2 189.5h0.45M227.0 201.7h0.45M226.2 194.1h0.45M222.5 196.3h0.45M228.0 193.7h0.45M226.5 198.1h0.45M216.9 190.5h0.45M227.7 197.0h0.45M224.3 192.6h0.45M227.6 202.1h0.45M219.7 191.2h0.45M224.2 194.1h0.45M226.5 197.9h0.45M222.7 194.2h0.45M220.0 192.0h0.45M227.1 198.3h0.45M222.2 189.3h0.45M222.9 199.6h0.45M224.3 190.8h0.45M224.8 198.6h0.45M224.9 199.3h0.45M217.2 195.8h0.45M223.7 203.0h0.45M224.2 197.5h0.45M221.2 192.2h0.45M226.9 189.9h0.45M227.5 201.1h0.45M225.0 200.8h0.45M223.6 196.1h0.45M235.4 199.3h0.45M219.9 208.7h0.45M232.9 193.6h0.45M216.6 192.3h0.45M219.9 206.9h0.45M222.3 197.7h0.45M210.4 207.0h0.45M225.3 183.2h0.45M226.2 196.5h0.45M215.1 189.1h0.45M212.1 199.2h0.45M218.6 203.2h0.45M222.5 188.5h0.45M222.6 198.9h0.45M220.1 196.5h0.45M223.0 177.7h0.45M219.8 194.9h0.45M225.2 196.9h0.45M231.7 216.9h0.45M214.6 188.0h0.45M230.7 199.2h0.45M224.6 203.2h0.45M232.0 187.4h0.45M216.4 185.8h0.45M223.0 191.1h0.45M222.6 184.8h0.45M226.1 181.5h0.45M220.4 188.1h0.45M216.3 181.4h0.45M221.2 204.9h0.45M217.8 189.6h0.45M230.3 187.0h0.45M216.2 194.8h0.45M217.0 193.0h0.45M230.3 186.4h0.45M216.6 194.5h0.45M224.8 202.3h0.45M219.2 193.2h0.45M221.8 208.6h0.45M227.8 204.3h0.45M229.6 182.6h0.45M216.7 200.1h0.45M218.4 182.9h0.45M207.6 182.5h0.45M234.4 187.5h0.45M216.8 205.7h0.45M227.2 202.9h0.45M226.1 196.5h0.45M219.8 191.1h0.45M222.1 201.4h0.45M216.6 191.8h0.45M223.3 200.5h0.45M221.1 201.3h0.45M224.9 209.7h0.45M220.2 199.1h0.45M220.5 193.8h0.45M214.8 195.5h0.45M221.7 186.3h0.45M223.1 201.3h0.45M223.2 186.3h0.45M221.6 197.1h0.45M225.5 200.4h0.45M225.7 206.6h0.45M217.2 193.3h0.45M223.4 204.7h0.45M234.3 204.7h0.45M225.4 195.7h0.45M218.0 199.4h0.45M219.0 193.5h0.45M227.0 210.1h0.45M229.1 205.9h0.45M222.8 192.4h0.45M224.9 209.3h0.45M209.1 195.4h0.45M221.4 199.2h0.45M224.8 193.5h0.45M224.0 192.8h0.45M219.1 205.1h0.45M219.9 195.9h0.45M225.6 188.8h0.45M234.2 196.0h0.45M225.5 199.5h0.45M223.5 192.0h0.45M227.0 209.3h0.45M221.2 189.7h0.45M231.7 199.2h0.45M223.1 198.1h0.45M223.3 193.4h0.45M227.2 206.5h0.45M210.8 194.7h0.45M219.0 207.7h0.45M227.5 185.9h0.45M225.0 204.9h0.45M219.4 186.7h0.45M220.8 195.3h0.45M229.9 205.7h0.45M225.9 206.0h0.45M218.7 188.6h0.45M225.5 200.9h0.45M226.0 192.5h0.45M220.3 194.5h0.45M215.1 184.4h0.45M217.5 212.5h0.45M231.1 201.4h0.45M229.2 192.7h0.45M224.4 191.4h0.45M226.2 203.7h0.45M219.0 189.4h0.45M229.7 202.7h0.45M215.8 204.1h0.45M225.8 200.0h0.45M221.3 198.6h0.45M223.5 185.3h0.45M220.0 198.0h0.45M223.1 196.5h0.45M215.5 204.6h0.45M219.1 186.2h0.45M221.9 196.9h0.45M218.5 203.8h0.45M224.3 203.1h0.45M225.9 195.6h0.45M217.2 201.5h0.45M229.6 192.4h0.45M223.5 195.5h0.45M207.1 200.5h0.45M227.0 193.5h0.45M220.3 190.5h0.45M228.2 205.3h0.45M219.2 190.9h0.45M231.3 196.4h0.45M223.4 205.9h0.45M221.4 204.6h0.45M220.7 202.0h0.45M216.9 182.8h0.45M219.2 205.8h0.45M220.9 190.3h0.45M220.0 193.5h0.45M223.0 186.9h0.45M227.9 199.0h0.45M215.5 191.0h0.45M225.1 202.1h0.45M228.0 185.6h0.45M216.9 206.1h0.45M218.8 191.2h0.45M225.6 207.2h0.45M222.9 201.3h0.45M221.6 194.2h0.45M226.1 198.4h0.45M220.2 201.5h0.45M220.5 197.4h0.45M226.3 203.7h0.45M220.1 187.0h0.45M219.7 208.6h0.45M217.1 191.2h0.45M221.5 192.7h0.45M221.8 182.8h0.45M230.0 184.7h0.45M215.8 203.1h0.45M226.9 187.9h0.45M220.5 190.2h0.45M223.5 199.2h0.45M219.4 179.9h0.45M222.6 199.2h0.45M225.1 199.4h0.45M222.3 199.2h0.45M216.3 184.5h0.45M223.3 188.7h0.45M222.3 189.2h0.45M216.3 177.1h0.45M225.4 195.1h0.45M225.0 191.0h0.45M230.5 190.2h0.45M221.1 199.7h0.45M219.7 195.7h0.45M227.6 196.1h0.45M218.1 202.1h0.45M230.2 188.9h0.45M219.0 210.6h0.45M221.9 197.0h0.45M218.4 205.5h0.45M226.0 189.2h0.45M224.5 195.1h0.45M241.9 185.7h0.45M224.7 184.9h0.45M225.6 214.4h0.45M242.3 178.8h0.45M214.7 179.9h0.45M226.1 199.2h0.45M223.6 179.7h0.45M223.2 201.0h0.45M227.8 188.6h0.45M225.8 188.0h0.45M221.8 202.5h0.45M224.7 195.4h0.45M214.5 204.7h0.45M214.3 210.3h0.45M225.8 188.6h0.45M227.8 192.4h0.45" stroke="#555" stroke-width="0.45" fill="none"/>
<path d="M274.8 192.2h0.45M272.1 190.0h0.45M274.5 191.1h0.45M278.4 194.9h0.45M273.5 194.7h0.45M281.1 203.0h0.45M287.8 200.7h0.45M286.4 190.5h0.45M278.7 194.9h0.45M274.1 180.2h0.45M278.5 191.1h0.45M280.2 193.9h0.45M277.4 197.7h0.45M281.0 189.6h0.45M282.5 192.7h0.45M279.8 193.6h0.45M275.4 193.4h0.45M281.0 189.6h0.45M284.9 181.4h0.45M278.1 189.1h0.45M286.7 196.0h0.45M284.1 190.5h0.45M272.9 196.6h0.45M278.8 193.8h0.45M277.5 190.1h0.45M277.2 180.0h0.45M281.6 198.0h0.45M280.6 190.2h0.45M277.4 185.3h0.45M285.2 191.5h0.45M281.9 188.7h0.45M284.9 192.0h0.45M282.0 182.3h0.45M276.5 195.6h0.45M276.4 182.1h0.45M283.3 183.3h0.45M283.4 190.8h0.45M279.5 192.4h0.45M272.4 197.2h0.45M281.0 194.1h0.45M281.9 187.1h0.45M282.1 195.0h0.45M273.3 196.0h0.45M276.9 191.2h0.45M271.0 192.0h0.45M281.8 189.9h0.45M282.0 180.8h0.45M269.7 189.8h0.45M279.1 185.1h0.45M282.8 198.0h0.45M275.1 179.6h0.45M281.9 184.5h0.45M273.5 189.2h0.45M271.4 198.0h0.45M278.4 184.8h0.45M275.2 187.0h0.45M285.1 198.5h0.45M278.4 195.0h0.45M277.3 183.0h0.45M278.9 185.8h0.45M274.4 194.2h0.45M282.9 185.7h0.45M278.0 189.4h0.45M277.8 198.2h0.45M275.4 190.8h0.45M283.4 182.0h0.45M277.9 188.6h0.45M279.8 191.2h0.45M283.4 205.5h0.45M269.7 189.8h0.45M272.1 190.0h0.45M279.2 196.1h0.45M280.6 196.0h0.45M276.3 191.1h0.45M273.5 192.1h0.45M284.3 189.5h0.45M276.5 178.5h0.45M275.7 186.6h0.45M280.6 192.5h0.45M284.6 192.6h0.45M278.1 188.2h0.45M274.9 188.4h0.45M276.4 187.1h0.45M280.4 199.7h0.45M273.9 184.3h0.45M278.2 203.1h0.45M285.8 194.9h0.45M276.8 199.3h0.45M284.6 191.2h0.45M272.0 177.1h0.45M275.2 187.3h0.45M277.5 195.6h0.45M272.6 189.0h0.45M283.6 187.3h0.45M281.1 183.5h0.45M287.3 198.8h0.45M282.3 195.1h0.45M282.2 181.1h0.45M283.0 183.9h0.45M274.8 195.1h0.45M271.6 191.4h0.45M279.3 199.4h0.45M280.3 192.3h0.45M283.6 197.3h0.45M270.3 185.4h0.45M286.5 181.7h0.45M281.3 192.2h0.45M280.2 185.6h0.45M280.5 194.9h0.45M277.5 185.6h0.45M274.8 196.7h0.45M279.7 182.1h0.45M278.4 194.2h0.45M277.7 187.3h0.45M277.1 185.4h0.45M272.8 185.5h0.45M280.3 192.1h0.45M282.7 184.8h0.45M285.1 186.8h0.45M278.5 189.5h0.45M271.4 191.0h0.45M285.8 203.1h0.45M276.0 190.2h0.45M278.6 183.1h0.45M277.9 196.9h0.45M280.1 193.0h0.45M280.2 196.2h0.45M282.6 188.4h0.45M279.7 196.7h0.45M280.2 205.0h0.45M277.4 195.1h0.45M268.4 182.9h0.45M276.5 193.9h0.45M273.8 188.6h0.45M276.3 186.6h0.45M272.1 194.1h0.45M277.1 203.7h0.45M274.0 179.7h0.45M279.6 201.3h0.45M279.1 195.7h0.45M270.3 188.9h0.45M275.3 190.8h0.45M279.6 200.5h0.45M285.9 194.0h0.45M277.5 200.3h0.45M274.7 187.3h0.45M281.3 193.1h0.45M273.9 189.0h0.45M282.8 189.5h0.45M270.6 195.9h0.45M282.3 196.0h0.45M279.3 187.9h0.45M275.9 197.6h0.45M276.4 198.6h0.45M280.4 190.6h0.45M277.9 189.8h0.45M266.1 188.5h0.45M274.4 181.8h0.45M276.8 188.7h0.45M282.5 177.8h0.45M270.6 188.5h0.45M280.5 191.6h0.45M277.3 194.2h0.45M281.4 201.1h0.45M277.7 204.3h0.45M283.0 184.7h0.45M285.8 187.6h0.45M270.4 190.3h0.45M283.0 178.5h0.45M283.9 187.3h0.45M278.8 183.8h0.45M281.4 198.2h0.45M273.6 186.6h0.45M274.3 195.8h0.45M287.2 196.9h0.45M274.5 193.1h0.45M282.2 186.4h0.45M271.5 188.1h0.45M280.9 184.2h0.45M275.2 191.1h0.45M288.1 187.6h0.45M278.7 196.9h0.45M278.6 193.4h0.45M282.6 189.0h0.45M282.2 195.3h0.45M288.3 199.7h0.45M284.6 192.6h0.45M275.1 186.9h0.45M277.2 186.3h0.45M276.8 192.5h0.45M280.1 190.5h0.45M276.5 200.3h0.45M279.4 190.6h0.45M281.7 191.9h0.45M279.8 183.3h0.45M280.9 182.1h0.45M276.9 192.8h0.45M284.2 195.4h0.45M277.9 189.9h0.45M276.1 184.3h0.45M281.1 191.8h0.45M285.3 183.1h0.45M271.6 191.0h0.45M280.6 181.4h0.45M287.6 193.4h0.45M285.7 199.7h0.45M278.9 186.7h0.45M285.9 212.1h0.45M281.5 182.7h0.45M283.1 194.4h0.45M267.7 174.6h0.45M276.7 197.2h0.45M283.4 203.2h0.45M281.9 187.0h0.45M273.1 190.8h0.45M280.9 193.1h0.45M276.2 189.8h0.45M281.8 203.6h0.45M278.3 193.8h0.45M289.8 190.5h0.45M282.1 194.2h0.45M278.0 189.2h0.45M272.5 200.3h0.45M275.8 182.4h0.45M272.2 188.3h0.45M265.2 196.4h0.45M280.7 189.4h0.45M275.2 190.3h0.45M291.2 190.4h0.45M279.6 188.7h0.45M281.7 187.9h0.45M280.9 187.1h0.45M268.0 181.5h0.45M280.2 193.9h0.45M272.9 187.8h0.45M274.7 193.5h0.45M288.9 185.7h0.45M278.2 186.6h0.45M273.6 185.8h0.45M276.9 199.2h0.45M285.5 191.8h0.45M286.2 189.6h0.45M279.5 187.6h0.45M277.5 184.7h0.45M274.7 192.1h0.45M279.1 181.8h0.45M281.5 195.1h0.45M281.7 193.7h0.45M273.2 185.7h0.45M273.7 195.8h0.45M272.1 183.5h0.45M282.1 199.5h0.45M273.8 198.0h0.45M284.7 197.1h0.45M269.3 192.2h0.45M284.3 181.4h0.45M276.4 192.3h0.45M282.4 204.5h0.45M275.5 185.5h0.45M283.1 192.2h0.45M277.5 186.3h0.45M280.5 189.3h0.45M286.1 202.5h0.45M281.3 196.6h0.45M280.8 197.6h0.45M286.5 193.0h0.45M275.0 191.4h0.45M273.1 193.2h0.45M277.9 181.0h0.45M285.1 195.1h0.45M275.7 192.5h0.45M277.9 187.3h0.45M274.7 192.5h0.45M271.0 192.1h0.45M281.3 196.0h0.45M283.6 191.8h0.45M282.5 199.2h0.45M275.3 186.2h0.45M283.7 180.6h0.45M285.1 184.4h0.45M280.4 188.8h0.45M276.4 180.8h0.45M274.5 188.4h0.45M270.6 190.6h0.45M278.5 198.3h0.45M280.3 187.9h0.45M280.2 184.0h0.45M288.3 190.4h0.45M270.5 199.8h0.45M281.5 196.6h0.45M280.4 176.6h0.45M276.0 189.8h0.45M275.3 195.6h0.45M285.5 193.6h0.45M283.2 184.7h0.45M276.1 185.8h0.45M283.5 191.4h0.45M284.8 191.6h0.45M279.6 187.1h0.45M278.6 195.0h0.45M278.5 187.9h0.45M274.5 189.8h0.45M275.1 192.5h0.45M279.8 205.8h0.45M276.8 191.3h0.45M280.7 188.2h0.45M277.7 194.8h0.45M282.3 192.4h0.45M275.8 192.1h0.45M287.0 196.6h0.45M279.4 195.3h0.45M283.7 185.5h0.45M281.0 187.4h0.45M272.8 194.8h0.45M275.6 180.4h0.45M271.9 197.2h0.45M279.6 199.8h0.45M277.7 185.8h0.45M279.5 196.7h0.45M278.9 188.7h0.45M277.0 191.2h0.45M278.7 192.6h0.45M276.7 193.3h0.45M280.6 189.5h0.45M276.5 192.4h0.45M276.2 195.1h0.45M282.4 196.0h0.45M278.0 201.0h0.45M272.0 179.7h0.45M282.5 187.4h0.45M286.8 191.7h0.45M281.9 187.5h0.45M271.8 185.2h0.45M282.0 189.1h0.45M283.3 198.4h0.45M279.3 191.5h0.45M269.6 187.5h0.45M282.3 186.6h0.45M279.4 191.0h0.45M279.3 193.5h0.45M277.8 194.0h0.45M285.1 188.4h0.45M272.1 208.5h0.45M281.8 196.0h0.45M282.6 196.3h0.45M285.6 192.0h0.45M269.8 190.8h0.45M287.5 196.7h0.45M275.0 187.2h0.45M282.1 191.8h0.45M275.4 184.6h0.45M288.5 206.2h0.45M274.2 189.7h0.45M291.5 183.4h0.45M275.4 199.5h0.45M296.7 186.2h0.45M281.8 202.0h0.45M287.4 207.8h0.45M282.9 183.2h0.45M285.4 193.7h0.45M279.3 187.1h0.45M281.7 180.7h0.45M279.4 177.1h0.45M294.1 193.7h0.45M275.0 189.0h0.45M273.6 206.1h0.45M286.1 195.4h0.45M270.6 195.4h0.45M283.1 198.2h0.45M290.6 181.7h0.45M286.1 198.8h0.45M279.8 197.4h0.45M278.3 210.3h0.45M281.1 181.5h0.45M279.5 190.7h0.45M274.6 191.0h0.45M282.4 183.9h0.45M281.8 198.9h0.45M272.7 177.6h0.45M276.2 197.6h0.45M285.9 191.7h0.45M266.5 196.5h0.45M275.9 185.5h0.45M274.4 202.0h0.45M289.3 189.0h0.45M289.3 189.0h0.45M282.2 204.8h0.45M276.0 181.0h0.45M275.0 192.3h0.45M292.9 196.1h0.45M282.5 190.1h0.45M289.2 197.0h0.45M290.8 203.8h0.45M275.3 191.2h0.45M288.9 196.9h0.45M282.2 189.8h0.45M272.2 203.7h0.45M291.4 190.3h0.45M283.7 193.0h0.45M286.3 197.9h0.45M276.9 197.4h0.45M282.9 197.9h0.45M271.8 195.6h0.45M278.1 208.9h0.45M282.9 190.2h0.45M274.5 208.6h0.45M277.4 182.8h0.45M281.9 198.9h0.45M272.6 201.6h0.45M278.2 186.1h0.45M274.5 192.6h0.45M278.7 199.7h0.45M265.6 202.1h0.45M282.6 177.3h0.45M289.6 196.6h0.45M278.0 186.4h0.45M294.1 201.5h0.45M277.4 183.6h0.45M283.3 191.1h0.45M285.4 204.0h0.45M287.6 183.3h0.45M280.6 185.5h0.45M291.9 181.0h0.45M288.1 198.8h0.45M275.0 198.6h0.45M282.8 208.6h0.45M269.9 182.8h0.45M272.1 203.6h0.45M289.4 187.2h0.45M285.2 198.3h0.45M280.1 186.0h0.45M279.9 190.2h0.45M286.8 202.9h0.45M272.7 189.6h0.45M272.1 197.7h0.45M283.9 200.8h0.45M271.4 197.3h0.45M295.0 190.1h0.45M281.0 194.0h0.45M289.0 194.6h0.45M281.5 191.5h0.45M278.4 200.7h0.45M286.1 199.7h0.45M287.3 186.5h0.45M282.6 192.4h0.45M286.5 198.3h0.45M279.7 185.9h0.45M282.6 183.3h0.45M294.3 191.1h0.45M271.0 192.6h0.45M279.8 191.6h0.45M268.2 190.8h0.45M275.5 191.4h0.45M291.1 185.1h0.45M278.7 184.6h0.45M279.5 203.6h0.45M270.5 190.2h0.45M286.0 181.5h0.45M275.8 209.4h0.45M275.5 181.9h0.45M277.2 197.8h0.45M286.7 200.1h0.45M273.2 184.7h0.45M288.5 188.3h0.45M281.7 179.7h0.45M281.4 195.3h0.45M274.1 199.0h0.45M279.0 187.4h0.45M282.5 195.2h0.45M292.0 185.1h0.45M290.6 186.4h0.45M274.1 182.8h0.45M286.1 198.0h0.45M283.7 195.2h0.45M278.9 179.8h0.45M278.5 194.5h0.45M280.4 182.1h0.45M281.7 189.5h0.45M285.8 199.3h0.45M286.9 193.5h0.45M270.9 180.2h0.45M263.5 196.4h0.45M277.0 186.1h0.45M285.2 193.6h0.45M284.0 194.1h0.45M279.4 200.1h0.45M274.6 200.9h0.45M284.8 188.1h0.45M281.2 190.5h0.45M283.5 199.1h0.45M283.5 194.4h0.45M274.2 198.1h0.45M279.2 191.0h0.45M277.9 193.8h0.45M277.6 194.4h0.45M277.3 194.7h0.45M286.6 199.1h0.45M284.7 192.1h0.45M277.6 195.2h0.45M282.2 188.2h0.45M283.9 182.8h0.45M279.2 202.5h0.45M282.5 189.2h0.45M283.9 199.9h0.45M282.0 185.1h0.45M292.8 198.0h0.45M281.1 195.7h0.45M269.3 181.4h0.45M293.9 208.7h0.45M273.8 189.0h0.45M265.6 209.7h0.45M261.1 209.0h0.45M263.7 207.0h0.45M262.0 210.1h0.45M260.7 207.4h0.45M262.8 206.3h0.45M261.7 211.8h0.45M265.6 209.3h0.45M263.3 208.8h0.45M265.3 211.7h0.45M263.7 211.1h0.45M259.9 208.8h0.45M265.2 208.0h0.45M260.9 205.3h0.45M262.7 214.4h0.45M263.1 210.6h0.45M261.1 206.4h0.45M261.2 206.1h0.45M263.6 205.9h0.45" stroke="#666" stroke-width="0.45" fill="none"/>
<polygon points="316.3,198.7 324.40000000000003,198.7 324.40000000000003,196.6 329.1,200.2 324.40000000000003,203.79999999999998 324.40000000000003,201.7 316.3,201.7" fill="#000"/>
<text x="330" y="157.3" font-size="5" fill="#666" font-weight="bold">ii</text>
<text x="364.3" y="170.1" font-size="6.6" text-anchor="middle" fill="#1a1a1a" stroke="#1a1a1a" stroke-width="0.18">CD45</text>
<line x1="349.2" y1="174.6" x2="349.2" y2="233.4" stroke="#000" stroke-width="1.3"/>
<line x1="348.6" y1="232.9" x2="385.5" y2="232.9" stroke="#000" stroke-width="1.2"/>
<line x1="346.8" y1="175.8" x2="349.2" y2="175.8" stroke="#000" stroke-width="0.8"/>
<text x="346.4" y="177.5" font-size="5.0" text-anchor="end" fill="#1a1a1a" stroke="#1a1a1a" stroke-width="0.18">25</text>
<line x1="346.8" y1="187.22000000000003" x2="349.2" y2="187.22000000000003" stroke="#000" stroke-width="0.8"/>
<text x="346.4" y="188.92000000000002" font-size="5.0" text-anchor="end" fill="#1a1a1a" stroke="#1a1a1a" stroke-width="0.18">20</text>
<line x1="346.8" y1="198.64000000000001" x2="349.2" y2="198.64000000000001" stroke="#000" stroke-width="0.8"/>
<text x="346.4" y="200.34" font-size="5.0" text-anchor="end" fill="#1a1a1a" stroke="#1a1a1a" stroke-width="0.18">15</text>
<line x1="346.8" y1="210.06" x2="349.2" y2="210.06" stroke="#000" stroke-width="0.8"/>
<text x="346.4" y="211.76" font-size="5.0" text-anchor="end" fill="#1a1a1a" stroke="#1a1a1a" stroke-width="0.18">10</text>
<line x1="346.8" y1="221.48000000000002" x2="349.2" y2="221.48000000000002" stroke="#000" stroke-width="0.8"/>
<text x="346.4" y="223.18" font-size="5.0" text-anchor="end" fill="#1a1a1a" stroke="#1a1a1a" stroke-width="0.18">5</text>
<text x="336.3" y="203.5" font-size="6.4" text-anchor="middle" fill="#1a1a1a" stroke="#1a1a1a" stroke-width="0.18" transform="rotate(-90 336.3 203.5)">% positive cells</text>
<rect x="353" y="222.9" width="5.6" height="10.0" fill="#68ad45" stroke="none" stroke-width="1"/>
<line x1="355.8" y1="220.3" x2="355.8" y2="222.9" stroke="#000" stroke-width="0.8"/>
<line x1="354.0" y1="220.3" x2="357.6" y2="220.3" stroke="#000" stroke-width="1.0"/>
<rect x="365" y="225.1" width="5.2" height="7.800000000000011" fill="#72b0e0" stroke="none" stroke-width="1"/>
<line x1="367.6" y1="223" x2="367.6" y2="225.1" stroke="#000" stroke-width="0.8"/>
<line x1="365.8" y1="223" x2="369.40000000000003" y2="223" stroke="#000" stroke-width="1.0"/>
<rect x="376.9" y="189" width="5.2" height="43.900000000000006" fill="#b8043a" stroke="none" stroke-width="1"/>
<line x1="379.5" y1="183.3" x2="379.5" y2="189" stroke="#000" stroke-width="0.8"/>
<line x1="377.7" y1="183.3" x2="381.3" y2="183.3" stroke="#000" stroke-width="1.0"/>
<line x1="355.6" y1="232.9" x2="355.6" y2="235.3" stroke="#000" stroke-width="0.8"/>
<line x1="367.6" y1="232.9" x2="367.6" y2="235.3" stroke="#000" stroke-width="0.8"/>
<line x1="379.5" y1="232.9" x2="379.5" y2="235.3" stroke="#000" stroke-width="0.8"/>
<circle cx="376.3" cy="177.6" r="0.85" fill="#1a1a1a"/>
<circle cx="379.4" cy="177.6" r="0.85" fill="#1a1a1a"/>
<circle cx="382.4" cy="177.6" r="0.85" fill="#1a1a1a"/>
<rect x="353.6" y="177.70000000000002" width="3.1" height="3.1" fill="#68ad45" stroke="none" stroke-width="1"/>
<text x="357.7" y="181.3" font-size="5.5" fill="#4a4a4a" stroke="#4a4a4a" stroke-width="0.18">E+L-</text>
<rect x="353.6" y="184.0" width="3.1" height="3.1" fill="#72b0e0" stroke="none" stroke-width="1"/>
<text x="357.7" y="187.6" font-size="5.5" fill="#4a4a4a" stroke="#4a4a4a" stroke-width="0.18">E+L+</text>
<rect x="353.6" y="190.4" width="3.1" height="3.1" fill="#b8043a" stroke="none" stroke-width="1"/>
<text x="357.7" y="194.0" font-size="5.5" fill="#4a4a4a" stroke="#4a4a4a" stroke-width="0.18">E-L+</text>
<text x="389.6" y="157.3" font-size="5" fill="#666" font-weight="bold">iii</text>
<text x="458.4" y="159.6" font-size="6.4" text-anchor="middle" fill="#1a1a1a" stroke="#1a1a1a" stroke-width="0.18">CFU-C</text>
<line x1="412.3" y1="172.7" x2="412.3" y2="233.2" stroke="#000" stroke-width="1.3"/>
<line x1="411.7" y1="232.7" x2="512.5" y2="232.7" stroke="#000" stroke-width="1.2"/>
<line x1="409.8" y1="175.04" x2="412.3" y2="175.04" stroke="#000" stroke-width="0.8"/>
<text x="409.4" y="176.73999999999998" font-size="5.0" text-anchor="end" fill="#1a1a1a" stroke="#1a1a1a" stroke-width="0.18">1200</text>
<line x1="409.8" y1="184.79999999999998" x2="412.3" y2="184.79999999999998" stroke="#000" stroke-width="0.8"/>
<text x="409.4" y="186.49999999999997" font-size="5.0" text-anchor="end" fill="#1a1a1a" stroke="#1a1a1a" stroke-width="0.18">1000</text>
<line x1="409.8" y1="194.56" x2="412.3" y2="194.56" stroke="#000" stroke-width="0.8"/>
<text x="409.4" y="196.26" font-size="5.0" text-anchor="end" fill="#1a1a1a" stroke="#1a1a1a" stroke-width="0.18">800</text>
<line x1="409.8" y1="204.32" x2="412.3" y2="204.32" stroke="#000" stroke-width="0.8"/>
<text x="409.4" y="206.01999999999998" font-size="5.0" text-anchor="end" fill="#1a1a1a" stroke="#1a1a1a" stroke-width="0.18">600</text>
<line x1="409.8" y1="214.07999999999998" x2="412.3" y2="214.07999999999998" stroke="#000" stroke-width="0.8"/>
<text x="409.4" y="215.77999999999997" font-size="5.0" text-anchor="end" fill="#1a1a1a" stroke="#1a1a1a" stroke-width="0.18">400</text>
<line x1="409.8" y1="223.84" x2="412.3" y2="223.84" stroke="#000" stroke-width="0.8"/>
<text x="409.4" y="225.54" font-size="5.0" text-anchor="end" fill="#1a1a1a" stroke="#1a1a1a" stroke-width="0.18">200</text>
<text x="396.4" y="203" font-size="6.3" text-anchor="middle" fill="#1a1a1a" stroke="#1a1a1a" stroke-width="0.18" transform="rotate(-90 396.4 203)">Colonies/3000 cells</text>
<rect x="435.8" y="226" width="7.2" height="6.699999999999989" fill="#b8043a" stroke="none" stroke-width="1"/>
<line x1="439.40000000000003" y1="223.8" x2="439.40000000000003" y2="226" stroke="#000" stroke-width="0.8"/>
<line x1="437.6" y1="223.8" x2="441.20000000000005" y2="223.8" stroke="#000" stroke-width="1.0"/>
<rect x="469.4" y="190" width="6.8" height="42.69999999999999" fill="#b8043a" stroke="none" stroke-width="1"/>
<line x1="472.79999999999995" y1="178" x2="472.79999999999995" y2="190" stroke="#000" stroke-width="0.8"/>
<line x1="470.99999999999994" y1="178" x2="474.59999999999997" y2="178" stroke="#000" stroke-width="1.0"/>
<rect x="426.5" y="232.0" width="4" height="0.6999999999999886" fill="#68ad45" stroke="none" stroke-width="1"/>
<rect x="431" y="232.0" width="4" height="0.6999999999999886" fill="#72b0e0" stroke="none" stroke-width="1"/>
<rect x="459" y="232.0" width="4" height="0.6999999999999886" fill="#68ad45" stroke="none" stroke-width="1"/>
<rect x="464" y="231.6" width="4" height="1.0999999999999943" fill="#72b0e0" stroke="none" stroke-width="1"/>
<line x1="430.5" y1="232.7" x2="430.5" y2="234.7" stroke="#000" stroke-width="0.8"/>
<line x1="464" y1="232.7" x2="464" y2="234.7" stroke="#000" stroke-width="0.8"/>
<line x1="497.3" y1="232.7" x2="497.3" y2="234.7" stroke="#000" stroke-width="0.8"/>
<circle cx="437" cy="217.6" r="0.8" fill="#1a1a1a"/>
<circle cx="440.5" cy="217.6" r="0.8" fill="#1a1a1a"/>
<line x1="449.9" y1="166.6" x2="470.8" y2="166.6" stroke="#000" stroke-width="1.1"/>
<circle cx="456.9" cy="163.1" r="0.82" fill="#1a1a1a"/>
<circle cx="459.8" cy="163.1" r="0.82" fill="#1a1a1a"/>
<circle cx="462.7" cy="163.1" r="0.82" fill="#1a1a1a"/>
<line x1="460" y1="172.7" x2="470.8" y2="172.7" stroke="#000" stroke-width="1.3"/>
<circle cx="463.2" cy="169.7" r="0.82" fill="#1a1a1a"/>
<circle cx="466.2" cy="169.7" r="0.82" fill="#1a1a1a"/>
<text x="430.5" y="241.7" font-size="5.4" text-anchor="middle" fill="#1a1a1a" stroke="#1a1a1a" stroke-width="0.18">Primitive</text>
<text x="463.3" y="241.7" font-size="5.4" text-anchor="middle" fill="#1a1a1a" stroke="#1a1a1a" stroke-width="0.18">Definitive</text>
<text x="497.3" y="241.7" font-size="5.4" text-anchor="middle" fill="#1a1a1a" stroke="#1a1a1a" stroke-width="0.18">Mixed</text>
<rect x="486" y="178.4" width="3.1" height="3.1" fill="#68ad45" stroke="none" stroke-width="1"/>
<text x="490" y="182.0" font-size="5.5" fill="#4a4a4a" stroke="#4a4a4a" stroke-width="0.18">E+L-</text>
<rect x="486" y="184.6" width="3.1" height="3.1" fill="#72b0e0" stroke="none" stroke-width="1"/>
<text x="490" y="188.2" font-size="5.5" fill="#4a4a4a" stroke="#4a4a4a" stroke-width="0.18">E+L+</text>
<rect x="486" y="190.8" width="3.1" height="3.1" fill="#b8043a" stroke="none" stroke-width="1"/>
<text x="490" y="194.4" font-size="5.5" fill="#4a4a4a" stroke="#4a4a4a" stroke-width="0.18">E-L+</text>
<rect x="0.5" y="0.5" width="519" height="255" fill="none" stroke="#111" stroke-width="1.0"/>
</svg>
</body></html>
